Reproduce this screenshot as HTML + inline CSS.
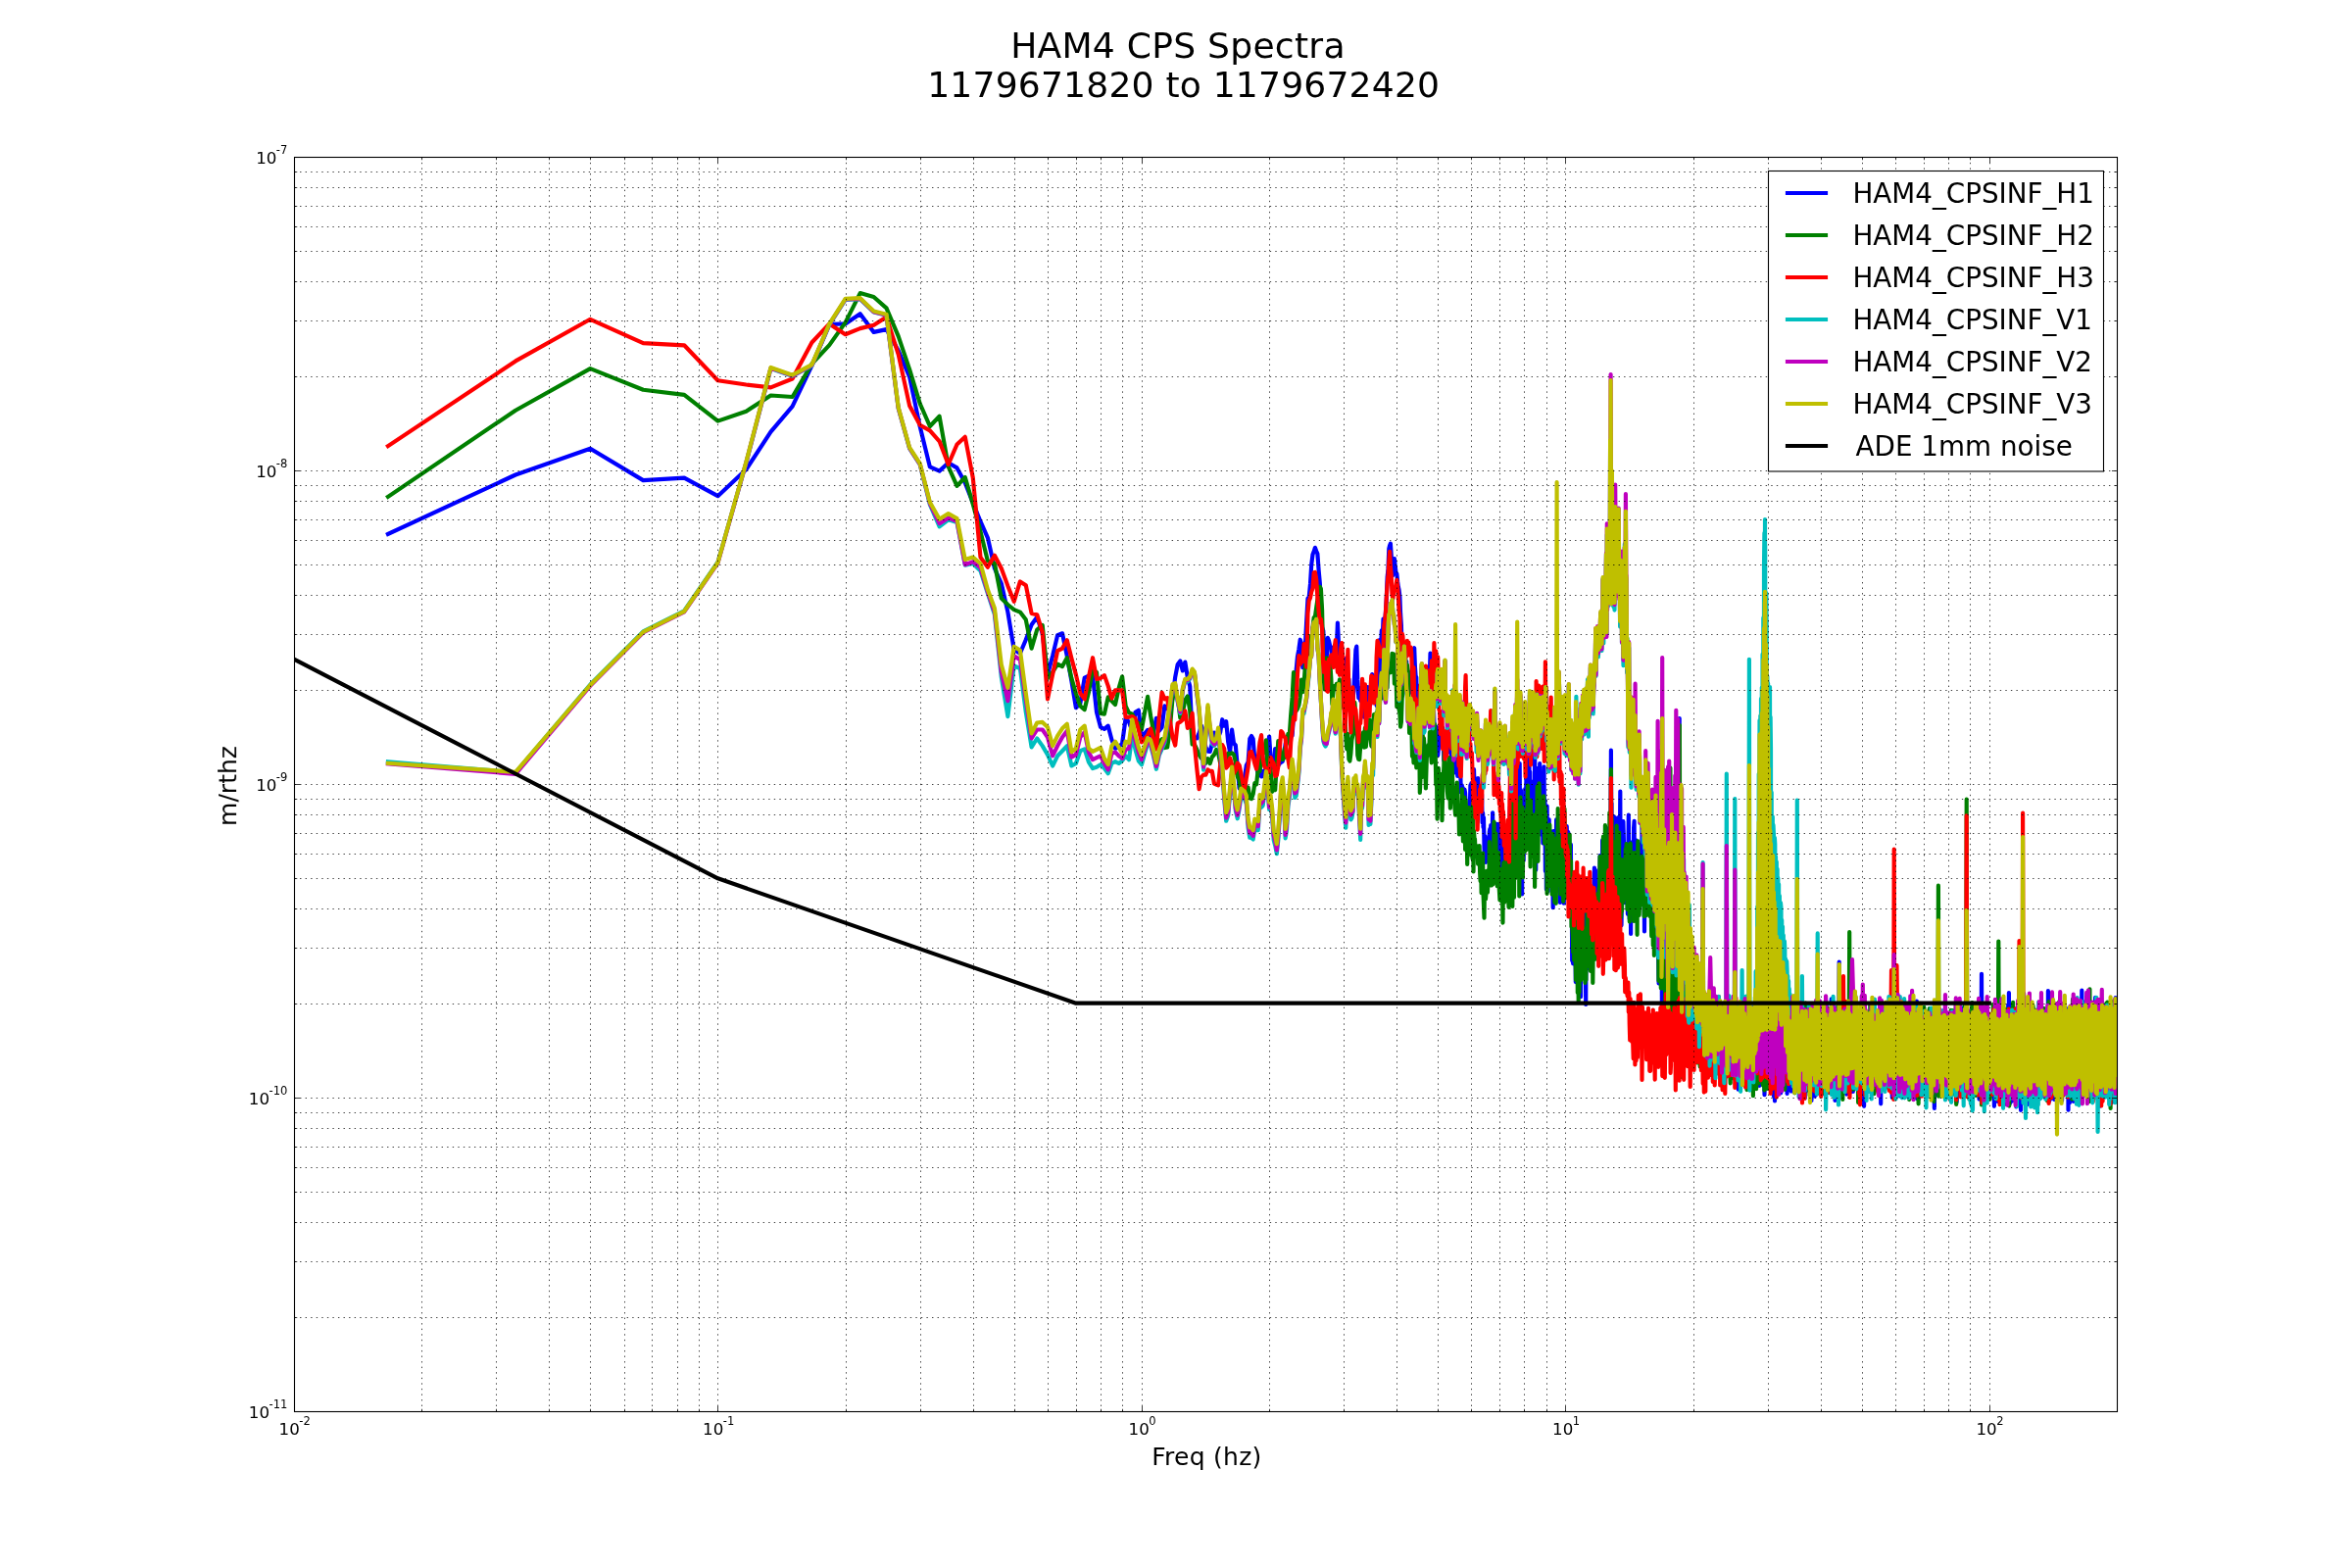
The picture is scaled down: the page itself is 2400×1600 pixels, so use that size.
<!DOCTYPE html><html><head><meta charset="utf-8"><title>HAM4 CPS Spectra</title>
<style>html,body{margin:0;padding:0;background:#fff}svg{display:block}text{font-family:"DejaVu Sans","Liberation Sans",sans-serif;fill:#000}</style></head><body>
<svg width="2400" height="1600" viewBox="0 0 2400 1600">
<rect width="2400" height="1600" fill="#fff"/>
<defs><clipPath id="ax"><rect x="300.5" y="160.5" width="1860" height="1280"/></clipPath></defs>
<g clip-path="url(#ax)" fill="none" stroke-width="4.17" stroke-linejoin="round" stroke-linecap="square">
<path stroke="#0000ff" d="M395.9,544.9 526.1,484.5 602.3,457.7 656.3,490.1 698.2,487.6 732.5,506.2 761.4,479.0 786.5,440.7 808.6,414.6 828.4,373.1 846.3,331.0 862.6,330.4 877.7,320.2 891.6,338.9 904.5,336.1 916.7,357.8 928.1,384.6 938.8,435.6 948.9,476.4 958.6,480.6 967.7,472.3 976.5,477.4 984.8,492.7 992.8,513.1 1000.5,532.2 1007.9,548.8 1014.9,580.0 1021.8,595.3 1028.4,624.6 1034.7,662.9 1040.9,666.7 1046.8,652.7 1052.6,637.4 1058.2,629.7 1063.7,646.3 1069.0,688.4 1074.1,669.3 1079.1,648.2 1084.0,646.3 1088.8,669.3 1093.4,694.8 1097.9,722.2 1102.3,717.8 1106.7,691.6 1110.9,689.7 1115.0,689.7 1119.0,726.7 1123.0,742.0 1126.9,743.9 1130.7,740.7 1134.4,754.7 1138.0,763.7 1141.6,762.4 1145.1,758.6 1148.6,733.1 1152.0,736.9 1155.3,745.8 1158.5,726.7 1161.8,724.8 1164.9,752.2 1168.0,748.5 1171.1,744.9 1174.1,750.5 1177.0,748.0 1179.9,732.8 1182.8,745.8 1185.6,742.2 1188.4,720.3 1191.2,723.3 1193.9,722.1 1196.5,713.0 1199.2,690.8 1201.7,678.0 1204.3,674.5 1206.8,684.4 1209.3,675.6 1211.8,691.1 1214.2,700.2 1216.6,751.6 1218.9,752.4 1221.3,753.4 1223.6,748.0 1225.9,740.4 1228.1,746.7 1230.3,762.2 1232.5,766.7 1234.7,766.9 1236.8,758.7 1239.0,747.5 1241.1,757.9 1243.1,752.7 1245.2,747.1 1247.2,734.2 1249.2,740.6 1251.2,736.2 1253.2,757.2 1255.1,767.7 1257.1,744.7 1259.0,758.5 1260.8,760.5 1262.7,782.4 1264.6,804.3 1266.4,804.3 1268.2,801.9 1270.0,793.5 1271.8,781.0 1273.6,777.6 1275.3,753.9 1277.0,751.0 1278.7,754.1 1280.4,776.8 1282.1,782.5 1283.8,789.4 1285.5,782.3 1287.1,792.4 1288.7,787.1 1290.3,792.9 1291.9,778.8 1293.5,765.6 1295.1,751.5 1296.6,773.1 1298.2,783.3 1299.7,783.2 1301.2,764.0 1302.8,778.1 1304.3,781.3 1305.7,779.1 1307.2,777.9 1308.7,777.0 1310.1,770.9 1311.6,759.3 1313.0,753.8 1314.4,751.2 1315.8,755.8 1317.2,751.0 1318.6,750.5 1320.0,730.3 1321.3,708.5 1322.7,683.5 1324.0,669.8 1325.4,662.3 1326.7,652.7 1328.0,656.4 1329.3,681.2 1330.6,671.1 1331.9,658.8 1333.2,633.6 1334.5,610.5 1335.7,609.8 1337.0,596.0 1338.2,576.4 1339.5,565.8 1340.7,562.8 1341.9,558.8 1343.2,562.3 1344.4,565.1 1345.6,581.7 1346.8,594.8 1347.9,613.9 1349.1,639.9 1350.3,643.6 1351.5,669.2 1352.6,683.6 1353.8,669.6 1354.9,650.9 1356.0,653.8 1357.2,659.1 1358.3,660.6 1359.4,679.1 1360.5,664.9 1361.6,679.9 1362.7,678.3 1363.8,663.4 1364.9,635.5 1366.0,657.4 1367.0,667.2 1368.1,666.4 1369.1,659.7 1370.2,672.0 1371.2,676.4 1372.3,696.1 1373.3,677.1 1374.3,671.0 1375.4,693.9 1376.4,692.9 1377.4,725.5 1378.4,711.4 1379.4,718.9 1380.4,714.3 1381.4,705.1 1382.4,682.1 1383.4,663.0 1384.3,659.6 1385.3,693.4 1386.3,712.1 1387.2,708.5 1388.2,715.0 1389.1,701.8 1390.1,718.7 1391.0,723.8 1392.0,731.7 1392.9,724.9 1393.8,714.8 1394.7,706.0 1395.7,701.0 1396.6,716.7 1397.5,707.4 1398.4,718.6 1399.3,699.5 1400.2,688.0 1401.1,691.3 1402.0,690.1 1402.9,710.2 1403.7,707.3 1404.6,719.8 1405.5,693.8 1406.4,676.7 1407.2,653.3 1408.1,685.3 1408.9,667.2 1409.8,643.4 1410.6,655.2 1411.5,631.5 1412.3,676.4 1413.2,635.9 1414.0,623.4 1414.8,610.3 1415.6,589.0 1416.5,580.4 1417.3,559.7 1418.1,556.5 1418.9,554.7 1419.7,566.9 1420.5,582.3 1421.3,587.2 1422.1,574.3 1422.9,570.1 1423.7,577.7 1424.5,584.7 1425.3,585.2 1426.1,593.3 1426.8,598.6 1427.6,602.0 1428.4,608.9 1429.1,626.5 1429.9,638.2 1430.7,670.6 1431.4,660.5 1432.2,667.6 1432.9,666.4 1433.7,682.7 1434.4,677.9 1435.2,674.9 1435.9,700.5 1436.7,708.2 1437.4,702.0 1438.1,707.1 1438.9,695.9 1439.6,685.8 1440.3,691.4 1441.0,683.2 1441.7,672.0 1442.5,662.5 1443.2,661.3 1443.9,680.0 1444.6,689.7 1445.3,691.1 1446.0,719.2 1446.7,712.7 1447.4,719.3 1448.1,728.3 1448.8,709.1 1449.5,699.2 1450.2,730.3 1450.8,717.3 1451.5,740.8 1452.2,726.5 1452.9,728.2 1453.6,720.2 1454.2,684.6 1454.9,709.0 1455.6,688.9 1456.2,682.6 1456.9,680.8 1457.5,688.3 1458.2,684.3 1458.9,688.1 1459.5,666.6 1460.2,685.3 1460.8,673.2 1461.5,704.7 1462.1,720.4 1462.7,715.6 1463.4,736.3 1464.0,745.9 1464.7,760.6 1465.3,741.3 1465.9,741.8 1466.6,743.1 1467.2,770.9 1467.8,764.3 1468.4,751.6 1469.1,756.0 1469.7,755.3 1470.3,756.8 1470.9,752.9 1471.5,752.0 1472.1,742.5 1472.7,750.1 1473.3,776.0 1473.9,764.7 1474.5,760.4 1475.1,758.1 1475.7,762.0 1476.3,766.0 1476.9,755.9 1477.5,766.0 1478.1,767.3 1478.7,757.2 1479.3,757.6 1479.9,756.1 1480.5,756.2 1481.1,778.9 1481.6,744.0 1482.2,768.4 1482.8,765.7 1483.4,766.8 1483.9,775.9 1484.5,788.5 1485.1,777.9 1485.7,776.7 1486.2,772.5 1486.8,779.0 1487.3,791.8 1487.9,778.3 1488.5,771.0 1489.0,770.8 1489.6,776.0 1490.1,776.7 1490.7,808.5 1491.2,804.0 1491.8,801.2 1492.3,824.1 1492.9,804.1 1493.4,823.8 1494.0,828.2 1494.5,805.5 1495.1,809.2 1495.6,820.0 1496.1,844.5 1496.7,852.7 1497.2,827.9 1497.7,855.7 1498.3,835.1 1498.8,830.6 1499.3,824.4 1499.9,822.5 1500.4,801.2 1500.9,806.1 1501.4,799.1 1501.9,814.4 1502.5,828.3 1503.0,833.9 1503.5,799.9 1504.0,785.1 1504.5,801.1 1505.0,796.0 1505.6,830.5 1506.1,815.4 1506.6,801.5 1507.1,821.6 1507.6,818.0 1508.1,794.2 1508.6,807.8 1509.1,812.1 1509.6,816.1 1510.1,818.4 1510.6,814.0 1511.1,821.1 1511.6,813.1 1512.1,810.5 1512.6,839.4 1513.1,829.6 1513.5,844.2 1514.0,834.3 1514.5,864.5 1515.0,879.0 1515.5,853.3 1516.0,879.9 1516.5,861.5 1516.9,869.5 1517.4,862.1 1517.9,865.1 1518.4,875.4 1518.8,855.5 1519.3,877.4 1519.8,848.8 1520.3,845.9 1520.7,864.0 1521.2,842.1 1521.7,849.1 1522.1,863.0 1522.6,865.4 1523.1,829.3 1523.5,856.3 1524.0,873.2 1524.5,865.7 1524.9,849.5 1525.4,845.9 1525.8,850.1 1526.3,840.7 1526.8,851.8 1527.2,853.3 1527.7,854.4 1528.1,870.8 1528.6,854.7 1529.0,840.8 1529.5,871.1 1529.9,846.6 1530.4,854.6 1530.8,859.0 1531.3,857.1 1531.7,849.9 1532.2,859.3 1532.6,888.6 1533.0,855.9 1533.5,862.0 1533.9,877.4 1534.4,873.3 1534.8,874.0 1535.2,875.6 1535.7,842.3 1536.1,855.9 1536.5,868.2 1537.0,872.9 1537.4,882.4 1537.8,872.5 1538.3,864.0 1538.7,867.4 1539.1,864.4 1539.5,869.9 1540.0,875.0 1540.4,840.6 1540.8,823.7 1541.2,822.1 1541.7,892.1 1542.1,899.0 1542.5,888.8 1542.9,884.2 1543.3,883.5 1543.8,852.8 1544.2,877.6 1544.6,813.5 1545.0,845.3 1545.4,824.4 1545.8,877.2 1546.2,828.1 1546.6,844.1 1547.1,860.9 1547.5,892.8 1547.9,816.9 1548.3,811.0 1548.7,869.2 1549.1,803.8 1549.5,854.0 1549.9,819.6 1550.3,833.5 1550.7,779.0 1551.1,856.7 1551.5,818.7 1551.9,806.2 1552.3,893.4 1552.7,853.1 1553.1,912.5 1553.5,843.9 1553.9,821.8 1554.3,834.9 1554.7,878.1 1555.1,830.7 1555.5,844.3 1555.8,846.1 1556.2,805.1 1556.6,834.7 1557.0,816.6 1557.4,795.4 1557.8,855.3 1558.2,849.3 1558.6,832.5 1558.9,804.8 1559.3,774.0 1559.7,843.5 1560.1,827.1 1560.5,783.0 1560.9,827.9 1561.2,787.5 1561.6,828.6 1562.0,833.2 1562.4,838.8 1562.7,834.9 1563.1,833.5 1563.5,797.8 1563.9,818.2 1564.2,814.7 1564.6,822.0 1565.0,835.5 1565.4,844.7 1565.7,871.7 1566.1,759.4 1566.5,838.4 1566.8,822.4 1567.2,887.7 1567.6,852.0 1567.9,783.8 1568.3,837.7 1568.7,813.4 1569.0,852.9 1569.4,799.4 1569.8,824.1 1570.1,823.2 1570.5,824.0 1570.8,811.3 1571.2,779.0 1571.6,837.9 1571.9,851.5 1572.3,824.1 1572.6,799.9 1573.0,830.8 1573.4,839.8 1573.7,821.0 1574.1,825.0 1574.4,860.5 1574.8,797.1 1575.1,812.3 1575.5,782.4 1575.8,815.7 1576.2,818.2 1576.5,816.3 1576.9,889.1 1577.6,844.8 1577.9,907.5 1578.6,822.6 1579.0,875.1 1579.7,909.5 1580.0,844.4 1580.7,836.3 1581.0,874.7 1581.7,849.6 1582.1,871.0 1582.7,858.7 1583.1,893.7 1583.7,873.9 1584.1,848.4 1584.7,926.2 1585.1,862.2 1585.7,856.9 1586.1,847.9 1586.7,850.7 1587.1,904.6 1587.7,872.5 1588.1,836.4 1588.7,877.3 1589.1,845.1 1589.7,848.2 1590.0,895.1 1590.7,886.5 1591.0,865.3 1591.6,872.2 1592.0,920.9 1592.6,847.3 1593.0,900.7 1593.6,866.6 1593.9,904.2 1594.5,875.7 1594.9,841.8 1595.5,850.9 1595.8,921.7 1596.4,893.7 1596.8,885.1 1597.4,895.2 1597.7,866.6 1598.3,894.3 1598.7,843.0 1599.2,860.4 1599.6,886.1 1600.2,849.0 1600.5,865.2 1601.1,906.8 1601.4,871.4 1602.0,872.7 1602.4,906.4 1602.9,861.8 1603.3,936.3 1603.8,911.1 1604.2,980.3 1604.7,927.6 1605.1,983.3 1605.6,926.8 1606.0,976.4 1606.5,956.0 1606.9,903.7 1607.4,932.4 1607.8,1002.1 1608.3,952.9 1608.7,949.3 1609.2,939.9 1609.5,960.7 1610.1,965.9 1610.4,946.3 1610.9,925.1 1611.3,970.7 1611.8,963.3 1612.2,936.4 1612.7,928.9 1613.0,1017.2 1613.5,957.0 1613.9,940.1 1614.4,996.1 1614.8,964.9 1615.3,924.7 1615.6,972.4 1616.1,945.2 1616.5,928.7 1617.0,938.7 1617.3,957.7 1617.8,957.7 1618.2,1024.9 1618.6,932.0 1619.0,965.4 1619.5,982.3 1619.8,948.9 1620.3,947.7 1620.7,954.4 1621.1,988.1 1621.5,924.0 1622.0,937.1 1622.3,976.5 1622.8,978.0 1623.1,953.9 1623.6,908.1 1624.0,964.5 1624.4,964.1 1624.8,919.6 1625.2,931.9 1625.6,955.8 1626.0,954.9 1626.4,904.3 1626.9,885.5 1627.2,968.4 1627.7,939.9 1628.0,887.8 1628.4,948.4 1628.8,976.5 1629.2,944.4 1629.6,910.0 1630.0,923.2 1630.4,910.6 1630.8,914.7 1631.2,929.4 1631.6,953.1 1632.0,924.5 1632.4,906.4 1632.7,873.2 1633.2,878.2 1633.5,931.6 1633.9,905.3 1634.3,885.6 1634.7,941.5 1635.1,857.4 1635.5,908.1 1635.8,868.1 1636.2,859.1 1636.6,903.6 1637.0,930.1 1637.4,857.6 1637.8,904.1 1638.1,862.9 1638.5,858.7 1638.9,894.9 1639.3,910.7 1639.6,847.4 1640.0,849.6 1640.4,898.3 1640.8,918.3 1641.1,863.6 1641.5,909.8 1641.9,844.9 1642.3,868.5 1642.6,915.6 1643.0,880.9 1643.3,832.4 1643.7,863.7 1644.1,886.9 1644.5,819.6 1644.8,909.9 1645.2,896.5 1645.5,912.2 1645.9,861.5 1646.3,886.1 1646.6,922.2 1647.0,833.4 1647.4,859.4 1647.7,916.8 1648.1,846.5 1648.4,880.2 1648.8,839.2 1649.1,902.1 1649.5,897.1 1649.9,846.0 1650.2,907.8 1650.6,843.2 1650.9,834.3 1651.3,915.2 1651.6,841.4 1652.0,889.2 1652.3,856.2 1652.7,887.9 1653.3,807.6 1653.6,892.2 1654.2,865.2 1654.5,944.3 1655.1,908.7 1655.5,885.2 1656.0,907.5 1656.4,838.2 1656.9,857.2 1657.3,894.5 1657.9,921.1 1658.2,870.5 1658.8,875.1 1659.1,902.9 1659.7,919.0 1660.0,874.0 1660.6,861.5 1660.9,932.8 1661.4,875.1 1661.8,831.7 1662.3,887.8 1662.7,937.7 1663.2,860.3 1663.6,882.1 1664.1,952.9 1664.5,873.6 1665.0,860.5 1665.3,915.4 1665.8,859.0 1666.2,898.3 1666.7,905.7 1667.1,844.7 1667.6,837.8 1667.9,914.6 1668.4,927.8 1668.8,889.4 1669.3,857.4 1669.6,903.6 1670.1,866.8 1670.5,916.0 1671.0,900.9 1671.3,876.7 1671.8,870.0 1672.2,898.1 1672.7,867.3 1673.0,911.7 1673.5,922.5 1673.9,884.8 1674.3,899.2 1674.7,861.2 1675.2,914.8 1675.5,843.1 1676.0,867.9 1676.4,911.1 1676.8,894.1 1677.2,873.6 1677.6,884.8 1678.0,950.5 1678.5,883.3 1678.8,877.2 1679.3,910.0 1679.6,872.7 1680.1,911.2 1680.4,892.5 1680.9,878.3 1681.2,916.6 1681.7,878.9 1682.0,901.5 1682.5,872.8 1682.8,908.4 1683.3,918.7 1683.6,880.8 1684.1,915.5 1684.4,901.2 1684.9,928.9 1685.2,881.3 1685.6,917.7 1686.0,874.6 1686.4,929.3 1686.8,890.8 1687.2,961.0 1687.5,905.9 1688.0,896.8 1688.3,945.7 1688.7,956.7 1689.1,887.1 1689.5,902.4 1689.9,957.3 1690.3,970.8 1690.6,917.8 1691.0,961.8 1691.4,971.0 1691.8,893.5 1692.1,963.4 1692.6,1003.5 1692.9,932.0 1693.3,956.4 1693.7,910.5 1694.1,1004.1 1694.4,930.6 1694.8,1004.2 1695.1,920.3 1695.5,935.6 1695.9,1030.8 1696.3,910.9 1696.6,998.2 1697.0,947.0 1697.4,1021.6 1697.8,1001.3 1698.1,949.0 1698.5,963.2 1698.8,1038.1 1699.2,963.8 1699.6,948.5 1699.9,929.4 1700.3,1000.3 1700.7,969.3 1701.0,1006.8 1701.4,999.0 1701.7,955.2 1702.1,975.5 1702.5,955.1 1702.8,967.1 1703.2,1019.3 1703.5,988.7 1703.9,952.8 1704.2,987.0 1704.6,898.4 1705.0,1015.6 1705.3,940.4 1705.7,1004.1 1706.0,933.4 1706.4,936.2 1706.7,1015.5 1707.2,935.1 1707.6,994.6 1708.1,971.8 1708.5,1017.2 1709.0,970.4 1709.3,1036.9 1709.8,990.9 1710.2,1025.2 1710.7,1059.5 1711.0,958.5 1711.5,1047.0 1711.9,955.1 1712.4,1043.4 1712.7,1009.3 1713.2,1031.0 1713.6,1006.2 1714.1,1047.4 1714.4,983.8 1714.9,1065.5 1715.3,1004.7 1715.8,1077.0 1716.1,989.4 1716.6,1070.2 1716.9,1001.0 1717.4,1077.7 1717.8,968.8 1718.2,1068.4 1718.6,1027.9 1719.1,1063.5 1719.4,999.1 1719.9,982.0 1720.2,1031.3 1720.7,1046.3 1721.0,1016.9 1721.5,1000.9 1721.9,1052.5 1722.3,1015.0 1722.7,1058.9 1723.1,1020.9 1723.5,1080.3 1723.9,1013.6 1724.3,1043.8 1724.7,1027.8 1725.1,1070.3 1725.5,1025.0 1725.8,1061.2 1726.3,1074.5 1726.6,1012.4 1727.1,1011.4 1727.4,1067.8 1727.9,1062.4 1728.2,1024.3 1728.6,1012.3 1729.0,1055.1 1729.4,1047.9 1729.8,1036.9 1730.2,1057.5 1730.5,1021.3 1731.0,1069.2 1731.3,1045.6 1731.7,1023.6 1732.1,1055.1 1732.5,1069.1 1732.8,1038.3 1733.2,1081.6 1733.6,1038.4 1734.0,1045.4 1734.4,1065.3 1734.8,1067.6 1735.1,1044.7 1735.5,1078.3 1735.9,1061.9 1736.3,1074.9 1736.6,1036.2 1737.0,1051.1 1737.4,1064.8 1737.7,1034.2 1738.1,1065.5 1738.5,1068.1 1738.8,1053.3 1739.2,1049.0 1739.6,1099.1 1740.0,1035.6 1740.3,1069.4 1740.7,1026.7 1741.0,1066.7 1741.4,1078.3 1741.8,1056.6 1742.1,1046.8 1742.5,1077.4 1742.9,1037.6 1743.2,1076.4 1743.6,1040.8 1743.9,1076.2 1744.3,1075.9 1744.7,1063.0 1745.0,1053.8 1745.4,1081.2 1745.7,1063.4 1746.1,1046.8 1746.4,1070.1 1746.8,1034.0 1747.1,1080.3 1747.5,1048.6 1747.8,1072.6 1748.2,1036.8 1748.6,1086.3 1748.9,1048.8 1749.4,1082.6 1749.7,1051.8 1750.2,1074.7 1750.6,1052.8 1751.1,1039.0 1751.4,1066.6 1751.9,1083.6 1752.2,1048.6 1752.7,1052.9 1753.1,1081.6 1753.5,1036.3 1753.9,1073.4 1754.3,1083.4 1754.7,1029.0 1755.2,1047.9 1755.5,1075.0 1756.0,1076.9 1756.3,1047.6 1756.8,1080.8 1757.1,1053.0 1757.6,1077.9 1757.9,1043.5 1758.4,1050.7 1758.7,1078.6 1759.2,1047.4 1759.5,1075.9 1760.0,1049.8 1760.3,1084.6 1760.7,1033.9 1761.1,1086.8 1761.5,1047.2 1761.9,1070.8 1762.3,1090.8 1762.7,1052.3 1763.1,1076.3 1763.4,1057.4 1763.9,1052.7 1764.2,1082.1 1764.6,1070.1 1765.0,1036.1 1765.4,1044.9 1765.8,1090.1 1766.2,1041.3 1766.5,1092.2 1766.9,1082.3 1767.3,1043.7 1767.7,1044.6 1768.0,1076.2 1768.5,1063.7 1768.8,1084.4 1769.2,1046.7 1769.6,1092.3 1770.0,1084.2 1770.3,1049.7 1770.7,1051.3 1771.1,1089.0 1771.4,1040.1 1771.8,1080.0 1772.2,1040.2 1772.5,1077.1 1772.9,1032.5 1773.3,1074.8 1773.7,1111.7 1774.0,1046.3 1774.4,1060.7 1774.7,1093.0 1775.1,1070.3 1775.5,1048.5 1775.9,1036.8 1776.2,1083.6 1776.6,1084.0 1776.9,1047.6 1777.3,1058.6 1777.7,1079.5 1778.0,1071.0 1778.4,1058.5 1778.7,1058.5 1779.1,1087.7 1779.5,1080.0 1779.8,1017.7 1780.2,1101.9 1780.5,1051.0 1780.9,1089.5 1781.2,1048.8 1781.6,1109.4 1781.9,1027.1 1782.3,1079.5 1782.6,1050.8 1783.0,1091.6 1783.3,1061.5 1783.8,1038.0 1784.1,1087.7 1784.6,1043.0 1785.0,1086.0 1785.4,1080.1 1785.8,1051.9 1786.2,1042.9 1786.6,1088.0 1787.0,1082.5 1787.4,1047.6 1787.8,1058.6 1788.2,1090.1 1788.6,1027.8 1789.0,1104.0 1789.4,1109.7 1789.7,1029.2 1790.2,1059.2 1790.5,1095.6 1791.0,1084.7 1791.3,1057.1 1791.7,1042.7 1792.1,1094.9 1792.5,1091.7 1792.9,1052.1 1793.3,1069.5 1793.6,1050.4 1794.1,1018.0 1794.4,1080.7 1794.8,1018.0 1795.2,1108.0 1795.6,1048.8 1795.9,1100.5 1796.4,1101.9 1796.7,1049.4 1797.1,1061.6 1797.5,1094.9 1797.9,1101.6 1798.2,1034.1 1798.6,1058.7 1799.0,1086.0 1799.4,1092.3 1799.7,1042.5 1800.1,1045.2 1800.5,1117.2 1800.9,1095.1 1801.2,1060.8 1801.6,1049.0 1801.9,1078.9 1802.3,1061.9 1802.7,1097.5 1803.1,1054.2 1803.4,1090.4 1803.8,1085.5 1804.2,1029.0 1804.5,1105.5 1804.9,1063.0 1805.3,1086.7 1805.6,1047.1 1806.0,1030.3 1806.3,1097.0 1806.7,1081.6 1807.0,1056.9 1807.4,1040.1 1807.8,1101.4 1808.1,1051.2 1808.5,1105.5 1808.8,1045.4 1809.2,1095.7 1809.6,1050.1 1809.9,1118.5 1810.3,1018.3 1810.6,1089.1 1811.0,1123.4 1811.3,1070.9 1811.7,1050.6 1812.0,1103.5 1812.5,1041.2 1812.8,1106.6 1813.3,1050.3 1813.6,1095.2 1814.0,1087.6 1814.4,1056.9 1814.8,1090.5 1815.2,1053.3 1815.6,1101.4 1816.0,1037.4 1816.4,1098.5 1816.8,1044.0 1817.2,1115.3 1817.5,1045.0 1818.0,1102.0 1818.3,1041.5 1818.7,1033.7 1819.1,1081.1 1819.5,1054.4 1819.8,1103.9 1820.3,1054.9 1820.6,1083.1 1821.0,1090.1 1821.4,1034.6 1821.8,1047.2 1822.1,1089.9 1822.5,1091.2 1822.9,1042.7 1823.3,1054.4 1823.6,1116.0 1824.0,1102.1 1824.4,1047.7 1824.8,1034.0 1825.1,1099.5 1825.5,1026.5 1825.9,1078.5 1826.3,1053.7 1826.6,1084.0 1827.0,1097.7 1827.4,1053.3 1827.8,1113.6 1828.1,1035.4 1828.5,1098.1 1828.8,1036.5 1829.2,1049.3 1829.6,1096.0 1829.9,1088.6 1830.3,1054.9 1830.7,1055.4 1831.0,1088.9 1831.4,1103.9 1831.7,1050.6 1832.1,1027.9 1832.5,1089.9 1832.8,1105.9 1833.2,1052.8 1833.5,1102.5 1833.9,1061.2 1834.3,1106.5 1834.6,1049.5 1835.0,1057.8 1835.3,1108.0 1835.7,1060.4 1836.0,1089.1 1836.4,1096.4 1836.7,1046.6 1837.1,1039.8 1837.4,1113.9 1837.9,1053.4 1838.2,1098.2 1838.6,1067.4 1839.0,1118.1 1839.4,1065.9 1839.8,1097.5 1840.2,1101.7 1840.5,1049.3 1841.0,1075.2 1841.3,1051.4 1841.7,1120.7 1842.1,1056.0 1842.5,1114.0 1842.8,1041.7 1843.3,1029.0 1843.6,1105.9 1844.0,1088.3 1844.4,1041.8 1844.8,1027.2 1845.1,1106.2 1845.5,1057.2 1845.9,1112.8 1846.3,1059.1 1846.6,1101.8 1847.0,1112.8 1847.4,1048.2 1847.8,1027.7 1848.1,1103.9 1848.5,1122.9 1848.9,1044.4 1849.2,1042.0 1849.6,1097.2 1850.0,1116.9 1850.3,1052.5 1850.7,1098.3 1851.1,1055.8 1851.4,1069.2 1851.8,1118.6 1852.2,1091.8 1852.5,1052.7 1852.9,1104.5 1853.2,1061.8 1853.6,1028.3 1854.0,1116.6 1854.3,1057.2 1854.7,1102.1 1855.0,1107.9 1855.4,1049.1 1855.8,1050.5 1856.1,1093.6 1856.5,1055.9 1856.8,1108.6 1857.2,1023.0 1857.5,1086.5 1857.9,1098.5 1858.2,1034.4 1858.6,1058.0 1858.9,1099.3 1859.4,1091.2 1859.7,1047.1 1860.1,1115.0 1860.5,1034.4 1860.9,1115.9 1861.3,1045.9 1861.7,1043.5 1862.0,1116.4 1862.4,1045.0 1862.8,1115.5 1863.2,1101.4 1863.6,1023.2 1864.0,1096.6 1864.3,1036.3 1864.7,1050.0 1865.1,1088.9 1865.5,1035.9 1865.8,1111.9 1866.2,1055.0 1866.6,1110.8 1867.0,1062.0 1867.3,1098.3 1867.7,1100.2 1868.1,1050.6 1868.4,1086.9 1868.8,1019.3 1869.2,1104.1 1869.5,1049.8 1869.9,1031.4 1870.3,1088.6 1870.7,1049.1 1871.0,1090.6 1871.4,1102.8 1871.7,1067.4 1872.1,1051.9 1872.5,1122.9 1872.8,1045.5 1873.2,1107.4 1873.6,1104.8 1873.9,1056.2 1874.3,1106.8 1874.6,1032.4 1875.0,1106.1 1875.3,1027.1 1875.7,1030.0 1876.0,1113.0 1876.4,1097.7 1876.8,1045.0 1877.1,1103.6 1877.5,1032.4 1877.8,1055.1 1878.2,1107.1 1878.5,1021.8 1878.9,1099.8 1879.3,1050.2 1879.6,1094.2 1880.1,1104.6 1880.4,1045.9 1880.8,1043.7 1881.2,1102.6 1881.6,1045.3 1881.9,1102.6 1882.3,1112.9 1882.7,1045.4 1883.1,1051.5 1883.4,1107.2 1883.8,1044.7 1884.2,1116.6 1884.6,1052.0 1884.9,1097.8 1885.3,1097.8 1885.7,1059.3 1886.1,1098.2 1886.4,1054.2 1886.8,1039.4 1887.2,1086.9 1887.5,1115.5 1887.9,1038.5 1888.3,1059.0 1888.6,1097.5 1889.0,1089.8 1889.4,1037.1 1889.7,1097.1 1890.1,1053.7 1890.5,1053.4 1890.8,1114.0 1891.2,1049.7 1891.5,1106.5 1891.9,1032.0 1892.3,1088.0 1892.6,1029.5 1893.0,1098.6 1893.3,1053.1 1893.7,1101.7 1894.0,1055.7 1894.4,1094.8 1894.8,1043.2 1895.1,1106.7 1895.5,1042.6 1895.8,1106.8 1896.2,1089.3 1896.5,1056.2 1896.9,1099.6 1897.2,1059.2 1897.6,1094.0 1898.0,1058.4 1898.4,1055.3 1898.7,1095.4 1899.1,1038.0 1899.5,1112.8 1899.9,1111.8 1900.2,1038.9 1900.6,1107.8 1901.0,1035.6 1901.4,1092.3 1901.7,1060.8 1902.1,1128.8 1902.5,1043.8 1902.9,1031.3 1903.2,1098.8 1903.6,1035.1 1904.0,1094.5 1904.3,1081.9 1904.7,1049.9 1905.1,1092.2 1905.4,1033.4 1905.8,1104.9 1906.1,1055.0 1906.5,1106.5 1906.9,1044.4 1907.2,1090.4 1907.6,1052.2 1908.0,1051.3 1908.3,1102.5 1908.7,1099.4 1909.0,1064.5 1909.4,1057.8 1909.7,1112.3 1910.1,1058.2 1910.5,1108.6 1910.8,1097.6 1911.2,1046.6 1911.5,1057.8 1911.9,1099.0 1912.2,1108.3 1912.6,1043.8 1912.9,1046.1 1913.3,1100.6 1913.7,1110.6 1914.0,1064.0 1914.4,1091.3 1914.8,1052.0 1915.2,1047.9 1915.5,1112.4 1915.9,1110.1 1916.3,1049.8 1916.7,1046.4 1917.0,1083.5 1917.4,1044.6 1917.8,1090.0 1918.2,1050.2 1918.5,1105.4 1918.9,1053.6 1919.2,1126.3 1919.6,1044.2 1920.0,1112.2 1920.4,1100.4 1920.7,1046.7 1921.1,1061.0 1921.4,1106.2 1921.8,1061.6 1922.2,1104.7 1922.5,1048.1 1922.9,1093.4 1923.3,1040.1 1923.6,1093.2 1924.0,1110.6 1924.3,1060.5 1924.7,1103.3 1925.0,1057.5 1925.4,1089.5 1925.7,1056.3 1926.1,1044.6 1926.5,1097.2 1926.8,1044.7 1927.2,1094.1 1927.5,1046.4 1927.9,1108.7 1928.2,1041.1 1928.6,1099.1 1929.0,1049.6 1929.3,1112.3 1929.7,1102.4 1930.1,1052.2 1930.5,1040.6 1930.8,1119.9 1931.2,1051.1 1931.5,1115.9 1931.9,1101.1 1932.3,1040.1 1932.7,1053.5 1933.0,1097.7 1933.4,1053.3 1933.8,1109.4 1934.1,1095.4 1934.5,1028.5 1934.9,1098.3 1935.2,1052.6 1935.6,1044.5 1935.9,1118.0 1936.3,1048.9 1936.7,1114.9 1937.0,1049.3 1937.4,1094.2 1937.8,1043.6 1938.1,1108.8 1938.5,1118.4 1938.8,1046.9 1939.2,1055.7 1939.5,1108.3 1939.9,1038.1 1940.2,1101.1 1940.6,1118.9 1940.9,1028.3 1941.3,1048.0 1941.6,1106.1 1942.0,1104.6 1942.3,1046.6 1942.7,1112.1 1943.1,1050.9 1943.5,1047.4 1943.8,1106.7 1944.2,1036.2 1944.6,1104.1 1945.0,1038.7 1945.3,1106.5 1945.7,1046.1 1946.1,1108.8 1946.4,1039.1 1946.8,1103.3 1947.2,1103.7 1947.5,1050.4 1947.9,1087.1 1948.2,1050.9 1948.6,1089.9 1949.0,1046.7 1949.3,1059.9 1949.7,1105.4 1950.1,1044.3 1950.4,1109.8 1950.8,1064.4 1951.1,1104.2 1951.5,1099.3 1951.8,1035.7 1952.2,1046.4 1952.6,1106.1 1952.9,1049.6 1953.3,1102.1 1953.6,1102.0 1954.0,1037.2 1954.3,1049.6 1954.7,1113.5 1955.0,1053.3 1955.4,1096.6 1955.8,1021.5 1956.1,1121.2 1956.5,1044.7 1956.9,1112.5 1957.2,1044.1 1957.6,1098.6 1958.0,1120.9 1958.3,1052.7 1958.7,1116.7 1959.1,1044.1 1959.4,1099.1 1959.8,1058.4 1960.2,1050.7 1960.5,1100.7 1960.9,1096.2 1961.2,1058.1 1961.6,1045.9 1962.0,1114.4 1962.3,1044.8 1962.7,1093.8 1963.1,1094.7 1963.4,1055.6 1963.8,1066.4 1964.1,1111.4 1964.5,1104.4 1964.8,1046.5 1965.2,1111.1 1965.5,1043.3 1965.9,1090.0 1966.2,1043.7 1966.6,1032.7 1966.9,1094.5 1967.3,1112.2 1967.7,1048.3 1968.1,1099.8 1968.4,1042.4 1968.8,1042.9 1969.2,1103.0 1969.6,1047.2 1969.9,1116.7 1970.3,1100.6 1970.6,1036.2 1971.0,1095.9 1971.4,1045.7 1971.7,1041.2 1972.1,1114.7 1972.5,1051.2 1972.8,1098.4 1973.2,1052.7 1973.5,1110.7 1973.9,1130.9 1974.3,1046.9 1974.6,1117.3 1975.0,1055.7 1975.3,1096.4 1975.7,1024.1 1976.0,1089.0 1976.4,1044.6 1976.7,1055.7 1977.1,1113.1 1977.4,1117.0 1977.8,1050.0 1978.2,1102.8 1978.5,1049.6 1978.9,1063.7 1979.2,1111.9 1979.6,1031.7 1980.0,1111.3 1980.4,1103.9 1980.7,1045.5 1981.1,1106.0 1981.4,1060.5 1981.8,1041.3 1982.2,1105.8 1982.6,1103.0 1982.9,1062.1 1983.3,1053.5 1983.6,1113.0 1984.0,1054.1 1984.3,1106.4 1984.7,1052.5 1985.1,1107.3 1985.4,1091.8 1985.8,1061.9 1986.1,1036.7 1986.5,1101.8 1986.8,1059.8 1987.2,1105.7 1987.6,1107.4 1987.9,1047.5 1988.3,1099.2 1988.6,1042.9 1989.0,1101.1 1989.3,1036.1 1989.7,1110.3 1990.1,1043.3 1990.4,1047.5 1990.8,1102.5 1991.2,1048.0 1991.5,1110.1 1991.9,1056.7 1992.2,1097.9 1992.6,1045.1 1993.0,1112.4 1993.3,1103.7 1993.7,1069.3 1994.1,1094.8 1994.4,1049.5 1994.8,1097.7 1995.1,1046.3 1995.5,1049.3 1995.9,1105.7 1996.2,1044.9 1996.6,1124.7 1996.9,1117.3 1997.3,1051.6 1997.6,1107.1 1998.0,1035.4 1998.3,1109.4 1998.7,1038.8 1999.0,1111.9 1999.4,1038.1 1999.8,1027.1 2000.1,1111.6 2000.5,1047.4 2000.9,1104.1 2001.2,1062.4 2001.6,1099.6 2002.0,1045.2 2002.3,1107.7 2002.7,1047.5 2003.0,1114.1 2003.4,1102.6 2003.8,1028.2 2004.1,1114.1 2004.5,1065.9 2004.8,1039.5 2005.2,1112.9 2005.6,1052.0 2005.9,1111.0 2006.3,1048.9 2006.6,1108.0 2007.0,1108.1 2007.3,1038.4 2007.7,1053.9 2008.0,1098.6 2008.4,1117.8 2008.7,1052.4 2009.1,1037.6 2009.4,1097.0 2009.8,1033.1 2010.2,1100.2 2010.6,1104.3 2010.9,1045.4 2011.3,1114.7 2011.6,1034.5 2012.0,1109.8 2012.4,1051.1 2012.7,1098.8 2013.1,1041.3 2013.4,1094.7 2013.8,1053.0 2014.2,1058.1 2014.5,1116.5 2014.9,1113.9 2015.2,1049.2 2015.6,1116.3 2015.9,1047.5 2016.3,1056.3 2016.6,1103.7 2017.0,1092.8 2017.3,1032.1 2017.7,1041.3 2018.0,1111.9 2018.4,1106.4 2018.8,1046.2 2019.2,1059.7 2019.5,1121.6 2019.9,1061.7 2020.2,1107.8 2020.6,1110.1 2021.0,1050.5 2021.3,1035.1 2021.7,1111.7 2022.1,1117.1 2022.4,1057.7 2022.8,1051.5 2023.1,1122.2 2023.5,1104.3 2023.8,1057.1 2024.2,1054.1 2024.5,1124.3 2024.9,1047.9 2025.3,1099.8 2025.6,1111.1 2026.0,1048.6 2026.3,1104.7 2026.7,1048.8 2027.0,1113.5 2027.4,1054.7 2027.7,1100.7 2028.1,1041.2 2028.5,1113.3 2028.8,1039.4 2029.2,1052.4 2029.5,1105.5 2029.9,1056.3 2030.3,1108.4 2030.6,1101.1 2031.0,1045.5 2031.3,1113.3 2031.7,1049.4 2032.1,1054.6 2032.4,1106.8 2032.8,1053.4 2033.1,1107.5 2033.5,1048.5 2033.8,1115.7 2034.2,1119.3 2034.5,1027.4 2034.9,1128.8 2035.2,1051.1 2035.6,1117.9 2036.0,1052.8 2036.3,1051.4 2036.7,1114.1 2037.1,1038.3 2037.4,1120.9 2037.8,1027.3 2038.1,1101.7 2038.5,1124.0 2038.9,1028.4 2039.2,1106.2 2039.6,1032.9 2039.9,1103.7 2040.3,1035.2 2040.6,1030.0 2041.0,1105.0 2041.4,1122.3 2041.7,1046.2 2042.1,1112.2 2042.4,1038.1 2042.8,1106.2 2043.1,1053.0 2043.5,1107.9 2043.8,1032.3 2044.2,1047.7 2044.6,1116.8 2044.9,1116.9 2045.3,1037.1 2045.7,1050.3 2046.0,1116.3 2046.4,1045.8 2046.7,1095.9 2047.1,1054.7 2047.4,1126.9 2047.8,1035.9 2048.2,1107.2 2048.5,1110.6 2048.9,1041.9 2049.2,1025.6 2049.6,1097.9 2049.9,1013.1 2050.3,1121.6 2050.6,1032.5 2051.0,1126.1 2051.4,1053.4 2051.7,1107.5 2052.1,1031.4 2052.4,1107.4 2052.8,1040.0 2053.1,1123.6 2053.5,1107.9 2053.9,1051.2 2054.2,1043.6 2054.6,1116.7 2054.9,1116.5 2055.3,1044.1 2055.7,1115.3 2056.0,1036.7 2056.4,1117.5 2056.7,1042.7 2057.1,1050.9 2057.4,1129.5 2057.8,1109.1 2058.1,1051.7 2058.5,1109.6 2058.9,1048.6 2059.2,1045.1 2059.6,1106.0 2059.9,1038.4 2060.3,1113.8 2060.7,1045.7 2061.0,1102.4 2061.4,1049.2 2061.7,1122.6 2062.1,1132.8 2062.4,1043.9 2062.8,1112.4 2063.2,1034.9 2063.5,1105.2 2063.9,1043.4 2064.2,1040.5 2064.6,1125.0 2064.9,1041.9 2065.3,1108.6 2065.6,1119.9 2066.0,1043.2 2066.4,1047.9 2066.7,1115.0 2067.1,1095.7 2067.4,1047.3 2067.8,1108.9 2068.2,1023.4 2068.5,1035.1 2068.9,1127.1 2069.2,1100.4 2069.6,1043.8 2069.9,1039.4 2070.3,1112.5 2070.6,1038.3 2071.0,1109.0 2071.4,1100.9 2071.7,1025.1 2072.1,1040.0 2072.4,1111.6 2072.8,1098.4 2073.1,1030.4 2073.5,1043.8 2073.8,1114.1 2074.2,1027.0 2074.6,1108.1 2074.9,1043.6 2075.3,1114.3 2075.6,1051.3 2076.0,1103.5 2076.4,1102.6 2076.7,1039.9 2077.1,1033.6 2077.4,1109.0 2077.8,1039.0 2078.1,1113.2 2078.5,1042.8 2078.8,1103.8 2079.2,1103.6 2079.5,1033.9 2079.9,1050.9 2080.3,1117.9 2080.6,1110.4 2081.0,1045.0 2081.3,1112.2 2081.7,1033.4 2082.1,1120.5 2082.4,1042.8 2082.8,1049.9 2083.1,1105.1 2083.5,1100.3 2083.8,1043.0 2084.2,1035.5 2084.5,1114.7 2084.9,1100.9 2085.2,1040.4 2085.6,1037.4 2086.0,1107.4 2086.3,1107.2 2086.7,1040.9 2087.0,1115.0 2087.4,1039.1 2087.8,1039.5 2088.1,1109.3 2088.5,1107.3 2088.8,1047.0 2089.2,1037.3 2089.5,1112.8 2089.9,1011.2 2090.2,1110.9 2090.6,1048.4 2090.9,1101.1 2091.3,1123.6 2091.6,1045.2 2092.0,1105.1 2092.4,1038.3 2092.7,1040.3 2093.1,1121.0 2093.4,1100.2 2093.8,1037.8 2094.1,1023.3 2094.5,1107.9 2094.9,1112.2 2095.2,1033.4 2095.6,1108.6 2095.9,1033.3 2096.3,1122.1 2096.6,1038.2 2097.0,1053.2 2097.3,1119.5 2097.7,1106.7 2098.0,1028.4 2098.4,1036.8 2098.8,1108.6 2099.1,1104.3 2099.5,1036.1 2099.8,1041.9 2100.2,1102.5 2100.5,1043.1 2100.9,1121.1 2101.3,1024.7 2101.6,1097.3 2102.0,1032.0 2102.3,1098.5 2102.7,1031.8 2103.0,1098.5 2103.4,1096.5 2103.7,1040.5 2104.1,1122.9 2104.5,1045.5 2104.8,1111.3 2105.2,1032.7 2105.5,1114.5 2105.9,1047.4 2106.2,1043.1 2106.6,1100.6 2106.9,1098.1 2107.3,1050.8 2107.7,1028.1 2108.0,1113.9 2108.4,1107.3 2108.7,1038.4 2109.1,1111.2 2109.4,1037.9 2109.8,1106.4 2110.1,1035.2 2110.5,1132.7 2110.9,1030.0 2111.2,1038.4 2111.6,1103.6 2111.9,1125.3 2112.3,1055.7 2112.6,1042.8 2113.0,1104.3 2113.3,1093.3 2113.7,1029.4 2114.0,1041.2 2114.4,1102.8 2114.8,1106.0 2115.1,1042.4 2115.5,1028.8 2115.8,1123.9 2116.2,1032.1 2116.5,1113.1 2116.9,1107.5 2117.2,1038.7 2117.6,1035.8 2118.0,1104.7 2118.3,1034.6 2118.7,1111.4 2119.0,1120.1 2119.4,1039.8 2119.7,1109.2 2120.1,1039.0 2120.4,1043.1 2120.8,1109.7 2121.2,1022.9 2121.5,1107.5 2121.9,1041.4 2122.2,1117.2 2122.6,1030.8 2122.9,1107.7 2123.3,1042.1 2123.6,1111.0 2124.0,1111.0 2124.3,1010.7 2124.7,1108.0 2125.0,1021.7 2125.4,1109.1 2125.8,1038.8 2126.1,1035.6 2126.5,1111.7 2126.8,1045.1 2127.2,1102.6 2127.5,1106.3 2127.9,1041.0 2128.2,1115.5 2128.6,1047.0 2128.9,1031.2 2129.3,1109.9 2129.6,1095.1 2130.0,1040.4 2130.4,1100.5 2130.7,1040.6 2131.1,1035.2 2131.4,1093.2 2131.8,1044.4 2132.1,1110.3 2132.5,1111.6 2132.8,1046.7 2133.2,1107.7 2133.5,1037.6 2133.9,1102.6 2134.2,1042.9 2134.6,1030.3 2134.9,1113.6 2135.3,1109.6 2135.7,1041.1 2136.0,1050.9 2136.4,1098.9 2136.7,1045.5 2137.1,1113.9 2137.4,1033.5 2137.8,1111.3 2138.1,1017.9 2138.5,1102.4 2138.9,1103.2 2139.2,1044.7 2139.6,1033.7 2139.9,1114.6 2140.3,1106.0 2140.6,1028.1 2141.0,1099.4 2141.3,1033.0 2141.7,1111.3 2142.1,1032.5 2142.4,1041.3 2142.8,1128.6 2143.1,1117.3 2143.5,1030.1 2143.8,1113.1 2144.2,1033.0 2144.5,1111.8 2144.9,1025.5 2145.2,1043.7 2145.6,1104.5 2145.9,1033.4 2146.3,1111.7 2146.7,1041.4 2147.0,1100.7 2147.4,1111.3 2147.7,1033.9 2148.1,1114.3 2148.4,1027.7 2148.8,1112.2 2149.1,1025.2 2149.5,1029.2 2149.8,1094.6 2150.2,1104.3 2150.6,1027.6 2150.9,1105.0 2151.3,1041.2 2151.6,1045.1 2152.0,1105.6 2152.3,1120.7 2152.7,1035.2 2153.0,1102.5 2153.4,1042.3 2153.7,1034.8 2154.1,1116.0 2154.5,1034.1 2154.8,1099.3 2155.2,1124.8 2155.5,1047.0 2155.9,1108.2 2156.2,1021.7 2156.6,1033.0 2156.9,1107.2 2157.3,1118.2 2157.6,1037.6 2158.0,1034.1 2158.3,1103.8 2158.7,1018.0 2159.0,1112.1 2159.4,1020.6 2159.8,1120.2 M1643.4,877.4 L1643.9,765.7 L1644.4,877.4 M1713.2,1010.2 L1713.7,733.0 L1714.2,1010.2 M1876.2,1075.7 L1876.7,981.5 L1877.2,1075.7 M2021.5,1078.5 L2022.0,993.8 L2022.5,1078.5"/>
<path stroke="#008000" d="M395.9,506.9 526.1,418.7 602.3,376.1 656.3,397.8 698.2,402.9 732.5,429.6 761.4,419.7 786.5,403.5 808.6,405.0 828.4,371.2 846.3,352.1 862.6,329.1 877.7,299.1 891.6,303.0 904.5,314.4 916.7,343.1 928.1,376.9 938.8,412.0 948.9,435.0 958.6,424.8 967.7,476.1 976.5,495.9 984.8,487.0 992.8,514.4 1000.5,542.4 1007.9,572.4 1014.9,575.0 1021.8,610.6 1028.4,617.0 1034.7,622.1 1040.9,624.6 1046.8,632.3 1052.6,661.6 1058.2,642.5 1063.7,638.0 1069.0,692.2 1074.1,685.9 1079.1,677.6 1084.0,680.1 1088.8,671.2 1093.4,692.2 1097.9,707.6 1102.3,720.3 1106.7,724.1 1110.9,706.3 1115.0,683.3 1119.0,685.9 1123.0,728.0 1126.9,728.6 1130.7,711.4 1134.4,715.2 1138.0,719.0 1141.6,702.4 1145.1,690.3 1148.6,720.3 1152.0,727.3 1155.3,728.6 1158.5,735.6 1161.8,738.2 1164.9,744.5 1168.0,727.1 1171.1,710.8 1174.1,730.4 1177.0,746.4 1179.9,761.0 1182.8,756.8 1185.6,754.3 1188.4,763.1 1191.2,762.4 1193.9,743.2 1196.5,712.1 1199.2,705.9 1201.7,711.6 1204.3,732.4 1206.8,727.2 1209.3,714.4 1211.8,710.4 1214.2,724.8 1216.6,759.5 1218.9,759.6 1221.3,764.7 1223.6,770.4 1225.9,773.8 1228.1,770.6 1230.3,778.9 1232.5,774.1 1234.7,779.2 1236.8,772.5 1239.0,770.0 1241.1,765.0 1243.1,768.4 1245.2,778.9 1247.2,769.4 1249.2,779.1 1251.2,779.9 1253.2,768.7 1255.1,769.4 1257.1,768.3 1259.0,770.1 1260.8,777.4 1262.7,792.4 1264.6,796.3 1266.4,811.1 1268.2,805.4 1270.0,799.7 1271.8,807.5 1273.6,803.3 1275.3,814.4 1277.0,815.2 1278.7,810.1 1280.4,799.0 1282.1,800.3 1283.8,784.5 1285.5,787.0 1287.1,769.4 1288.7,769.1 1290.3,762.9 1291.9,755.4 1293.5,784.5 1295.1,787.9 1296.6,785.0 1298.2,807.8 1299.7,804.1 1301.2,806.1 1302.8,777.1 1304.3,756.2 1305.7,760.5 1307.2,769.1 1308.7,775.1 1310.1,773.5 1311.6,762.9 1313.0,758.6 1314.4,748.9 1315.8,749.6 1317.2,729.1 1318.6,711.9 1320.0,686.2 1321.3,710.9 1322.7,725.3 1324.0,723.3 1325.4,719.6 1326.7,711.2 1328.0,693.7 1329.3,706.2 1330.6,698.3 1331.9,678.5 1333.2,680.5 1334.5,659.5 1335.7,649.0 1337.0,651.8 1338.2,661.0 1339.5,640.2 1340.7,630.1 1341.9,629.5 1343.2,620.1 1344.4,611.8 1345.6,607.4 1346.8,598.8 1347.9,601.0 1349.1,622.6 1350.3,682.3 1351.5,703.4 1352.6,684.4 1353.8,671.4 1354.9,672.0 1356.0,685.5 1357.2,674.7 1358.3,692.2 1359.4,718.6 1360.5,706.2 1361.6,700.1 1362.7,703.2 1363.8,697.8 1364.9,700.4 1366.0,699.5 1367.0,693.4 1368.1,699.2 1369.1,706.8 1370.2,705.8 1371.2,722.7 1372.3,722.4 1373.3,752.4 1374.3,764.3 1375.4,749.1 1376.4,774.7 1377.4,776.6 1378.4,768.7 1379.4,755.0 1380.4,750.0 1381.4,747.8 1382.4,716.8 1383.4,730.6 1384.3,736.2 1385.3,770.8 1386.3,774.8 1387.2,775.1 1388.2,761.3 1389.1,758.7 1390.1,749.8 1391.0,747.5 1392.0,762.7 1392.9,742.8 1393.8,762.1 1394.7,754.0 1395.7,741.1 1396.6,734.9 1397.5,734.6 1398.4,749.2 1399.3,761.1 1400.2,762.1 1401.1,737.3 1402.0,729.1 1402.9,747.9 1403.7,731.6 1404.6,727.3 1405.5,727.1 1406.4,713.1 1407.2,736.1 1408.1,715.8 1408.9,709.8 1409.8,696.4 1410.6,712.3 1411.5,706.4 1412.3,710.1 1413.2,701.8 1414.0,682.4 1414.8,676.0 1415.6,701.8 1416.5,678.8 1417.3,683.1 1418.1,681.0 1418.9,686.3 1419.7,685.2 1420.5,666.9 1421.3,672.6 1422.1,667.3 1422.9,697.7 1423.7,696.3 1424.5,686.3 1425.3,721.2 1426.1,716.4 1426.8,711.7 1427.6,724.0 1428.4,728.2 1429.1,741.6 1429.9,737.0 1430.7,712.5 1431.4,707.1 1432.2,658.9 1432.9,666.9 1433.7,661.6 1434.4,674.6 1435.2,685.6 1435.9,678.5 1436.7,684.1 1437.4,710.2 1438.1,748.0 1438.9,736.0 1439.6,734.8 1440.3,734.2 1441.0,771.8 1441.7,760.4 1442.5,778.3 1443.2,772.4 1443.9,724.3 1444.6,766.2 1445.3,783.3 1446.0,757.1 1446.7,745.7 1447.4,746.3 1448.1,743.1 1448.8,808.9 1449.5,794.1 1450.2,756.2 1450.8,793.1 1451.5,747.6 1452.2,757.2 1452.9,753.3 1453.6,763.6 1454.2,779.2 1454.9,804.5 1455.6,779.9 1456.2,763.6 1456.9,767.9 1457.5,760.1 1458.2,770.5 1458.9,747.0 1459.5,766.9 1460.2,770.0 1460.8,778.3 1461.5,745.2 1462.1,768.3 1462.7,770.6 1463.4,755.5 1464.0,739.1 1464.7,769.9 1465.3,800.7 1465.9,784.5 1466.6,835.7 1467.2,807.7 1467.8,783.8 1468.4,794.5 1469.1,804.0 1469.7,803.7 1470.3,790.1 1470.9,802.0 1471.5,837.1 1472.1,809.0 1472.7,794.9 1473.3,782.9 1473.9,758.8 1474.5,793.3 1475.1,782.7 1475.7,790.4 1476.3,782.7 1476.9,807.6 1477.5,814.3 1478.1,783.9 1478.7,773.2 1479.3,804.5 1479.9,824.7 1480.5,808.7 1481.1,811.2 1481.6,779.1 1482.2,795.7 1482.8,818.0 1483.4,816.5 1483.9,812.0 1484.5,824.5 1485.1,831.7 1485.7,820.4 1486.2,808.6 1486.8,798.5 1487.3,829.1 1487.9,824.6 1488.5,826.7 1489.0,851.4 1489.6,822.7 1490.1,831.6 1490.7,849.9 1491.2,825.2 1491.8,805.3 1492.3,834.3 1492.9,858.5 1493.4,834.4 1494.0,841.1 1494.5,813.7 1495.1,867.0 1495.6,816.6 1496.1,835.8 1496.7,844.7 1497.2,881.9 1497.7,850.7 1498.3,836.8 1498.8,824.0 1499.3,844.9 1499.9,829.5 1500.4,840.5 1500.9,852.4 1501.4,873.0 1501.9,833.6 1502.5,876.4 1503.0,820.2 1503.5,889.4 1504.0,847.8 1504.5,855.3 1505.0,856.3 1505.6,871.1 1506.1,868.9 1506.6,866.9 1507.1,863.4 1507.6,868.6 1508.1,881.6 1508.6,874.2 1509.1,874.1 1509.6,863.0 1510.1,889.6 1510.6,899.1 1511.1,875.2 1511.6,911.1 1512.1,895.2 1512.6,899.3 1513.1,870.5 1513.5,911.3 1514.0,923.7 1514.5,936.7 1515.0,895.5 1515.5,906.5 1516.0,917.3 1516.5,911.1 1516.9,888.9 1517.4,898.0 1517.9,910.7 1518.4,901.0 1518.8,888.1 1519.3,903.9 1519.8,859.1 1520.3,888.5 1520.7,867.7 1521.2,870.0 1521.7,888.0 1522.1,903.5 1522.6,882.2 1523.1,876.9 1523.5,902.1 1524.0,887.4 1524.5,838.5 1524.9,865.1 1525.4,864.2 1525.8,864.1 1526.3,850.7 1526.8,886.0 1527.2,878.3 1527.7,904.2 1528.1,871.8 1528.6,881.3 1529.0,870.0 1529.5,901.9 1529.9,908.8 1530.4,918.4 1530.8,910.5 1531.3,887.2 1531.7,919.3 1532.2,887.6 1532.6,895.2 1533.0,904.5 1533.5,941.6 1533.9,889.3 1534.4,880.3 1534.8,902.3 1535.2,920.8 1535.7,905.2 1536.1,903.0 1536.5,866.1 1537.0,874.5 1537.4,917.1 1537.8,882.7 1538.3,858.2 1538.7,864.1 1539.1,914.6 1539.5,925.8 1540.0,881.1 1540.4,839.4 1540.8,924.3 1541.2,845.2 1541.7,871.0 1542.1,882.2 1542.5,867.3 1542.9,861.4 1543.3,925.0 1543.8,879.2 1544.2,816.5 1544.6,846.7 1545.0,915.8 1545.4,860.5 1545.8,829.2 1546.2,896.1 1546.6,879.5 1547.1,863.1 1547.5,879.4 1547.9,846.6 1548.3,863.6 1548.7,875.2 1549.1,837.5 1549.5,893.0 1549.9,820.3 1550.3,914.5 1550.7,852.7 1551.1,860.4 1551.5,813.5 1551.9,869.4 1552.3,823.6 1552.7,860.6 1553.1,847.1 1553.5,824.1 1553.9,895.4 1554.3,850.9 1554.7,832.0 1555.1,836.1 1555.5,854.7 1555.8,847.2 1556.2,868.8 1556.6,830.2 1557.0,851.3 1557.4,832.2 1557.8,826.3 1558.2,866.8 1558.6,823.2 1558.9,801.5 1559.3,862.1 1559.7,831.0 1560.1,859.3 1560.5,858.1 1560.9,857.5 1561.2,846.1 1561.6,884.5 1562.0,816.6 1562.4,874.0 1562.7,839.9 1563.1,851.1 1563.5,832.5 1563.9,865.4 1564.2,855.5 1564.6,831.7 1565.0,844.3 1565.4,855.1 1565.7,839.2 1566.1,904.9 1566.5,856.8 1566.8,832.6 1567.2,867.7 1567.6,848.9 1567.9,829.3 1568.3,833.5 1568.7,802.5 1569.0,860.4 1569.4,878.8 1569.8,839.5 1570.1,821.9 1570.5,799.4 1570.8,811.6 1571.2,841.0 1571.6,825.5 1571.9,837.0 1572.3,820.5 1572.6,836.7 1573.0,835.0 1573.4,844.6 1573.7,842.3 1574.1,844.6 1574.4,820.8 1574.8,833.1 1575.1,812.4 1575.5,832.5 1575.8,846.7 1576.2,860.7 1576.5,823.6 1577.2,837.1 1577.6,860.9 1578.3,858.2 1578.6,911.9 1579.3,888.7 1579.7,849.4 1580.3,904.3 1580.7,891.0 1581.4,841.7 1581.7,885.5 1582.4,895.2 1582.7,875.6 1583.4,876.9 1583.7,912.6 1584.4,850.8 1584.8,899.8 1585.4,877.9 1585.8,893.2 1586.4,920.8 1586.8,882.8 1587.4,900.3 1587.8,921.8 1588.4,855.2 1588.7,903.2 1589.4,887.3 1589.7,825.0 1590.3,888.5 1590.7,869.8 1591.3,888.8 1591.7,857.6 1592.3,912.5 1592.6,859.4 1593.2,886.6 1593.6,870.3 1594.2,904.2 1594.6,853.1 1595.2,919.8 1595.5,854.4 1596.1,876.0 1596.5,825.4 1597.1,861.9 1597.4,869.0 1598.0,898.3 1598.3,864.9 1598.9,865.8 1599.3,916.4 1599.9,866.9 1600.2,876.5 1600.8,915.5 1601.1,885.3 1601.7,851.6 1602.0,886.0 1602.6,891.3 1603.0,878.5 1603.5,945.8 1603.9,904.4 1604.4,948.4 1604.8,954.3 1605.3,972.0 1605.7,956.6 1606.2,979.6 1606.6,965.2 1607.1,911.9 1607.5,971.3 1608.0,1000.0 1608.4,977.3 1608.9,977.6 1609.2,926.1 1609.8,1012.9 1610.1,941.7 1610.7,1022.2 1611.0,925.4 1611.5,1012.4 1611.9,966.6 1612.4,996.4 1612.7,935.5 1613.3,1000.1 1613.6,967.2 1614.1,984.5 1614.5,931.1 1615.0,950.0 1615.3,973.4 1615.8,991.4 1616.2,955.3 1616.7,985.2 1617.0,960.4 1617.5,1002.9 1617.9,946.8 1618.4,1000.0 1618.7,953.9 1619.2,986.7 1619.6,931.7 1620.0,967.5 1620.4,936.0 1620.9,974.8 1621.2,944.6 1621.7,975.1 1622.0,930.4 1622.5,968.3 1622.9,990.8 1623.3,943.5 1623.7,967.3 1624.2,983.7 1624.5,966.1 1625.0,947.3 1625.3,1003.0 1625.8,956.4 1626.1,938.0 1626.6,917.5 1626.9,948.9 1627.4,978.9 1627.7,934.2 1628.2,935.9 1628.5,973.1 1629.0,966.2 1629.3,922.7 1629.8,935.2 1630.1,912.1 1630.6,973.2 1630.9,930.2 1631.3,961.9 1631.7,905.3 1632.1,909.7 1632.5,874.0 1632.9,935.8 1633.3,908.4 1633.7,922.0 1634.0,907.6 1634.5,876.7 1634.8,918.8 1635.2,905.8 1635.6,879.8 1636.0,853.7 1636.3,894.9 1636.8,917.9 1637.1,869.6 1637.5,908.4 1637.9,842.2 1638.3,879.2 1638.6,892.9 1639.0,867.6 1639.4,908.2 1639.8,867.8 1640.1,893.0 1640.5,871.3 1640.9,896.7 1641.3,880.5 1641.6,923.4 1642.0,914.5 1642.4,829.3 1642.7,932.3 1643.1,855.8 1643.5,916.9 1643.8,847.1 1644.2,896.7 1644.6,835.4 1644.9,870.0 1645.3,926.0 1645.7,865.9 1646.0,925.0 1646.4,892.3 1646.7,864.4 1647.1,915.9 1647.5,859.9 1647.8,907.5 1648.2,901.6 1648.6,858.7 1648.9,896.0 1649.3,916.8 1649.6,842.7 1650.0,900.6 1650.3,879.7 1650.7,852.0 1651.0,916.4 1651.4,875.0 1651.7,867.8 1652.1,849.6 1652.4,964.4 1652.8,920.4 1653.1,879.5 1653.7,906.4 1654.1,935.9 1654.7,877.0 1655.0,929.8 1655.6,878.1 1655.9,921.3 1656.5,880.7 1656.8,911.2 1657.4,904.2 1657.8,884.3 1658.3,916.9 1658.7,866.3 1659.2,907.7 1659.6,861.1 1660.1,898.4 1660.5,927.9 1661.0,896.4 1661.4,926.1 1661.9,924.1 1662.2,866.8 1662.8,940.6 1663.1,887.0 1663.7,860.7 1664.0,924.5 1664.5,876.1 1664.9,930.8 1665.4,900.0 1665.8,931.8 1666.3,931.6 1666.6,890.1 1667.1,940.0 1667.5,870.0 1668.0,921.3 1668.4,883.9 1668.9,902.5 1669.2,923.1 1669.7,930.0 1670.1,881.1 1670.6,953.8 1670.9,895.7 1671.4,858.3 1671.8,910.6 1672.3,883.5 1672.6,933.9 1673.1,921.6 1673.4,906.0 1673.9,894.3 1674.3,921.3 1674.8,906.2 1675.1,915.9 1675.6,874.1 1675.9,918.9 1676.4,886.2 1676.8,924.0 1677.2,875.1 1677.6,935.1 1678.1,893.8 1678.4,928.4 1678.9,866.3 1679.2,934.5 1679.7,922.8 1680.0,894.2 1680.5,900.5 1680.8,888.2 1681.3,883.8 1681.6,926.3 1682.1,924.9 1682.4,898.9 1682.9,886.9 1683.2,934.6 1683.7,935.0 1684.0,895.1 1684.5,903.4 1684.8,931.1 1685.2,955.3 1685.6,919.0 1686.0,934.1 1686.4,921.2 1686.8,964.7 1687.2,878.7 1687.6,911.7 1687.9,974.9 1688.4,934.9 1688.7,957.5 1689.1,922.5 1689.5,943.3 1689.9,922.6 1690.2,957.4 1690.7,959.1 1691.0,930.5 1691.4,969.2 1691.8,950.3 1692.2,913.7 1692.5,1000.8 1692.9,979.1 1693.3,922.1 1693.7,934.6 1694.0,977.7 1694.4,926.1 1694.8,1008.3 1695.2,939.3 1695.5,1002.0 1695.9,965.6 1696.3,1008.3 1696.7,947.4 1697.0,1008.3 1697.4,994.8 1697.7,959.5 1698.1,945.6 1698.5,983.0 1698.9,934.0 1699.2,1025.3 1699.6,1016.1 1699.9,960.3 1700.3,942.8 1700.7,996.1 1701.0,968.0 1701.4,994.4 1701.7,985.0 1702.1,936.5 1702.5,979.6 1702.8,942.6 1703.2,949.6 1703.5,1025.2 1703.9,1025.1 1704.2,946.2 1704.6,1012.3 1705.0,1034.2 1705.3,961.2 1705.7,1012.4 1706.0,1024.1 1706.4,981.3 1706.7,958.0 1707.1,1007.2 1707.6,968.3 1707.9,1024.7 1708.5,987.4 1708.8,1018.9 1709.3,1034.4 1709.7,960.6 1710.2,977.6 1710.5,1076.8 1711.0,1005.2 1711.4,1034.2 1711.9,1034.7 1712.2,963.1 1712.7,996.2 1713.1,1034.3 1713.6,974.8 1713.9,1060.7 1714.4,991.0 1714.8,1050.0 1715.3,1004.9 1715.6,1047.4 1716.1,1005.9 1716.4,1099.2 1716.9,986.1 1717.3,1041.9 1717.7,1006.2 1718.1,1039.0 1718.6,1035.2 1718.9,1043.6 1719.4,1072.1 1719.7,1007.2 1720.2,1058.5 1720.6,1003.3 1721.0,1068.1 1721.4,1006.6 1721.8,1015.2 1722.2,1082.5 1722.6,1066.2 1723.0,1016.3 1723.4,1064.3 1723.8,1023.9 1724.2,1069.7 1724.6,1033.3 1725.0,1052.2 1725.4,1031.0 1725.8,1028.1 1726.2,1070.4 1726.6,1074.4 1727.0,1016.6 1727.4,1082.8 1727.7,1022.5 1728.2,1036.6 1728.5,1061.4 1728.9,1034.3 1729.3,1072.2 1729.7,1062.6 1730.1,1034.7 1730.5,1027.1 1730.8,1073.2 1731.3,1048.2 1731.6,1084.4 1732.0,1080.5 1732.4,1051.2 1732.8,1037.6 1733.1,1084.7 1733.6,1080.1 1733.9,1026.6 1734.3,1031.3 1734.7,1088.5 1735.1,1060.1 1735.4,1066.1 1735.8,1046.6 1736.2,1087.8 1736.6,1057.1 1736.9,1090.8 1737.3,1034.0 1737.7,1079.6 1738.0,1036.6 1738.4,1082.1 1738.8,1074.7 1739.1,1026.0 1739.5,1082.1 1739.9,1047.6 1740.3,1070.7 1740.6,1046.9 1741.0,1042.1 1741.3,1089.4 1741.7,1032.7 1742.1,1079.7 1742.4,1058.0 1742.8,1091.2 1743.2,1053.9 1743.5,1075.0 1743.9,1086.0 1744.2,1054.5 1744.6,1081.4 1744.9,1043.5 1745.3,1035.3 1745.7,1086.4 1746.0,1019.7 1746.4,1085.4 1746.7,1089.9 1747.1,1062.7 1747.4,1078.8 1747.8,1045.7 1748.1,1062.6 1748.5,1086.4 1748.8,1049.4 1749.2,1084.7 1749.7,1045.7 1750.0,1073.4 1750.5,1084.1 1750.8,1050.8 1751.3,1085.5 1751.7,1060.6 1752.2,1031.4 1752.5,1055.6 1753.0,1086.0 1753.3,1060.8 1753.8,1044.7 1754.1,1086.0 1754.6,1053.6 1755.0,1036.3 1755.4,1097.2 1755.8,1067.2 1756.2,1052.7 1756.6,1084.0 1757.0,1064.7 1757.4,1088.7 1757.8,1058.4 1758.2,1087.4 1758.6,1031.7 1759.0,1074.3 1759.4,1072.9 1759.8,1058.5 1760.2,1062.8 1760.6,1048.8 1761.0,1047.7 1761.4,1098.6 1761.8,1082.4 1762.1,1039.2 1762.6,1048.9 1762.9,1080.1 1763.3,1041.1 1763.7,1095.5 1764.1,1059.3 1764.5,1088.1 1764.9,1047.1 1765.2,1091.8 1765.7,1105.3 1766.0,1054.2 1766.4,1073.4 1766.8,1048.4 1767.2,1069.0 1767.5,1053.4 1767.9,1056.8 1768.3,1082.4 1768.7,1047.7 1769.1,1100.4 1769.5,1100.7 1769.8,1033.3 1770.2,1034.7 1770.6,1091.8 1771.0,1026.5 1771.3,1087.6 1771.7,1088.7 1772.0,1048.5 1772.4,1067.7 1772.8,1089.8 1773.2,1037.9 1773.5,1087.1 1773.9,1093.6 1774.3,1049.9 1774.6,1076.6 1775.0,1027.1 1775.4,1073.2 1775.7,1046.6 1776.1,1084.2 1776.4,1043.6 1776.8,1040.4 1777.2,1094.2 1777.5,1090.4 1777.9,1028.8 1778.3,1057.2 1778.6,1101.7 1779.0,1038.6 1779.3,1085.4 1779.7,1085.9 1780.0,1064.6 1780.4,1054.0 1780.7,1091.6 1781.1,1052.2 1781.5,1099.5 1781.8,1047.6 1782.2,1074.4 1782.5,1112.1 1782.9,1036.9 1783.3,1091.1 1783.7,1053.8 1784.1,1094.2 1784.5,1046.4 1784.9,1099.4 1785.3,1034.4 1785.8,1102.5 1786.1,1065.8 1786.6,1058.0 1786.9,1093.0 1787.4,1085.6 1787.7,1045.9 1788.2,1095.2 1788.5,1046.4 1788.9,1118.2 1789.3,1047.0 1789.7,1037.5 1790.1,1089.2 1790.5,1042.6 1790.9,1084.4 1791.3,1097.3 1791.6,1045.9 1792.1,1111.2 1792.4,1060.3 1792.9,1040.2 1793.2,1103.4 1793.6,1061.7 1794.0,1094.7 1794.4,1105.4 1794.7,1039.8 1795.2,1095.9 1795.5,1044.9 1795.9,1038.5 1796.3,1088.7 1796.7,1045.7 1797.0,1088.1 1797.4,1033.4 1797.8,1087.1 1798.2,1087.3 1798.5,1059.8 1798.9,1107.6 1799.3,1062.9 1799.7,1106.1 1800.0,1040.4 1800.4,1112.4 1800.8,1048.3 1801.2,1097.1 1801.5,1041.8 1801.9,1101.7 1802.3,1057.0 1802.7,1049.6 1803.0,1081.5 1803.4,1047.5 1803.7,1111.0 1804.1,1052.6 1804.5,1081.9 1804.8,1066.3 1805.2,1100.8 1805.6,1094.0 1805.9,1028.8 1806.3,1049.7 1806.6,1095.6 1807.0,1100.8 1807.4,1038.8 1807.7,1064.9 1808.1,1083.8 1808.4,1046.7 1808.8,1093.3 1809.1,1061.2 1809.5,1105.3 1809.9,1026.1 1810.2,1102.6 1810.6,1047.4 1810.9,1087.2 1811.3,1044.2 1811.6,1089.4 1812.0,1038.7 1812.3,1096.3 1812.8,1091.0 1813.1,1046.0 1813.6,1054.8 1813.9,1107.8 1814.3,1044.8 1814.7,1090.2 1815.1,1048.4 1815.5,1109.9 1815.9,1100.2 1816.3,1057.5 1816.7,1040.3 1817.0,1093.7 1817.5,1092.6 1817.8,1047.5 1818.2,1086.7 1818.6,1051.8 1819.0,1043.6 1819.4,1088.8 1819.8,1052.9 1820.1,1100.1 1820.6,1055.5 1820.9,1093.5 1821.3,1111.8 1821.7,1042.7 1822.1,1050.1 1822.4,1080.9 1822.8,1079.1 1823.2,1033.8 1823.6,1083.5 1823.9,1040.7 1824.3,1043.9 1824.7,1103.5 1825.1,1104.8 1825.4,1018.7 1825.8,1093.5 1826.2,1056.4 1826.6,1036.6 1826.9,1092.0 1827.3,1086.5 1827.6,1051.4 1828.0,1087.8 1828.4,1051.4 1828.8,1098.1 1829.1,1049.3 1829.5,1046.4 1829.8,1091.6 1830.2,1026.9 1830.6,1105.5 1830.9,1055.4 1831.3,1115.3 1831.7,1102.2 1832.0,1046.7 1832.4,1048.3 1832.7,1083.4 1833.1,1042.7 1833.4,1077.2 1833.8,1055.0 1834.2,1085.8 1834.5,1096.0 1834.9,1042.3 1835.2,1045.5 1835.6,1098.0 1835.9,1086.2 1836.3,1049.7 1836.6,1115.0 1837.0,1041.6 1837.4,1043.9 1837.8,1111.9 1838.2,1097.3 1838.5,1053.6 1839.0,1049.7 1839.3,1114.4 1839.8,1054.2 1840.1,1083.3 1840.5,1046.6 1840.9,1082.6 1841.3,1104.3 1841.7,1052.8 1842.1,1078.8 1842.4,1023.7 1842.8,1105.6 1843.2,1062.5 1843.6,1088.3 1843.9,1037.8 1844.3,1034.5 1844.7,1081.0 1845.1,1086.7 1845.5,1053.9 1845.9,1028.0 1846.2,1093.7 1846.6,1117.6 1847.0,1037.2 1847.4,1048.9 1847.7,1106.2 1848.1,1038.6 1848.4,1106.7 1848.8,1048.7 1849.2,1085.9 1849.6,1040.6 1849.9,1089.2 1850.3,1086.5 1850.7,1054.7 1851.0,1082.1 1851.4,1037.9 1851.8,1090.5 1852.1,1050.6 1852.5,1097.2 1852.8,1060.5 1853.2,1058.0 1853.6,1092.8 1853.9,1043.4 1854.3,1088.4 1854.7,1047.8 1855.0,1093.0 1855.4,1114.8 1855.7,1058.5 1856.1,1043.1 1856.4,1101.1 1856.8,1046.9 1857.1,1105.5 1857.5,1102.9 1857.8,1041.8 1858.2,1089.2 1858.5,1052.3 1858.9,1052.8 1859.2,1104.3 1859.7,1049.9 1860.0,1115.7 1860.4,1039.2 1860.8,1111.8 1861.2,1053.1 1861.6,1088.5 1862.0,1039.2 1862.3,1089.3 1862.7,1032.7 1863.1,1093.1 1863.5,1051.0 1863.9,1105.7 1864.3,1066.5 1864.6,1101.5 1865.0,1028.8 1865.4,1105.4 1865.8,1095.4 1866.1,1041.1 1866.5,1115.2 1866.9,1046.1 1867.3,1055.0 1867.6,1102.8 1868.0,1032.5 1868.4,1112.2 1868.7,1097.3 1869.1,1040.6 1869.5,1033.5 1869.8,1082.7 1870.2,1055.2 1870.6,1091.5 1870.9,1081.7 1871.3,1059.7 1871.7,1093.9 1872.0,1049.6 1872.4,1054.9 1872.7,1095.6 1873.1,1088.1 1873.5,1056.4 1873.8,1048.9 1874.2,1105.6 1874.6,1081.3 1874.9,1053.6 1875.3,1102.3 1875.6,1026.7 1876.0,1042.6 1876.3,1101.5 1876.7,1050.8 1877.0,1111.5 1877.4,1038.0 1877.7,1104.1 1878.1,1035.0 1878.5,1081.3 1878.8,1089.8 1879.2,1039.9 1879.6,1092.2 1879.9,1050.9 1880.3,1121.9 1880.7,1065.7 1881.1,1036.1 1881.4,1105.4 1881.9,1026.4 1882.2,1098.2 1882.6,1054.2 1883.0,1109.0 1883.4,1048.4 1883.7,1102.5 1884.1,1088.8 1884.5,1040.2 1884.9,1058.7 1885.2,1083.2 1885.6,1107.1 1886.0,1037.9 1886.3,1030.7 1886.7,1107.5 1887.1,1087.1 1887.4,1038.0 1887.8,1097.3 1888.2,1056.6 1888.5,1055.2 1888.9,1106.2 1889.3,1092.3 1889.6,1052.8 1890.0,1064.0 1890.4,1092.1 1890.7,1062.6 1891.1,1111.7 1891.4,1099.7 1891.8,1042.4 1892.2,1050.7 1892.5,1109.6 1892.9,1030.7 1893.2,1095.5 1893.6,1054.9 1893.9,1088.7 1894.3,1096.0 1894.7,1047.6 1895.0,1102.2 1895.4,1037.0 1895.7,1056.2 1896.1,1125.1 1896.4,1044.7 1896.8,1094.1 1897.2,1092.4 1897.5,1053.1 1897.9,1062.1 1898.3,1090.1 1898.7,1034.7 1899.0,1090.1 1899.4,1100.5 1899.8,1041.4 1900.2,1085.3 1900.5,1047.9 1900.9,1079.9 1901.3,1043.2 1901.7,1051.2 1902.0,1107.5 1902.4,1089.2 1902.8,1045.2 1903.2,1038.1 1903.5,1106.6 1903.9,1050.6 1904.3,1100.7 1904.6,1046.4 1905.0,1090.6 1905.4,1105.5 1905.7,1060.0 1906.1,1036.1 1906.4,1108.6 1906.8,1044.2 1907.2,1104.9 1907.5,1036.1 1907.9,1093.7 1908.3,1025.0 1908.6,1111.7 1909.0,1041.7 1909.3,1098.2 1909.7,1110.3 1910.0,1046.1 1910.4,1092.1 1910.8,1045.1 1911.1,1107.3 1911.5,1045.7 1911.8,1037.1 1912.2,1098.6 1912.5,1116.1 1912.9,1048.0 1913.2,1088.4 1913.6,1039.9 1914.0,1099.9 1914.3,1053.0 1914.7,1095.2 1915.1,1069.8 1915.5,1051.5 1915.8,1084.7 1916.2,1038.1 1916.6,1101.9 1917.0,1051.7 1917.3,1096.0 1917.7,1040.0 1918.1,1095.2 1918.4,1041.5 1918.8,1098.1 1919.2,1040.6 1919.5,1102.4 1919.9,1049.8 1920.3,1096.4 1920.6,1049.6 1921.0,1098.8 1921.4,1108.9 1921.7,1059.9 1922.1,1099.1 1922.4,1057.0 1922.8,1088.8 1923.2,1039.3 1923.5,1052.5 1923.9,1109.5 1924.2,1036.2 1924.6,1093.0 1925.0,1050.2 1925.3,1104.0 1925.7,1043.3 1926.0,1090.4 1926.4,1045.5 1926.7,1097.2 1927.1,1109.1 1927.4,1043.4 1927.8,1096.6 1928.1,1050.6 1928.5,1097.2 1928.9,1047.9 1929.3,1021.4 1929.6,1080.8 1930.0,1055.6 1930.4,1104.9 1930.8,1102.5 1931.1,1045.2 1931.5,1090.0 1931.9,1049.2 1932.3,1056.8 1932.6,1098.9 1933.0,1043.7 1933.3,1080.8 1933.7,1060.2 1934.1,1094.7 1934.5,1087.8 1934.8,1044.0 1935.2,1106.5 1935.5,1055.8 1935.9,1047.8 1936.3,1103.1 1936.6,1097.8 1937.0,1036.5 1937.3,1099.6 1937.7,1050.0 1938.1,1049.1 1938.4,1085.8 1938.8,1039.3 1939.1,1086.8 1939.5,1085.3 1939.8,1034.6 1940.2,1049.1 1940.5,1102.7 1940.9,1051.1 1941.2,1113.0 1941.6,1104.2 1941.9,1061.8 1942.3,1096.7 1942.7,1047.3 1943.1,1099.0 1943.4,1048.5 1943.8,1034.0 1944.2,1092.0 1944.6,1046.5 1944.9,1115.7 1945.3,1045.2 1945.7,1111.4 1946.0,1044.6 1946.4,1092.5 1946.8,1102.7 1947.1,1063.6 1947.5,1099.9 1947.9,1046.8 1948.2,1122.1 1948.6,1048.3 1949.0,1120.0 1949.3,1053.4 1949.7,1059.6 1950.0,1095.0 1950.4,1098.7 1950.7,1053.9 1951.1,1110.5 1951.5,1052.3 1951.8,1048.3 1952.2,1091.0 1952.5,1108.4 1952.9,1068.2 1953.2,1103.0 1953.6,1059.2 1953.9,1106.4 1954.3,1048.2 1954.7,1049.7 1955.0,1109.1 1955.4,1038.5 1955.7,1092.8 1956.1,1047.4 1956.5,1099.1 1956.9,1034.7 1957.2,1078.3 1957.6,1126.3 1958.0,1038.2 1958.4,1108.4 1958.7,1046.8 1959.1,1103.2 1959.4,1034.9 1959.8,1109.0 1960.2,1042.0 1960.5,1037.0 1960.9,1111.4 1961.3,1062.3 1961.6,1103.1 1962.0,1040.6 1962.3,1097.0 1962.7,1099.0 1963.0,1047.9 1963.4,1027.9 1963.8,1098.1 1964.1,1044.9 1964.5,1095.3 1964.8,1042.4 1965.2,1098.2 1965.5,1053.3 1965.9,1093.2 1966.2,1100.2 1966.6,1039.0 1966.9,1047.5 1967.3,1090.8 1967.7,1037.6 1968.0,1103.8 1968.4,1110.2 1968.8,1029.1 1969.2,1045.4 1969.5,1109.4 1969.9,1118.1 1970.2,1049.4 1970.6,1056.6 1971.0,1107.5 1971.4,1044.9 1971.7,1104.1 1972.1,1051.6 1972.4,1095.1 1972.8,1047.7 1973.2,1105.9 1973.5,1123.9 1973.9,1050.6 1974.2,1094.9 1974.6,1054.7 1975.0,1040.5 1975.3,1093.4 1975.7,1097.6 1976.0,1053.8 1976.4,1108.6 1976.7,1054.4 1977.1,1107.2 1977.4,1054.5 1977.8,1048.0 1978.1,1118.7 1978.5,1045.4 1978.8,1101.2 1979.2,1096.7 1979.6,1048.9 1980.0,1047.6 1980.3,1103.8 1980.7,1051.7 1981.0,1095.3 1981.4,1112.7 1981.8,1054.2 1982.1,1100.2 1982.5,1040.8 1982.9,1049.3 1983.2,1105.1 1983.6,1101.5 1983.9,1037.0 1984.3,1103.3 1984.7,1043.1 1985.0,1099.1 1985.4,1046.6 1985.7,1055.4 1986.1,1098.8 1986.5,1107.7 1986.8,1046.5 1987.2,1040.6 1987.5,1107.8 1987.9,1052.1 1988.2,1099.1 1988.6,1053.6 1988.9,1108.0 1989.3,1052.7 1989.6,1098.8 1990.0,1045.8 1990.4,1089.4 1990.7,1030.9 1991.1,1105.5 1991.5,1114.1 1991.8,1044.4 1992.2,1031.2 1992.6,1105.4 1992.9,1116.5 1993.3,1055.0 1993.7,1046.1 1994.0,1104.2 1994.4,1107.8 1994.7,1040.7 1995.1,1117.0 1995.4,1041.6 1995.8,1025.3 1996.2,1127.0 1996.5,1042.9 1996.9,1095.9 1997.2,1045.5 1997.6,1099.9 1997.9,1091.6 1998.3,1044.5 1998.6,1098.1 1999.0,1049.7 1999.3,1106.4 1999.7,1044.0 2000.1,1025.6 2000.4,1099.2 2000.8,1055.0 2001.1,1108.3 2001.5,1103.8 2001.9,1043.2 2002.3,1117.7 2002.6,1044.5 2003.0,1049.3 2003.3,1102.5 2003.7,1098.9 2004.0,1042.0 2004.4,1112.2 2004.8,1053.7 2005.1,1023.5 2005.5,1106.1 2005.8,1057.3 2006.2,1112.6 2006.6,1042.1 2006.9,1094.3 2007.3,1092.4 2007.6,1036.2 2008.0,1092.1 2008.3,1052.6 2008.7,1093.3 2009.0,1049.7 2009.4,1121.6 2009.8,1043.8 2010.1,1109.7 2010.5,1054.8 2010.9,1039.0 2011.2,1097.4 2011.6,1107.3 2011.9,1043.8 2012.3,1023.0 2012.7,1109.0 2013.0,1098.0 2013.4,1042.2 2013.7,1097.2 2014.1,1048.6 2014.5,1098.1 2014.8,1034.5 2015.2,1046.4 2015.5,1106.2 2015.9,1044.7 2016.2,1118.0 2016.6,1045.2 2016.9,1100.3 2017.3,1052.6 2017.6,1112.6 2018.0,1112.4 2018.3,1032.2 2018.7,1109.3 2019.1,1041.6 2019.5,1051.7 2019.8,1100.3 2020.2,1104.4 2020.5,1057.8 2020.9,1093.2 2021.3,1026.9 2021.6,1045.2 2022.0,1127.5 2022.3,1107.5 2022.7,1054.9 2023.1,1057.0 2023.4,1112.6 2023.8,1112.7 2024.1,1049.8 2024.5,1096.8 2024.8,1050.2 2025.2,1104.3 2025.5,1046.4 2025.9,1123.2 2026.2,1045.4 2026.6,1100.5 2026.9,1049.8 2027.3,1100.1 2027.7,1051.3 2028.1,1098.2 2028.4,1042.3 2028.8,1055.8 2029.1,1090.9 2029.5,1047.0 2029.9,1108.8 2030.2,1045.7 2030.6,1121.7 2030.9,1112.8 2031.3,1039.8 2031.7,1041.3 2032.0,1113.6 2032.4,1036.6 2032.7,1085.0 2033.1,1045.9 2033.4,1108.0 2033.8,1024.9 2034.1,1105.0 2034.5,1043.0 2034.8,1100.4 2035.2,1115.5 2035.5,1034.4 2035.9,1040.9 2036.3,1097.1 2036.6,1053.4 2037.0,1110.7 2037.4,1044.0 2037.7,1095.9 2038.1,1037.2 2038.4,1093.6 2038.8,1041.8 2039.2,1098.8 2039.5,1027.8 2039.9,1101.3 2040.2,1090.3 2040.6,1047.7 2040.9,1039.1 2041.3,1108.5 2041.6,1101.4 2042.0,1041.9 2042.3,1104.1 2042.7,1040.7 2043.1,1045.3 2043.4,1096.1 2043.8,1036.4 2044.1,1094.7 2044.5,1096.6 2044.9,1030.5 2045.2,1039.3 2045.6,1088.9 2045.9,1108.8 2046.3,1039.5 2046.7,1029.9 2047.0,1117.9 2047.4,1036.6 2047.7,1098.9 2048.1,1035.1 2048.4,1103.7 2048.8,1032.3 2049.1,1102.6 2049.5,1039.0 2049.9,1101.1 2050.2,1128.6 2050.6,1038.0 2050.9,1111.7 2051.3,1030.4 2051.6,1031.4 2052.0,1093.3 2052.4,1093.8 2052.7,1058.0 2053.1,1049.2 2053.4,1091.5 2053.8,1109.8 2054.1,1022.8 2054.5,1106.4 2054.9,1028.5 2055.2,1121.3 2055.6,1044.5 2055.9,1100.2 2056.3,1031.3 2056.6,1037.3 2057.0,1100.6 2057.3,1042.7 2057.7,1108.9 2058.0,1094.8 2058.4,1040.9 2058.8,1114.0 2059.1,1044.4 2059.5,1103.6 2059.8,1048.8 2060.2,1101.0 2060.6,1031.4 2060.9,1020.9 2061.3,1095.7 2061.6,1110.2 2062.0,1040.8 2062.4,1028.6 2062.7,1097.0 2063.1,1092.7 2063.4,1034.7 2063.8,1095.4 2064.1,1037.2 2064.5,1029.9 2064.8,1107.8 2065.2,1020.3 2065.5,1102.1 2065.9,1029.6 2066.3,1111.0 2066.6,1043.9 2067.0,1090.9 2067.3,1108.6 2067.7,1039.7 2068.1,1113.0 2068.4,1042.8 2068.8,1122.2 2069.1,1032.1 2069.5,1111.8 2069.8,1046.1 2070.2,1103.1 2070.5,1037.7 2070.9,1116.5 2071.2,1044.5 2071.6,1109.9 2072.0,1037.0 2072.3,1029.6 2072.7,1105.0 2073.0,1104.1 2073.4,1044.4 2073.7,1094.1 2074.1,1037.9 2074.5,1026.1 2074.8,1108.2 2075.2,1116.4 2075.5,1044.4 2075.9,1105.2 2076.2,1030.3 2076.6,1117.2 2076.9,1034.4 2077.3,1037.0 2077.7,1109.9 2078.0,1102.4 2078.4,1037.3 2078.7,1043.6 2079.1,1102.8 2079.4,1112.5 2079.8,1043.7 2080.2,1107.3 2080.5,1035.1 2080.9,1032.0 2081.2,1112.2 2081.6,1110.6 2081.9,1040.4 2082.3,1107.6 2082.6,1025.4 2083.0,1037.5 2083.4,1098.8 2083.7,1037.9 2084.1,1083.0 2084.4,1094.7 2084.8,1030.2 2085.1,1110.8 2085.5,1028.8 2085.8,1030.3 2086.2,1111.5 2086.6,1103.8 2086.9,1035.7 2087.3,1110.0 2087.6,1037.4 2088.0,1103.5 2088.3,1038.4 2088.7,1040.6 2089.0,1123.2 2089.4,1045.5 2089.8,1111.0 2090.1,1113.3 2090.5,1022.2 2090.8,1037.7 2091.2,1111.0 2091.5,1033.3 2091.9,1106.9 2092.3,1031.6 2092.6,1110.7 2093.0,1037.2 2093.3,1102.7 2093.7,1038.0 2094.0,1106.7 2094.4,1034.1 2094.7,1110.4 2095.1,1091.7 2095.5,1047.5 2095.8,1115.0 2096.2,1034.1 2096.5,1044.8 2096.9,1110.1 2097.2,1103.4 2097.6,1033.9 2097.9,1035.9 2098.3,1102.0 2098.7,1024.3 2099.0,1106.7 2099.4,1113.9 2099.7,1043.3 2100.1,1099.9 2100.4,1036.3 2100.8,1099.9 2101.1,1022.4 2101.5,1101.9 2101.8,1037.8 2102.2,1038.3 2102.5,1108.5 2102.9,1039.9 2103.2,1091.3 2103.6,1098.1 2104.0,1023.8 2104.3,1032.1 2104.7,1104.1 2105.0,1045.4 2105.4,1110.3 2105.8,1098.6 2106.1,1044.1 2106.5,1100.0 2106.8,1039.6 2107.2,1101.8 2107.5,1036.2 2107.9,1091.5 2108.2,1034.1 2108.6,1095.5 2108.9,1036.0 2109.3,1042.0 2109.6,1095.7 2110.0,1104.5 2110.4,1036.3 2110.7,1107.6 2111.1,1040.0 2111.4,1118.9 2111.8,1039.9 2112.1,1040.7 2112.5,1096.0 2112.9,1031.8 2113.2,1114.1 2113.6,1027.1 2113.9,1110.1 2114.3,1121.6 2114.6,1043.1 2115.0,1019.7 2115.3,1119.2 2115.7,1023.1 2116.0,1111.6 2116.4,1093.6 2116.8,1033.9 2117.1,1040.1 2117.5,1102.3 2117.8,1104.9 2118.2,1036.7 2118.5,1037.5 2118.9,1101.9 2119.2,1035.1 2119.6,1110.1 2119.9,1102.9 2120.3,1032.3 2120.7,1027.0 2121.0,1102.3 2121.4,1037.7 2121.7,1108.0 2122.1,1038.3 2122.4,1106.9 2122.8,1099.9 2123.1,1023.5 2123.5,1032.3 2123.8,1105.2 2124.2,1104.0 2124.5,1041.1 2124.9,1041.5 2125.3,1118.4 2125.6,1108.1 2126.0,1025.9 2126.3,1086.4 2126.7,1028.5 2127.0,1037.5 2127.4,1093.5 2127.8,1034.1 2128.1,1107.4 2128.5,1030.3 2128.8,1111.3 2129.2,1097.8 2129.5,1037.8 2129.9,1101.1 2130.2,1045.3 2130.6,1096.6 2130.9,1041.5 2131.3,1028.1 2131.7,1124.1 2132.0,1104.3 2132.4,1009.3 2132.7,1107.3 2133.1,1031.6 2133.4,1098.8 2133.8,1046.5 2134.1,1096.0 2134.5,1024.8 2134.8,1103.6 2135.2,1038.4 2135.6,1029.4 2135.9,1100.7 2136.3,1048.7 2136.6,1108.5 2137.0,1041.6 2137.3,1105.9 2137.7,1030.0 2138.0,1120.2 2138.4,1022.2 2138.7,1102.1 2139.1,1031.8 2139.4,1093.8 2139.8,1102.4 2140.2,1046.7 2140.5,1032.9 2140.9,1102.1 2141.2,1099.2 2141.6,1039.2 2141.9,1095.4 2142.3,1020.1 2142.6,1112.9 2143.0,1038.4 2143.4,1101.2 2143.7,1044.0 2144.1,1105.0 2144.4,1033.0 2144.8,1023.2 2145.1,1097.5 2145.5,1116.0 2145.8,1032.8 2146.2,1027.3 2146.6,1114.1 2146.9,1031.5 2147.3,1103.7 2147.6,1091.0 2148.0,1030.8 2148.3,1033.1 2148.7,1104.4 2149.0,1109.8 2149.4,1023.7 2149.7,1041.0 2150.1,1114.1 2150.4,1022.5 2150.8,1104.2 2151.2,1029.1 2151.5,1101.2 2151.9,1107.8 2152.2,1030.4 2152.6,1037.0 2152.9,1117.9 2153.3,1028.7 2153.6,1131.0 2154.0,1030.8 2154.3,1096.4 2154.7,1110.4 2155.0,1041.4 2155.4,1033.5 2155.8,1103.5 2156.1,1025.2 2156.5,1112.5 2156.8,1022.5 2157.2,1103.5 2157.5,1100.9 2157.9,1027.5 2158.2,1101.8 2158.6,1040.0 2158.9,1101.7 2159.3,1043.2 2159.7,1096.3 2160.0,1041.5 M1643.4,889.9 L1643.9,785.0 L1644.4,889.9 M1703.9,997.1 L1704.4,783.5 L1704.9,997.1 M1713.4,1023.2 L1713.9,740.0 L1714.4,1023.2 M1886.7,1072.5 L1887.2,951.0 L1887.7,1072.5 M1977.4,1074.4 L1977.9,903.7 L1978.4,1074.4 M2006.2,1075.1 L2006.7,815.7 L2007.2,1075.1 M2038.8,1071.5 L2039.3,960.6 L2039.8,1071.5"/>
<path stroke="#ff0000" d="M395.9,455.2 526.1,368.4 602.3,325.8 656.3,350.1 698.2,352.3 732.5,388.3 761.4,392.5 786.5,395.4 808.6,386.5 828.4,349.5 846.3,330.4 862.6,341.2 877.7,335.1 891.6,331.7 904.5,323.4 916.7,361.6 928.1,413.9 938.8,433.7 948.9,439.4 958.6,450.3 967.7,473.9 976.5,453.5 984.8,445.8 992.8,487.6 1000.5,568.6 1007.9,578.8 1014.9,566.7 1021.8,580.0 1028.4,597.9 1034.7,613.8 1040.9,593.4 1046.8,597.2 1052.6,625.9 1058.2,627.2 1063.7,645.1 1069.0,713.3 1074.1,688.4 1079.1,664.2 1084.0,661.6 1088.8,653.3 1093.4,671.8 1097.9,688.4 1102.3,707.6 1106.7,713.3 1110.9,691.0 1115.0,671.2 1119.0,692.9 1123.0,692.2 1126.9,689.1 1130.7,699.9 1134.4,712.7 1138.0,704.4 1141.6,704.4 1145.1,704.4 1148.6,731.8 1152.0,731.8 1155.3,731.1 1158.5,733.1 1161.8,744.5 1164.9,757.3 1168.0,754.0 1171.1,750.2 1174.1,743.6 1177.0,754.1 1179.9,764.5 1182.8,732.0 1185.6,706.6 1188.4,713.3 1191.2,712.1 1193.9,735.6 1196.5,752.2 1199.2,760.6 1201.7,738.1 1204.3,736.7 1206.8,734.4 1209.3,725.5 1211.8,743.0 1214.2,740.9 1216.6,727.8 1218.9,759.9 1221.3,784.2 1223.6,805.2 1225.9,792.9 1228.1,790.6 1230.3,790.7 1232.5,785.4 1234.7,786.9 1236.8,786.8 1239.0,799.7 1241.1,800.6 1243.1,801.3 1245.2,780.8 1247.2,760.0 1249.2,764.0 1251.2,783.6 1253.2,781.3 1255.1,773.6 1257.1,779.8 1259.0,789.2 1260.8,786.2 1262.7,778.6 1264.6,780.8 1266.4,789.3 1268.2,798.9 1270.0,805.4 1271.8,794.0 1273.6,782.8 1275.3,767.5 1277.0,767.1 1278.7,772.3 1280.4,779.3 1282.1,784.7 1283.8,773.1 1285.5,757.4 1287.1,750.1 1288.7,773.9 1290.3,782.4 1291.9,783.9 1293.5,785.7 1295.1,788.2 1296.6,772.8 1298.2,776.6 1299.7,779.0 1301.2,792.0 1302.8,791.2 1304.3,782.0 1305.7,765.8 1307.2,746.0 1308.7,747.7 1310.1,751.5 1311.6,752.8 1313.0,771.5 1314.4,774.7 1315.8,783.4 1317.2,757.4 1318.6,745.1 1320.0,731.5 1321.3,734.5 1322.7,712.1 1324.0,687.9 1325.4,669.1 1326.7,677.8 1328.0,675.0 1329.3,675.1 1330.6,657.2 1331.9,663.9 1333.2,680.7 1334.5,626.0 1335.7,613.1 1337.0,610.1 1338.2,604.1 1339.5,600.4 1340.7,584.3 1341.9,583.9 1343.2,591.1 1344.4,609.8 1345.6,623.6 1346.8,635.2 1347.9,631.7 1349.1,642.0 1350.3,685.6 1351.5,679.6 1352.6,675.9 1353.8,704.8 1354.9,705.9 1356.0,672.8 1357.2,673.1 1358.3,668.4 1359.4,670.2 1360.5,680.9 1361.6,661.4 1362.7,653.2 1363.8,673.3 1364.9,685.8 1366.0,684.0 1367.0,688.8 1368.1,662.1 1369.1,656.0 1370.2,670.1 1371.2,715.5 1372.3,746.2 1373.3,724.6 1374.3,696.4 1375.4,662.8 1376.4,713.4 1377.4,722.9 1378.4,747.3 1379.4,723.1 1380.4,701.3 1381.4,727.6 1382.4,722.3 1383.4,724.0 1384.3,739.1 1385.3,746.1 1386.3,757.2 1387.2,737.7 1388.2,738.3 1389.1,725.7 1390.1,692.9 1391.0,710.7 1392.0,706.7 1392.9,698.3 1393.8,743.5 1394.7,731.3 1395.7,727.7 1396.6,717.5 1397.5,730.7 1398.4,704.3 1399.3,689.5 1400.2,690.5 1401.1,709.9 1402.0,717.5 1402.9,712.3 1403.7,712.2 1404.6,670.7 1405.5,653.8 1406.4,656.5 1407.2,659.3 1408.1,664.5 1408.9,670.0 1409.8,667.4 1410.6,668.9 1411.5,662.2 1412.3,638.6 1413.2,632.5 1414.0,624.1 1414.8,608.6 1415.6,596.6 1416.5,586.5 1417.3,573.2 1418.1,562.9 1418.9,578.8 1419.7,586.6 1420.5,607.3 1421.3,610.9 1422.1,604.7 1422.9,599.8 1423.7,601.4 1424.5,596.5 1425.3,591.9 1426.1,599.1 1426.8,609.1 1427.6,623.2 1428.4,630.8 1429.1,662.1 1429.9,670.4 1430.7,646.5 1431.4,648.9 1432.2,659.5 1432.9,684.4 1433.7,674.8 1434.4,668.8 1435.2,669.7 1435.9,653.9 1436.7,668.3 1437.4,655.7 1438.1,668.5 1438.9,662.4 1439.6,660.4 1440.3,667.5 1441.0,687.7 1441.7,710.3 1442.5,681.1 1443.2,715.2 1443.9,712.1 1444.6,740.9 1445.3,737.8 1446.0,714.6 1446.7,721.4 1447.4,732.7 1448.1,732.4 1448.8,705.8 1449.5,698.8 1450.2,709.7 1450.8,718.1 1451.5,711.4 1452.2,702.5 1452.9,702.3 1453.6,699.8 1454.2,692.5 1454.9,679.7 1455.6,696.4 1456.2,693.6 1456.9,698.8 1457.5,689.2 1458.2,684.4 1458.9,698.0 1459.5,699.5 1460.2,709.6 1460.8,674.3 1461.5,681.7 1462.1,682.1 1462.7,705.8 1463.4,656.1 1464.0,689.0 1464.7,668.5 1465.3,664.2 1465.9,694.3 1466.6,703.2 1467.2,670.4 1467.8,700.9 1468.4,724.0 1469.1,725.6 1469.7,748.8 1470.3,733.2 1470.9,744.9 1471.5,729.3 1472.1,764.1 1472.7,757.6 1473.3,764.2 1473.9,747.6 1474.5,774.4 1475.1,746.2 1475.7,771.5 1476.3,771.3 1476.9,740.7 1477.5,752.2 1478.1,742.3 1478.7,728.9 1479.3,754.1 1479.9,747.5 1480.5,761.5 1481.1,763.6 1481.6,726.5 1482.2,741.3 1482.8,748.4 1483.4,752.8 1483.9,744.5 1484.5,736.7 1485.1,745.9 1485.7,758.8 1486.2,740.3 1486.8,742.7 1487.3,746.5 1487.9,756.4 1488.5,781.4 1489.0,764.7 1489.6,780.7 1490.1,791.1 1490.7,792.4 1491.2,775.2 1491.8,761.9 1492.3,753.4 1492.9,741.0 1493.4,727.2 1494.0,731.4 1494.5,727.2 1495.1,701.3 1495.6,689.0 1496.1,714.7 1496.7,731.0 1497.2,755.5 1497.7,761.7 1498.3,761.9 1498.8,744.9 1499.3,758.1 1499.9,760.9 1500.4,758.7 1500.9,772.4 1501.4,771.9 1501.9,768.3 1502.5,787.4 1503.0,801.1 1503.5,820.3 1504.0,798.1 1504.5,798.9 1505.0,819.4 1505.6,834.3 1506.1,814.1 1506.6,833.2 1507.1,828.6 1507.6,846.6 1508.1,829.1 1508.6,827.9 1509.1,825.4 1509.6,822.3 1510.1,805.3 1510.6,812.5 1511.1,801.7 1511.6,828.3 1512.1,818.3 1512.6,791.4 1513.1,788.7 1513.5,794.8 1514.0,780.9 1514.5,777.3 1515.0,787.9 1515.5,789.4 1516.0,778.7 1516.5,786.0 1516.9,766.8 1517.4,761.5 1517.9,754.7 1518.4,750.7 1518.8,743.2 1519.3,765.5 1519.8,756.0 1520.3,740.5 1520.7,739.6 1521.2,725.1 1521.7,745.0 1522.1,745.0 1522.6,754.5 1523.1,762.1 1523.5,757.5 1524.0,777.7 1524.5,811.2 1524.9,792.0 1525.4,792.8 1525.8,802.2 1526.3,795.9 1526.8,796.8 1527.2,796.7 1527.7,800.6 1528.1,813.5 1528.6,788.3 1529.0,800.2 1529.5,802.8 1529.9,820.4 1530.4,811.2 1530.8,828.1 1531.3,815.4 1531.7,839.4 1532.2,809.0 1532.6,854.0 1533.0,820.1 1533.5,833.5 1533.9,828.0 1534.4,839.7 1534.8,862.9 1535.2,857.7 1535.7,844.6 1536.1,859.1 1536.5,876.3 1537.0,865.2 1537.4,854.0 1537.8,862.1 1538.3,862.9 1538.7,836.9 1539.1,851.1 1539.5,858.7 1540.0,879.6 1540.4,817.2 1540.8,802.9 1541.2,748.7 1541.7,781.7 1542.1,750.9 1542.5,796.8 1542.9,776.6 1543.3,815.8 1543.8,791.8 1544.2,792.9 1544.6,800.7 1545.0,817.2 1545.4,781.4 1545.8,775.8 1546.2,792.5 1546.6,855.5 1547.1,768.5 1547.5,761.0 1547.9,783.3 1548.3,743.5 1548.7,779.5 1549.1,748.1 1549.5,758.9 1549.9,756.9 1550.3,748.3 1550.7,765.4 1551.1,759.2 1551.5,771.8 1551.9,766.3 1552.3,753.2 1552.7,768.0 1553.1,766.7 1553.5,760.3 1553.9,761.3 1554.3,772.8 1554.7,749.9 1555.1,774.4 1555.5,761.0 1555.8,765.1 1556.2,771.6 1556.6,792.6 1557.0,745.2 1557.4,738.9 1557.8,771.6 1558.2,751.9 1558.6,757.5 1558.9,737.2 1559.3,771.5 1559.7,760.7 1560.1,735.0 1560.5,769.5 1560.9,754.0 1561.2,746.4 1561.6,727.1 1562.0,780.6 1562.4,737.6 1562.7,761.7 1563.1,740.0 1563.5,733.3 1563.9,765.7 1564.2,759.4 1564.6,758.2 1565.0,738.6 1565.4,755.4 1565.7,756.4 1566.1,770.3 1566.5,741.8 1566.8,749.8 1567.2,757.1 1567.6,695.1 1567.9,746.5 1568.3,772.1 1568.7,753.1 1569.0,747.2 1569.4,755.0 1569.8,765.5 1570.1,699.5 1570.5,722.3 1570.8,716.9 1571.2,706.1 1571.6,758.6 1571.9,718.0 1572.3,740.8 1572.6,751.8 1573.0,763.9 1573.4,709.8 1573.7,709.6 1574.1,700.5 1574.4,747.0 1574.8,717.4 1575.1,745.9 1575.5,757.7 1575.8,777.0 1576.2,707.7 1576.5,734.5 1576.9,675.3 1577.6,765.2 1577.9,701.5 1578.6,749.2 1579.0,742.8 1579.7,721.0 1580.0,785.7 1580.7,752.2 1581.0,767.5 1581.7,734.6 1582.1,759.3 1582.7,711.7 1583.1,760.7 1583.7,761.8 1584.1,749.6 1584.7,753.7 1585.1,725.7 1585.7,795.4 1586.1,744.4 1586.7,787.6 1587.1,750.7 1587.7,761.2 1588.1,733.3 1588.7,757.2 1589.1,724.4 1589.7,763.9 1590.0,752.7 1590.7,792.8 1591.0,721.6 1591.6,797.9 1592.0,788.0 1592.6,787.8 1593.0,821.0 1593.6,790.4 1593.9,849.1 1594.5,821.6 1594.9,863.6 1595.5,804.6 1595.8,851.8 1596.4,829.1 1596.8,860.5 1597.4,844.1 1597.7,871.8 1598.3,874.4 1598.7,862.9 1599.2,894.5 1599.6,866.7 1600.2,875.3 1600.5,935.4 1601.1,901.3 1601.4,909.9 1602.0,912.5 1602.4,926.1 1602.9,907.0 1603.3,921.4 1603.8,909.4 1604.2,924.9 1604.7,903.6 1605.1,925.4 1605.6,895.9 1606.0,944.5 1606.5,889.9 1606.9,919.7 1607.4,903.8 1607.8,920.7 1608.3,910.6 1608.7,926.8 1609.2,880.0 1609.5,928.1 1610.1,937.7 1610.4,893.0 1610.9,947.0 1611.3,914.7 1611.8,932.9 1612.2,903.1 1612.7,939.1 1613.0,900.4 1613.5,917.4 1613.9,894.4 1614.4,947.8 1614.8,925.3 1615.3,923.8 1615.6,885.7 1616.1,921.9 1616.5,898.1 1617.0,899.2 1617.3,927.8 1617.8,929.4 1618.2,913.4 1618.6,913.2 1619.0,896.2 1619.5,908.3 1619.8,923.3 1620.3,929.7 1620.7,906.8 1621.1,918.1 1621.5,935.0 1622.0,927.5 1622.3,889.8 1622.8,918.8 1623.1,930.0 1623.6,903.8 1624.0,953.3 1624.4,948.1 1624.8,929.9 1625.2,959.3 1625.6,913.5 1626.0,939.0 1626.4,906.2 1626.9,948.3 1627.2,915.7 1627.7,930.8 1628.0,940.1 1628.4,944.8 1628.8,929.7 1629.2,920.4 1629.6,972.9 1630.0,936.5 1630.4,950.6 1630.8,932.2 1631.2,985.8 1631.6,948.4 1632.0,976.2 1632.4,968.2 1632.7,922.6 1633.2,953.7 1633.5,929.9 1633.9,938.9 1634.3,962.9 1634.7,942.2 1635.1,901.1 1635.5,907.7 1635.8,993.8 1636.2,977.3 1636.6,954.2 1637.0,962.6 1637.4,913.2 1637.8,917.0 1638.1,961.6 1638.5,979.4 1638.9,925.3 1639.3,969.0 1639.6,935.1 1640.0,972.1 1640.4,911.2 1640.8,938.6 1641.1,890.5 1641.5,888.0 1641.9,978.2 1642.3,939.4 1642.6,918.6 1643.0,942.3 1643.3,916.6 1643.7,960.9 1644.1,934.6 1644.5,955.7 1644.8,940.5 1645.2,944.9 1645.5,894.6 1645.9,922.2 1646.3,975.7 1646.6,938.8 1647.0,915.1 1647.4,989.3 1647.7,955.4 1648.1,905.3 1648.4,937.7 1648.8,990.2 1649.1,930.6 1649.5,946.6 1649.9,976.7 1650.2,982.5 1650.6,915.4 1650.9,987.6 1651.3,943.5 1651.6,965.9 1652.0,923.8 1652.3,922.6 1652.7,965.3 1653.3,939.0 1653.6,983.7 1654.2,953.1 1654.5,980.9 1655.1,953.1 1655.5,980.3 1656.0,969.4 1656.4,976.6 1656.9,997.4 1657.3,967.5 1657.9,984.8 1658.2,1012.3 1658.8,997.9 1659.1,1003.1 1659.7,1011.7 1660.0,1010.4 1660.6,1016.2 1660.9,1010.3 1661.4,1002.7 1661.8,1032.6 1662.3,1012.7 1662.7,1044.0 1663.2,1061.5 1663.6,1019.1 1664.1,1034.3 1664.5,1047.7 1665.0,1062.8 1665.3,1031.9 1665.8,1026.1 1666.2,1064.1 1666.7,1080.1 1667.1,1022.8 1667.6,1064.7 1667.9,1029.1 1668.4,1086.4 1668.8,1056.3 1669.3,1034.2 1669.6,1082.1 1670.1,1042.4 1670.5,1064.7 1671.0,1079.0 1671.3,1052.5 1671.8,1015.8 1672.2,1056.9 1672.7,1020.8 1673.0,1064.4 1673.5,1068.7 1673.9,1014.4 1674.3,1051.8 1674.7,1027.8 1675.2,1055.5 1675.5,1101.9 1676.0,1027.7 1676.4,1049.3 1676.8,1065.7 1677.2,1036.2 1677.6,1053.2 1678.0,1042.5 1678.5,1061.9 1678.8,1033.4 1679.3,1038.5 1679.6,1050.5 1680.1,1081.2 1680.4,1042.8 1680.9,1064.9 1681.2,1038.6 1681.7,1070.8 1682.0,1028.9 1682.5,1081.9 1682.8,1050.4 1683.3,1092.8 1683.6,1051.1 1684.1,1092.8 1684.4,1045.4 1684.9,1044.4 1685.2,1068.4 1685.6,1058.7 1686.0,1035.2 1686.4,1065.3 1686.8,1030.5 1687.2,1084.7 1687.5,1042.7 1688.0,1057.2 1688.3,1076.6 1688.7,1101.6 1689.1,1041.9 1689.5,1034.8 1689.9,1083.5 1690.3,1077.3 1690.6,1034.0 1691.0,1075.3 1691.4,1047.9 1691.8,1036.0 1692.1,1088.8 1692.6,1078.6 1692.9,1049.0 1693.3,1033.9 1693.7,1060.9 1694.1,1049.4 1694.4,1028.3 1694.8,1063.4 1695.1,1054.6 1695.5,1069.4 1695.9,1026.2 1696.3,1098.1 1696.6,1064.1 1697.0,1046.1 1697.4,1061.5 1697.8,1091.6 1698.1,1036.4 1698.5,1059.9 1698.8,1099.8 1699.2,1065.3 1699.6,1033.9 1699.9,1014.3 1700.3,1076.1 1700.7,1070.8 1701.0,1020.9 1701.4,1016.8 1701.7,1064.1 1702.1,1056.3 1702.5,1064.4 1702.8,1028.6 1703.2,1069.6 1703.5,1035.2 1703.9,1070.7 1704.2,1033.6 1704.6,1094.9 1705.0,1087.0 1705.3,1061.5 1705.7,1075.8 1706.0,1035.7 1706.4,1081.9 1706.7,1044.6 1707.2,1070.6 1707.6,1051.8 1708.1,1064.4 1708.5,1028.3 1709.0,1082.4 1709.3,1036.4 1709.8,1112.5 1710.2,1045.0 1710.7,1088.5 1711.0,1032.2 1711.5,1046.2 1711.9,1093.0 1712.4,1065.7 1712.7,1021.0 1713.2,1037.4 1713.6,1102.7 1714.1,1018.1 1714.4,1072.7 1714.9,1045.1 1715.3,1074.9 1715.8,1030.9 1716.1,1087.4 1716.6,1035.8 1716.9,1078.1 1717.4,1097.9 1717.8,1036.3 1718.2,1101.8 1718.6,1020.4 1719.1,1019.6 1719.4,1060.7 1719.9,1028.9 1720.2,1074.6 1720.7,1045.3 1721.0,1087.2 1721.5,1039.1 1721.9,1071.7 1722.3,1088.1 1722.7,1051.0 1723.1,1087.0 1723.5,1052.4 1723.9,1036.4 1724.3,1074.8 1724.7,1108.9 1725.1,1063.1 1725.5,1069.8 1725.8,1029.0 1726.3,1088.5 1726.6,1054.2 1727.1,1036.7 1727.4,1080.0 1727.9,1065.7 1728.2,1043.6 1728.6,1091.9 1729.0,1053.5 1729.4,1076.7 1729.8,1060.1 1730.2,1045.3 1730.5,1076.4 1731.0,1083.6 1731.3,1050.9 1731.7,1078.1 1732.1,1028.2 1732.5,1083.9 1732.8,1047.6 1733.2,1047.4 1733.6,1080.2 1734.0,1057.3 1734.4,1033.8 1734.8,1083.2 1735.1,1044.4 1735.5,1055.2 1735.9,1092.2 1736.3,1034.9 1736.6,1084.9 1737.0,1056.5 1737.4,1085.7 1737.7,1105.7 1738.1,1082.6 1738.5,1026.6 1738.8,1114.6 1739.2,1071.4 1739.6,1055.2 1740.0,1041.5 1740.3,1113.7 1740.7,1041.8 1741.0,1074.3 1741.4,1033.5 1741.8,1072.5 1742.1,1092.0 1742.5,1050.8 1742.9,1099.7 1743.2,1036.9 1743.6,1025.8 1743.9,1059.7 1744.3,1050.3 1744.7,1097.1 1745.0,1022.2 1745.4,1081.0 1745.7,1071.4 1746.1,1053.3 1746.4,1075.1 1746.8,1061.6 1747.1,1031.9 1747.5,1080.6 1747.8,1104.0 1748.2,1053.0 1748.6,1074.7 1748.9,1035.9 1749.4,1043.9 1749.7,1107.5 1750.2,1082.4 1750.6,1059.0 1751.1,1090.5 1751.4,1049.9 1751.9,1025.8 1752.2,1083.0 1752.7,1095.3 1753.1,1028.5 1753.5,1088.8 1753.9,1017.1 1754.3,1090.7 1754.7,1051.9 1755.2,1107.4 1755.5,1057.3 1756.0,1056.7 1756.3,1092.6 1756.8,1040.9 1757.1,1088.7 1757.6,1112.2 1757.9,1038.8 1758.4,1043.2 1758.7,1063.2 1759.2,1048.4 1759.5,1089.2 1760.0,1061.0 1760.3,1116.0 1760.7,1079.1 1761.1,1045.9 1761.5,1087.3 1761.9,1056.9 1762.3,1085.3 1762.7,1048.2 1763.1,1051.5 1763.4,1084.6 1763.9,1097.8 1764.2,1069.2 1764.6,1088.1 1765.0,1044.2 1765.4,1036.5 1765.8,1097.2 1766.2,1062.8 1766.5,1080.9 1766.9,1036.6 1767.3,1084.9 1767.7,1076.6 1768.0,1032.8 1768.5,1050.3 1768.8,1079.8 1769.2,1053.1 1769.6,1090.9 1770.0,1043.8 1770.3,1110.0 1770.7,1083.7 1771.1,1045.7 1771.4,1018.2 1771.8,1091.3 1772.2,1034.9 1772.5,1075.8 1772.9,1082.8 1773.3,1039.5 1773.7,1054.5 1774.0,1082.1 1774.4,1052.5 1774.7,1083.5 1775.1,1050.4 1775.5,1073.2 1775.9,1100.2 1776.2,1045.8 1776.6,1054.0 1776.9,1093.7 1777.3,1043.1 1777.7,1106.1 1778.0,1034.1 1778.4,1069.8 1778.7,1082.5 1779.1,1031.6 1779.5,1085.2 1779.8,1039.8 1780.2,1042.0 1780.5,1093.0 1780.9,1051.4 1781.2,1109.5 1781.6,1088.0 1781.9,1057.3 1782.3,1095.1 1782.6,1055.7 1783.0,1090.7 1783.3,1033.9 1783.8,1077.5 1784.1,1056.9 1784.6,1037.7 1785.0,1096.1 1785.4,1087.5 1785.8,1038.0 1786.2,1035.7 1786.6,1071.3 1787.0,1032.5 1787.4,1081.3 1787.8,1041.9 1788.2,1093.2 1788.6,1050.5 1789.0,1097.8 1789.4,1054.6 1789.7,1088.2 1790.2,1091.4 1790.5,1051.8 1791.0,1045.5 1791.3,1085.9 1791.7,1051.8 1792.1,1093.9 1792.5,1048.7 1792.9,1095.3 1793.3,1044.9 1793.6,1090.0 1794.1,1078.2 1794.4,1047.2 1794.8,1055.3 1795.2,1093.0 1795.6,1086.2 1795.9,1021.8 1796.4,1047.9 1796.7,1102.3 1797.1,1040.3 1797.5,1100.0 1797.9,1043.5 1798.2,1094.1 1798.6,1099.8 1799.0,1040.2 1799.4,1087.2 1799.7,1042.0 1800.1,1063.2 1800.5,1095.0 1800.9,1030.2 1801.2,1074.4 1801.6,1085.0 1801.9,1033.9 1802.3,1036.5 1802.7,1099.3 1803.1,1059.6 1803.4,1099.3 1803.8,1052.6 1804.2,1100.2 1804.5,1100.5 1804.9,1057.6 1805.3,1046.9 1805.6,1077.1 1806.0,1089.5 1806.3,1047.6 1806.7,1115.9 1807.0,1056.3 1807.4,1049.6 1807.8,1084.5 1808.1,1041.2 1808.5,1091.7 1808.8,1110.9 1809.2,1047.1 1809.6,1105.0 1809.9,1044.7 1810.3,1038.7 1810.6,1089.4 1811.0,1085.7 1811.3,1031.6 1811.7,1058.0 1812.0,1085.5 1812.5,1040.2 1812.8,1119.6 1813.3,1039.9 1813.6,1090.5 1814.0,1084.6 1814.4,1055.5 1814.8,1080.2 1815.2,1056.0 1815.6,1053.5 1816.0,1088.8 1816.4,1096.2 1816.8,1033.3 1817.2,1054.5 1817.5,1093.3 1818.0,1047.5 1818.3,1087.6 1818.7,1092.0 1819.1,1050.6 1819.5,1096.8 1819.8,1020.4 1820.3,1036.4 1820.6,1095.4 1821.0,1094.2 1821.4,1052.6 1821.8,1051.2 1822.1,1092.5 1822.5,1093.6 1822.9,1049.3 1823.3,1095.5 1823.6,1044.5 1824.0,1103.8 1824.4,1053.7 1824.8,1039.6 1825.1,1106.2 1825.5,1086.6 1825.9,1046.6 1826.3,1103.0 1826.6,1044.2 1827.0,1041.6 1827.4,1098.2 1827.8,1096.4 1828.1,1061.6 1828.5,1090.2 1828.8,1051.6 1829.2,1103.5 1829.6,1041.3 1829.9,1029.2 1830.3,1094.1 1830.7,1107.0 1831.0,1051.6 1831.4,1108.3 1831.7,1054.6 1832.1,1056.4 1832.5,1113.0 1832.8,1072.4 1833.2,1102.6 1833.5,1090.0 1833.9,1038.1 1834.3,1104.3 1834.6,1059.1 1835.0,1046.6 1835.3,1092.0 1835.7,1093.9 1836.0,1051.6 1836.4,1049.6 1836.7,1098.8 1837.1,1074.7 1837.4,1114.8 1837.9,1052.8 1838.2,1090.6 1838.6,1049.6 1839.0,1125.5 1839.4,1049.0 1839.8,1097.8 1840.2,1085.0 1840.5,1050.5 1841.0,1048.8 1841.3,1121.0 1841.7,1048.5 1842.1,1111.4 1842.5,1100.8 1842.8,1056.0 1843.3,1101.4 1843.6,1043.5 1844.0,1090.9 1844.4,1055.6 1844.8,1050.3 1845.1,1110.3 1845.5,1092.2 1845.9,1037.2 1846.3,1105.1 1846.6,1060.7 1847.0,1094.6 1847.4,1062.4 1847.8,1050.5 1848.1,1094.2 1848.5,1052.2 1848.9,1098.4 1849.2,1058.8 1849.6,1106.1 1850.0,1112.3 1850.3,1058.4 1850.7,1046.7 1851.1,1087.7 1851.4,1067.2 1851.8,1113.6 1852.2,1094.2 1852.5,1050.0 1852.9,1036.4 1853.2,1112.9 1853.6,1106.9 1854.0,1046.2 1854.3,1050.9 1854.7,1099.7 1855.0,1110.3 1855.4,1057.7 1855.8,1084.9 1856.1,1029.7 1856.5,1100.9 1856.8,1044.4 1857.2,1079.7 1857.5,1042.3 1857.9,1051.4 1858.2,1118.9 1858.6,1048.6 1858.9,1108.1 1859.4,1100.8 1859.7,1043.4 1860.1,1090.2 1860.5,1053.2 1860.9,1097.9 1861.3,1053.8 1861.7,1106.9 1862.0,1043.9 1862.4,1046.1 1862.8,1108.6 1863.2,1053.0 1863.6,1113.8 1864.0,1029.6 1864.3,1099.8 1864.7,1110.5 1865.1,1046.6 1865.5,1044.7 1865.8,1114.7 1866.2,1044.5 1866.6,1104.8 1867.0,1056.4 1867.3,1109.7 1867.7,1062.2 1868.1,1111.5 1868.4,1034.2 1868.8,1106.8 1869.2,1090.4 1869.5,1050.9 1869.9,1090.4 1870.3,1047.7 1870.7,1104.7 1871.0,1044.2 1871.4,1059.5 1871.7,1108.4 1872.1,1106.8 1872.5,1063.3 1872.8,1109.8 1873.2,1050.8 1873.6,1043.4 1873.9,1092.5 1874.3,1091.4 1874.6,1055.2 1875.0,1059.4 1875.3,1103.1 1875.7,1098.3 1876.0,1054.7 1876.4,1063.3 1876.8,1096.0 1877.1,1055.2 1877.5,1088.0 1877.8,1063.1 1878.2,1097.1 1878.5,1088.5 1878.9,1045.6 1879.3,1030.8 1879.6,1089.9 1880.1,1101.2 1880.4,1044.8 1880.8,1099.7 1881.2,1039.7 1881.6,1104.7 1881.9,1056.7 1882.3,1037.4 1882.7,1098.4 1883.1,1053.8 1883.4,1100.0 1883.8,1021.8 1884.2,1113.6 1884.6,1109.4 1884.9,1064.3 1885.3,1097.2 1885.7,1034.2 1886.1,1105.6 1886.4,1044.7 1886.8,1105.0 1887.2,1053.1 1887.5,1119.9 1887.9,1063.8 1888.3,1048.6 1888.6,1089.1 1889.0,1087.6 1889.4,1038.0 1889.7,1100.6 1890.1,1043.1 1890.5,1062.8 1890.8,1101.9 1891.2,1101.2 1891.5,1049.5 1891.9,1091.6 1892.3,1047.3 1892.6,1046.1 1893.0,1091.0 1893.3,1101.7 1893.7,1051.8 1894.0,1034.4 1894.4,1099.3 1894.8,1099.4 1895.1,1048.2 1895.5,1031.1 1895.8,1111.5 1896.2,1089.7 1896.5,1044.4 1896.9,1053.2 1897.2,1116.2 1897.6,1042.5 1898.0,1127.3 1898.4,1093.0 1898.7,1059.6 1899.1,1101.3 1899.5,1035.9 1899.9,1036.8 1900.2,1103.2 1900.6,1052.6 1901.0,1104.4 1901.4,1088.5 1901.7,1063.7 1902.1,1022.3 1902.5,1082.5 1902.9,1059.8 1903.2,1117.7 1903.6,1052.8 1904.0,1091.8 1904.3,1106.4 1904.7,1068.0 1905.1,1044.8 1905.4,1104.5 1905.8,1101.6 1906.1,1057.4 1906.5,1109.6 1906.9,1048.4 1907.2,1113.8 1907.6,1035.6 1908.0,1060.6 1908.3,1100.0 1908.7,1036.6 1909.0,1098.9 1909.4,1105.3 1909.7,1042.2 1910.1,1048.5 1910.5,1095.4 1910.8,1090.7 1911.2,1043.2 1911.5,1050.9 1911.9,1092.2 1912.2,1095.1 1912.6,1042.1 1912.9,1090.8 1913.3,1047.9 1913.7,1099.9 1914.0,1047.7 1914.4,1106.1 1914.8,1047.7 1915.2,1066.0 1915.5,1109.7 1915.9,1051.9 1916.3,1113.7 1916.7,1047.7 1917.0,1086.9 1917.4,1035.2 1917.8,1105.5 1918.2,1093.0 1918.5,1049.8 1918.9,1051.8 1919.2,1103.8 1919.6,1107.8 1920.0,1046.6 1920.4,1046.2 1920.7,1100.2 1921.1,1091.3 1921.4,1033.4 1921.8,1041.5 1922.2,1099.9 1922.5,1023.9 1922.9,1091.0 1923.3,1053.6 1923.6,1096.3 1924.0,1104.7 1924.3,1054.4 1924.7,1095.6 1925.0,1037.2 1925.4,1056.6 1925.7,1097.4 1926.1,1049.0 1926.5,1106.1 1926.8,1041.1 1927.2,1102.2 1927.5,1056.6 1927.9,1113.0 1928.2,1100.0 1928.6,1038.0 1929.0,1050.9 1929.3,1092.4 1929.7,1114.7 1930.1,1043.5 1930.5,1030.4 1930.8,1096.4 1931.2,1044.9 1931.5,1094.8 1931.9,1057.4 1932.3,1122.0 1932.7,1107.8 1933.0,1046.1 1933.4,1097.7 1933.8,1023.1 1934.1,1055.3 1934.5,1104.9 1934.9,1040.3 1935.2,1106.0 1935.6,1037.4 1935.9,1102.8 1936.3,1084.6 1936.7,1049.6 1937.0,1052.6 1937.4,1095.8 1937.8,1109.7 1938.1,1053.5 1938.5,1107.5 1938.8,1051.6 1939.2,1054.5 1939.5,1098.8 1939.9,1108.2 1940.2,1047.5 1940.6,1056.0 1940.9,1105.7 1941.3,1047.6 1941.6,1104.9 1942.0,1046.0 1942.3,1112.3 1942.7,1045.1 1943.1,1109.4 1943.5,1105.1 1943.8,1066.6 1944.2,1049.1 1944.6,1101.3 1945.0,1106.1 1945.3,1038.6 1945.7,1061.2 1946.1,1104.2 1946.4,1048.8 1946.8,1092.4 1947.2,1037.9 1947.5,1101.3 1947.9,1058.0 1948.2,1105.1 1948.6,1095.6 1949.0,1046.4 1949.3,1083.6 1949.7,1056.2 1950.1,1120.2 1950.4,1052.0 1950.8,1107.0 1951.1,1050.3 1951.5,1047.2 1951.8,1087.6 1952.2,1053.5 1952.6,1098.2 1952.9,1041.8 1953.3,1087.5 1953.6,1053.6 1954.0,1099.4 1954.3,1104.3 1954.7,1052.8 1955.0,1117.8 1955.4,1053.1 1955.8,1050.7 1956.1,1103.0 1956.5,1117.6 1956.9,1040.8 1957.2,1110.2 1957.6,1041.3 1958.0,1101.2 1958.3,1038.9 1958.7,1039.4 1959.1,1107.5 1959.4,1041.4 1959.8,1094.9 1960.2,1113.1 1960.5,1043.7 1960.9,1118.7 1961.2,1050.7 1961.6,1051.6 1962.0,1113.0 1962.3,1048.1 1962.7,1115.3 1963.1,1058.5 1963.4,1108.3 1963.8,1100.5 1964.1,1035.5 1964.5,1047.2 1964.8,1098.4 1965.2,1065.2 1965.5,1095.8 1965.9,1095.9 1966.2,1040.7 1966.6,1101.0 1966.9,1051.1 1967.3,1104.3 1967.7,1034.5 1968.1,1098.8 1968.4,1052.7 1968.8,1105.7 1969.2,1042.6 1969.6,1035.5 1969.9,1094.3 1970.3,1057.0 1970.6,1107.2 1971.0,1095.0 1971.4,1043.7 1971.7,1095.8 1972.1,1053.4 1972.5,1054.6 1972.8,1089.0 1973.2,1107.5 1973.5,1058.4 1973.9,1095.4 1974.3,1052.1 1974.6,1048.9 1975.0,1104.1 1975.3,1058.0 1975.7,1095.2 1976.0,1039.2 1976.4,1099.7 1976.7,1047.6 1977.1,1107.3 1977.4,1101.8 1977.8,1048.3 1978.2,1098.3 1978.5,1046.2 1978.9,1040.9 1979.2,1107.6 1979.6,1108.7 1980.0,1055.8 1980.4,1052.0 1980.7,1102.7 1981.1,1045.0 1981.4,1107.0 1981.8,1103.5 1982.2,1055.6 1982.6,1038.0 1982.9,1107.9 1983.3,1046.0 1983.6,1097.6 1984.0,1107.1 1984.3,1056.8 1984.7,1033.7 1985.1,1096.8 1985.4,1033.2 1985.8,1095.3 1986.1,1051.3 1986.5,1120.5 1986.8,1038.1 1987.2,1103.0 1987.6,1105.7 1987.9,1055.0 1988.3,1043.8 1988.6,1102.6 1989.0,1119.0 1989.3,1042.2 1989.7,1101.0 1990.1,1054.6 1990.4,1100.5 1990.8,1052.4 1991.2,1052.6 1991.5,1099.2 1991.9,1057.0 1992.2,1100.2 1992.6,1104.6 1993.0,1058.5 1993.3,1046.5 1993.7,1111.0 1994.1,1103.3 1994.4,1047.5 1994.8,1105.8 1995.1,1046.9 1995.5,1038.8 1995.9,1093.5 1996.2,1122.3 1996.6,1047.2 1996.9,1058.1 1997.3,1098.2 1997.6,1052.6 1998.0,1091.0 1998.3,1107.8 1998.7,1048.4 1999.0,1111.5 1999.4,1041.6 1999.8,1044.6 2000.1,1103.7 2000.5,1050.1 2000.9,1119.4 2001.2,1052.5 2001.6,1100.2 2002.0,1103.9 2002.3,1052.1 2002.7,1041.2 2003.0,1101.4 2003.4,1048.6 2003.8,1111.5 2004.1,1038.1 2004.5,1106.6 2004.8,1110.9 2005.2,1045.5 2005.6,1118.4 2005.9,1043.2 2006.3,1114.5 2006.6,1043.2 2007.0,1119.1 2007.3,1043.9 2007.7,1053.5 2008.0,1096.2 2008.4,1034.9 2008.7,1104.5 2009.1,1104.9 2009.4,1044.7 2009.8,1101.0 2010.2,1049.8 2010.6,1096.9 2010.9,1048.6 2011.3,1116.1 2011.6,1049.9 2012.0,1101.0 2012.4,1043.2 2012.7,1102.8 2013.1,1046.1 2013.4,1044.6 2013.8,1098.5 2014.2,1108.3 2014.5,1055.7 2014.9,1102.0 2015.2,1056.6 2015.6,1032.4 2015.9,1100.2 2016.3,1036.2 2016.6,1099.4 2017.0,1099.0 2017.3,1047.3 2017.7,1106.5 2018.0,1047.5 2018.4,1062.0 2018.8,1117.4 2019.2,1106.2 2019.5,1040.6 2019.9,1061.2 2020.2,1108.1 2020.6,1061.1 2021.0,1109.6 2021.3,1115.3 2021.7,1054.5 2022.1,1037.3 2022.4,1125.6 2022.8,1099.4 2023.1,1055.0 2023.5,1054.7 2023.8,1098.2 2024.2,1114.6 2024.5,1056.0 2024.9,1046.2 2025.3,1103.3 2025.6,1112.5 2026.0,1045.6 2026.3,1108.8 2026.7,1058.7 2027.0,1097.5 2027.4,1051.5 2027.7,1051.0 2028.1,1116.6 2028.5,1035.2 2028.8,1106.1 2029.2,1095.9 2029.5,1043.0 2029.9,1104.3 2030.3,1034.6 2030.6,1058.9 2031.0,1100.2 2031.3,1102.6 2031.7,1058.4 2032.1,1105.4 2032.4,1046.6 2032.8,1050.8 2033.1,1117.0 2033.5,1099.1 2033.8,1049.4 2034.2,1107.0 2034.5,1029.6 2034.9,1112.0 2035.2,1038.9 2035.6,1092.2 2036.0,1051.9 2036.3,1046.0 2036.7,1109.4 2037.1,1100.4 2037.4,1052.2 2037.8,1121.6 2038.1,1041.8 2038.5,1052.5 2038.9,1108.4 2039.2,1115.3 2039.6,1045.8 2039.9,1103.0 2040.3,1048.7 2040.6,1127.2 2041.0,1032.5 2041.4,1106.3 2041.7,1045.5 2042.1,1044.2 2042.4,1104.5 2042.8,1060.5 2043.1,1100.0 2043.5,1033.4 2043.8,1106.4 2044.2,1116.4 2044.6,1045.9 2044.9,1106.8 2045.3,1037.3 2045.7,1109.2 2046.0,1040.6 2046.4,1097.6 2046.7,1046.9 2047.1,1043.3 2047.4,1111.3 2047.8,1054.7 2048.2,1106.6 2048.5,1049.3 2048.9,1106.0 2049.2,1098.1 2049.6,1048.7 2049.9,1029.7 2050.3,1112.9 2050.6,1042.2 2051.0,1109.5 2051.4,1048.1 2051.7,1100.9 2052.1,1113.6 2052.4,1036.5 2052.8,1096.2 2053.1,1047.9 2053.5,1111.5 2053.9,1046.0 2054.2,1046.4 2054.6,1117.7 2054.9,1043.6 2055.3,1101.9 2055.7,1091.1 2056.0,1050.4 2056.4,1029.6 2056.7,1122.7 2057.1,1048.1 2057.4,1104.9 2057.8,1050.2 2058.1,1109.7 2058.5,1043.7 2058.9,1095.0 2059.2,1047.9 2059.6,1092.7 2059.9,1107.9 2060.3,1039.7 2060.7,1049.8 2061.0,1101.1 2061.4,1051.6 2061.7,1089.1 2062.1,1052.6 2062.4,1120.5 2062.8,1040.3 2063.2,1099.0 2063.5,1048.7 2063.9,1099.5 2064.2,1105.0 2064.6,1051.0 2064.9,1036.7 2065.3,1111.7 2065.6,1049.3 2066.0,1102.0 2066.4,1109.2 2066.7,1051.4 2067.1,1115.2 2067.4,1043.7 2067.8,1100.3 2068.2,1050.5 2068.5,1057.4 2068.9,1108.4 2069.2,1061.5 2069.6,1097.0 2069.9,1096.4 2070.3,1039.6 2070.6,1106.2 2071.0,1045.5 2071.4,1041.8 2071.7,1101.0 2072.1,1112.3 2072.4,1037.9 2072.8,1047.7 2073.1,1096.3 2073.5,1046.7 2073.8,1109.5 2074.2,1110.4 2074.6,1039.5 2074.9,1052.7 2075.3,1106.7 2075.6,1056.6 2076.0,1112.4 2076.4,1098.4 2076.7,1045.2 2077.1,1055.4 2077.4,1102.9 2077.8,1110.1 2078.1,1045.3 2078.5,1100.4 2078.8,1037.5 2079.2,1047.2 2079.5,1107.2 2079.9,1050.8 2080.3,1097.2 2080.6,1101.0 2081.0,1050.4 2081.3,1028.0 2081.7,1106.3 2082.1,1044.3 2082.4,1094.1 2082.8,1042.6 2083.1,1101.9 2083.5,1110.2 2083.8,1052.1 2084.2,1105.4 2084.5,1051.3 2084.9,1105.2 2085.2,1050.0 2085.6,1113.1 2086.0,1052.0 2086.3,1039.3 2086.7,1114.5 2087.0,1114.2 2087.4,1051.9 2087.8,1102.6 2088.1,1041.3 2088.5,1039.4 2088.8,1103.6 2089.2,1097.6 2089.5,1046.1 2089.9,1105.3 2090.2,1040.4 2090.6,1126.0 2090.9,1039.9 2091.3,1046.4 2091.6,1104.6 2092.0,1054.4 2092.4,1100.9 2092.7,1047.2 2093.1,1098.3 2093.4,1119.9 2093.8,1053.4 2094.1,1048.1 2094.5,1100.7 2094.9,1103.1 2095.2,1046.5 2095.6,1052.3 2095.9,1099.9 2096.3,1050.6 2096.6,1117.1 2097.0,1042.7 2097.3,1095.8 2097.7,1052.3 2098.0,1101.3 2098.4,1037.6 2098.8,1113.8 2099.1,1042.4 2099.5,1104.5 2099.8,1024.4 2100.2,1099.1 2100.5,1102.9 2100.9,1048.1 2101.3,1056.3 2101.6,1105.6 2102.0,1038.6 2102.3,1098.3 2102.7,1099.6 2103.0,1049.6 2103.4,1028.1 2103.7,1110.5 2104.1,1048.5 2104.5,1101.4 2104.8,1099.9 2105.2,1062.8 2105.5,1050.2 2105.9,1117.5 2106.2,1108.3 2106.6,1046.9 2106.9,1031.3 2107.3,1103.2 2107.7,1105.1 2108.0,1033.6 2108.4,1041.6 2108.7,1110.1 2109.1,1041.4 2109.4,1104.2 2109.8,1044.9 2110.1,1119.6 2110.5,1092.6 2110.9,1040.9 2111.2,1041.3 2111.6,1094.6 2111.9,1043.8 2112.3,1101.1 2112.6,1046.2 2113.0,1111.9 2113.3,1048.9 2113.7,1098.3 2114.0,1039.2 2114.4,1114.2 2114.8,1099.9 2115.1,1042.8 2115.5,1098.8 2115.8,1037.3 2116.2,1056.6 2116.5,1100.0 2116.9,1110.6 2117.2,1050.7 2117.6,1121.8 2118.0,1035.7 2118.3,1029.8 2118.7,1095.4 2119.0,1045.0 2119.4,1115.3 2119.7,1112.9 2120.1,1043.4 2120.4,1046.2 2120.8,1099.7 2121.2,1048.3 2121.5,1109.3 2121.9,1103.2 2122.2,1048.9 2122.6,1033.2 2122.9,1100.3 2123.3,1101.5 2123.6,1043.0 2124.0,1103.2 2124.3,1053.4 2124.7,1047.4 2125.0,1106.6 2125.4,1096.8 2125.8,1046.4 2126.1,1039.0 2126.5,1097.8 2126.8,1097.3 2127.2,1045.6 2127.5,1114.4 2127.9,1042.5 2128.2,1105.5 2128.6,1038.7 2128.9,1110.8 2129.3,1047.5 2129.6,1029.0 2130.0,1096.3 2130.4,1105.8 2130.7,1051.2 2131.1,1116.7 2131.4,1041.9 2131.8,1046.6 2132.1,1103.3 2132.5,1116.9 2132.8,1037.9 2133.2,1050.2 2133.5,1102.9 2133.9,1104.7 2134.2,1044.9 2134.6,1105.0 2134.9,1043.4 2135.3,1043.5 2135.7,1124.1 2136.0,1106.6 2136.4,1041.8 2136.7,1094.6 2137.1,1030.0 2137.4,1030.3 2137.8,1111.2 2138.1,1049.0 2138.5,1099.7 2138.9,1118.3 2139.2,1030.1 2139.6,1046.3 2139.9,1092.9 2140.3,1102.6 2140.6,1043.0 2141.0,1029.3 2141.3,1107.5 2141.7,1030.5 2142.1,1109.7 2142.4,1040.6 2142.8,1106.8 2143.1,1104.6 2143.5,1047.5 2143.8,1047.5 2144.2,1128.4 2144.5,1049.6 2144.9,1119.3 2145.2,1037.9 2145.6,1123.8 2145.9,1102.0 2146.3,1042.7 2146.7,1037.4 2147.0,1104.5 2147.4,1037.4 2147.7,1101.0 2148.1,1035.8 2148.4,1103.4 2148.8,1041.9 2149.1,1102.5 2149.5,1116.3 2149.8,1033.5 2150.2,1032.2 2150.6,1098.0 2150.9,1041.3 2151.3,1109.4 2151.6,1100.1 2152.0,1038.8 2152.3,1046.3 2152.7,1109.6 2153.0,1050.0 2153.4,1126.5 2153.7,1049.8 2154.1,1104.5 2154.5,1043.3 2154.8,1101.1 2155.2,1046.7 2155.5,1112.4 2155.9,1043.4 2156.2,1099.3 2156.6,1105.3 2156.9,1026.1 2157.3,1054.4 2157.6,1107.0 2158.0,1113.5 2158.3,1029.5 2158.7,1114.7 2159.0,1034.0 2159.4,1049.4 2159.8,1109.4 M1643.4,937.1 L1643.9,794.0 L1644.4,937.1 M1880.5,1074.5 L1881.0,996.0 L1881.5,1074.5 M1932.2,1075.2 L1932.7,866.7 L1933.2,1075.2 M1929.0,1075.2 L1930.0,990.0 L1931.0,1075.2 M1934.5,1075.2 L1935.5,985.0 L1936.5,1075.2 M2006.2,1076.3 L2006.7,832.3 L2007.2,1076.3 M2063.6,1075.8 L2064.1,829.7 L2064.6,1075.8 M2060.0,1075.9 L2060.5,960.0 L2061.0,1075.9"/>
<path stroke="#00bfbf" d="M395.9,777.3 526.1,788.3 602.3,698.5 656.3,644.4 698.2,623.3 732.5,573.5 761.4,472.3 786.5,376.0 808.6,383.7 828.4,373.1 846.3,331.4 862.6,305.9 877.7,305.2 891.6,318.6 904.5,321.8 916.7,416.8 928.1,457.7 938.8,474.2 948.9,515.0 958.6,537.3 967.7,530.3 976.5,532.9 984.8,576.6 992.8,575.0 1000.5,582.6 1007.9,605.5 1014.9,627.2 1021.8,691.0 1028.4,731.1 1034.7,679.5 1040.9,682.0 1046.8,726.7 1052.6,762.4 1058.2,753.5 1063.7,761.1 1069.0,770.1 1074.1,781.5 1079.1,771.3 1084.0,766.2 1088.8,761.1 1093.4,781.5 1097.9,779.0 1102.3,766.2 1106.7,764.3 1110.9,777.7 1115.0,784.1 1119.0,782.8 1123.0,780.3 1126.9,784.1 1130.7,789.2 1134.4,779.0 1138.0,777.1 1141.6,779.0 1145.1,776.4 1148.6,771.3 1152.0,775.2 1155.3,749.6 1158.5,764.9 1161.8,776.4 1164.9,780.3 1168.0,769.5 1171.1,758.9 1174.1,760.7 1177.0,771.5 1179.9,784.8 1182.8,770.7 1185.6,764.4 1188.4,757.7 1191.2,740.8 1193.9,721.2 1196.5,701.0 1199.2,699.6 1201.7,716.1 1204.3,727.9 1206.8,704.9 1209.3,694.8 1211.8,695.6 1214.2,692.6 1216.6,684.3 1218.9,687.2 1221.3,707.8 1223.6,726.0 1225.9,758.7 1228.1,785.7 1230.3,752.3 1232.5,722.5 1234.7,745.6 1236.8,759.0 1239.0,760.9 1241.1,758.6 1243.1,747.6 1245.2,769.5 1247.2,787.0 1249.2,815.5 1251.2,837.7 1253.2,832.1 1255.1,810.7 1257.1,789.7 1259.0,807.1 1260.8,827.1 1262.7,835.3 1264.6,825.3 1266.4,813.3 1268.2,813.7 1270.0,815.6 1271.8,820.2 1273.6,844.6 1275.3,854.8 1277.0,855.0 1278.7,856.5 1280.4,844.9 1282.1,847.1 1283.8,847.2 1285.5,819.8 1287.1,823.8 1288.7,822.0 1290.3,809.3 1291.9,795.1 1293.5,803.0 1295.1,826.0 1296.6,820.9 1298.2,834.6 1299.7,857.2 1301.2,862.9 1302.8,871.2 1304.3,857.0 1305.7,836.2 1307.2,809.2 1308.7,800.4 1310.1,818.5 1311.6,855.5 1313.0,847.0 1314.4,822.3 1315.8,814.0 1317.2,796.0 1318.6,780.8 1320.0,792.7 1321.3,814.0 1322.7,812.0 1324.0,801.7 1325.4,788.8 1326.7,764.8 1328.0,754.2 1329.3,727.7 1330.6,728.0 1331.9,719.9 1333.2,712.4 1334.5,700.0 1335.7,688.7 1337.0,672.6 1338.2,668.3 1339.5,642.4 1340.7,635.2 1341.9,635.1 1343.2,632.1 1344.4,661.8 1345.6,669.8 1346.8,697.1 1347.9,715.5 1349.1,737.4 1350.3,756.1 1351.5,759.9 1352.6,761.6 1353.8,758.4 1354.9,752.4 1356.0,747.6 1357.2,741.6 1358.3,728.9 1359.4,730.1 1360.5,718.4 1361.6,741.2 1362.7,748.6 1363.8,739.1 1364.9,714.5 1366.0,701.5 1367.0,737.2 1368.1,754.9 1369.1,784.6 1370.2,804.8 1371.2,819.7 1372.3,834.9 1373.3,844.7 1374.3,814.0 1375.4,800.9 1376.4,813.8 1377.4,830.5 1378.4,836.5 1379.4,834.9 1380.4,829.4 1381.4,802.3 1382.4,807.1 1383.4,799.5 1384.3,810.4 1385.3,807.7 1386.3,819.3 1387.2,836.4 1388.2,857.0 1389.1,826.4 1390.1,824.3 1391.0,799.2 1392.0,796.7 1392.9,785.1 1393.8,798.5 1394.7,804.1 1395.7,799.3 1396.6,841.9 1397.5,830.8 1398.4,840.8 1399.3,819.7 1400.2,786.2 1401.1,791.3 1402.0,753.4 1402.9,750.4 1403.7,740.1 1404.6,732.3 1405.5,751.9 1406.4,719.1 1407.2,738.5 1408.1,706.8 1408.9,701.6 1409.8,689.2 1410.6,696.4 1411.5,696.6 1412.3,666.0 1413.2,710.4 1414.0,716.8 1414.8,687.1 1415.6,680.2 1416.5,642.8 1417.3,627.7 1418.1,625.4 1418.9,616.0 1419.7,618.7 1420.5,612.6 1421.3,624.8 1422.1,627.9 1422.9,637.9 1423.7,640.0 1424.5,655.4 1425.3,655.7 1426.1,656.8 1426.8,691.6 1427.6,714.8 1428.4,698.5 1429.1,699.7 1429.9,697.5 1430.7,669.0 1431.4,685.5 1432.2,680.9 1432.9,659.5 1433.7,687.4 1434.4,687.2 1435.2,706.8 1435.9,709.7 1436.7,736.3 1437.4,735.0 1438.1,722.9 1438.9,737.8 1439.6,717.1 1440.3,723.2 1441.0,718.3 1441.7,721.2 1442.5,729.9 1443.2,758.6 1443.9,750.5 1444.6,763.6 1445.3,767.9 1446.0,767.9 1446.7,760.2 1447.4,725.0 1448.1,754.0 1448.8,776.0 1449.5,742.7 1450.2,692.7 1450.8,677.9 1451.5,702.0 1452.2,683.5 1452.9,747.8 1453.6,746.3 1454.2,706.6 1454.9,687.4 1455.6,712.9 1456.2,708.1 1456.9,702.8 1457.5,738.7 1458.2,714.2 1458.9,742.6 1459.5,710.7 1460.2,722.7 1460.8,724.3 1461.5,720.4 1462.1,743.3 1462.7,728.8 1463.4,711.0 1464.0,710.8 1464.7,713.4 1465.3,702.6 1465.9,720.9 1466.6,688.0 1467.2,685.6 1467.8,713.8 1468.4,699.1 1469.1,704.8 1469.7,717.8 1470.3,685.6 1470.9,684.6 1471.5,695.3 1472.1,702.4 1472.7,709.7 1473.3,730.3 1473.9,696.7 1474.5,674.1 1475.1,722.8 1475.7,730.3 1476.3,717.5 1476.9,743.0 1477.5,726.1 1478.1,713.8 1478.7,739.7 1479.3,729.1 1479.9,731.9 1480.5,729.5 1481.1,745.1 1481.6,745.8 1482.2,704.3 1482.8,759.2 1483.4,775.1 1483.9,729.3 1484.5,708.3 1485.1,771.2 1485.7,707.5 1486.2,710.7 1486.8,735.2 1487.3,756.2 1487.9,723.8 1488.5,738.5 1489.0,724.3 1489.6,714.0 1490.1,739.4 1490.7,729.3 1491.2,770.0 1491.8,761.3 1492.3,719.8 1492.9,754.9 1493.4,736.9 1494.0,769.4 1494.5,737.6 1495.1,743.8 1495.6,727.0 1496.1,746.1 1496.7,774.0 1497.2,734.0 1497.7,761.3 1498.3,731.3 1498.8,744.9 1499.3,722.6 1499.9,720.6 1500.4,728.8 1500.9,723.1 1501.4,740.3 1501.9,729.3 1502.5,735.5 1503.0,728.9 1503.5,752.3 1504.0,741.7 1504.5,750.2 1505.0,739.7 1505.6,739.1 1506.1,746.3 1506.6,767.4 1507.1,735.0 1507.6,743.6 1508.1,766.8 1508.6,773.0 1509.1,755.8 1509.6,757.8 1510.1,752.5 1510.6,772.5 1511.1,748.4 1511.6,751.3 1512.1,757.6 1512.6,750.6 1513.1,774.5 1513.5,785.4 1514.0,803.6 1514.5,786.1 1515.0,758.7 1515.5,759.2 1516.0,738.2 1516.5,746.1 1516.9,761.9 1517.4,757.7 1517.9,779.9 1518.4,774.5 1518.8,769.9 1519.3,745.9 1519.8,755.5 1520.3,757.2 1520.7,748.7 1521.2,744.8 1521.7,768.5 1522.1,768.3 1522.6,756.6 1523.1,761.2 1523.5,766.8 1524.0,780.1 1524.5,724.9 1524.9,761.6 1525.4,703.4 1525.8,773.7 1526.3,749.4 1526.8,764.9 1527.2,755.9 1527.7,768.9 1528.1,756.4 1528.6,752.7 1529.0,795.5 1529.5,750.1 1529.9,752.3 1530.4,740.6 1530.8,778.8 1531.3,747.7 1531.7,744.3 1532.2,769.5 1532.6,751.5 1533.0,757.4 1533.5,766.8 1533.9,757.0 1534.4,780.0 1534.8,772.9 1535.2,754.7 1535.7,744.9 1536.1,775.5 1536.5,769.3 1537.0,775.8 1537.4,759.7 1537.8,767.6 1538.3,779.6 1538.7,776.5 1539.1,761.4 1539.5,767.1 1540.0,790.3 1540.4,750.8 1540.8,763.3 1541.2,786.0 1541.7,771.4 1542.1,807.4 1542.5,770.7 1542.9,749.5 1543.3,737.1 1543.8,742.7 1544.2,736.7 1544.6,776.2 1545.0,736.6 1545.4,754.4 1545.8,733.8 1546.2,721.2 1546.6,757.4 1547.1,750.6 1547.5,738.5 1547.9,716.9 1548.3,703.5 1548.7,738.8 1549.1,764.5 1549.5,709.8 1549.9,717.4 1550.3,728.2 1550.7,757.5 1551.1,746.9 1551.5,710.5 1551.9,760.4 1552.3,763.4 1552.7,741.1 1553.1,743.5 1553.5,739.6 1553.9,768.8 1554.3,741.3 1554.7,746.1 1555.1,744.0 1555.5,740.1 1555.8,758.7 1556.2,722.7 1556.6,754.8 1557.0,748.5 1557.4,745.3 1557.8,764.7 1558.2,754.2 1558.6,739.9 1558.9,757.7 1559.3,743.5 1559.7,767.3 1560.1,769.2 1560.5,768.0 1560.9,706.8 1561.2,759.1 1561.6,751.2 1562.0,727.6 1562.4,738.4 1562.7,737.9 1563.1,720.3 1563.5,725.0 1563.9,758.8 1564.2,722.5 1564.6,713.1 1565.0,739.8 1565.4,758.0 1565.7,763.2 1566.1,720.9 1566.5,725.5 1566.8,772.9 1567.2,771.1 1567.6,748.3 1567.9,767.2 1568.3,708.7 1568.7,743.7 1569.0,732.2 1569.4,768.3 1569.8,728.6 1570.1,731.9 1570.5,726.3 1570.8,750.8 1571.2,711.1 1571.6,751.4 1571.9,724.9 1572.3,733.1 1572.6,748.0 1573.0,734.0 1573.4,738.2 1573.7,745.2 1574.1,743.4 1574.4,714.4 1574.8,739.6 1575.1,730.7 1575.5,742.8 1575.8,733.1 1576.2,741.3 1576.5,729.6 1577.2,701.5 1577.6,742.8 1578.3,756.2 1578.6,731.8 1579.3,745.5 1579.7,764.0 1580.3,787.5 1580.7,756.1 1581.4,784.0 1581.7,768.5 1582.4,737.2 1582.7,757.5 1583.4,784.5 1583.7,745.0 1584.4,751.7 1584.8,783.7 1585.4,753.6 1585.8,764.5 1586.4,724.0 1586.8,786.6 1587.4,745.4 1587.8,761.2 1588.4,722.5 1588.7,755.0 1589.4,734.1 1589.7,774.2 1590.3,741.7 1590.7,686.4 1591.3,714.4 1591.7,751.2 1592.3,727.4 1592.6,758.7 1593.2,720.7 1593.6,731.3 1594.2,711.2 1594.6,746.3 1595.2,731.3 1595.5,740.8 1596.1,731.2 1596.5,769.0 1597.1,712.5 1597.4,761.8 1598.0,720.0 1598.3,770.9 1598.9,769.0 1599.3,720.2 1599.9,745.4 1600.2,771.5 1600.8,699.1 1601.1,746.5 1601.7,748.3 1602.0,775.1 1602.6,768.7 1603.0,735.3 1603.5,785.9 1603.9,739.8 1604.4,753.9 1604.8,743.7 1605.3,787.5 1605.7,774.6 1606.2,749.8 1606.6,760.3 1607.1,794.4 1607.5,773.1 1608.0,760.7 1608.4,710.8 1608.9,758.7 1609.2,742.8 1609.8,777.6 1610.1,732.6 1610.7,800.7 1611.0,734.2 1611.5,765.8 1611.9,744.3 1612.4,789.5 1612.7,737.9 1613.3,723.3 1613.6,754.1 1614.1,754.4 1614.5,742.2 1615.0,715.8 1615.3,747.3 1615.8,724.8 1616.2,707.6 1616.7,749.4 1617.0,725.7 1617.5,731.4 1617.9,746.4 1618.4,703.0 1618.7,746.3 1619.2,725.1 1619.6,712.7 1620.0,693.3 1620.4,716.0 1620.9,751.7 1621.2,698.6 1621.7,732.5 1622.0,707.9 1622.5,712.7 1622.9,681.3 1623.3,692.0 1623.7,686.4 1624.2,694.1 1624.5,725.1 1625.0,693.7 1625.3,707.4 1625.8,728.4 1626.1,705.3 1626.6,699.1 1626.9,680.3 1627.4,688.9 1627.7,679.1 1628.2,645.7 1628.5,690.0 1629.0,672.6 1629.3,644.0 1629.8,665.1 1630.1,643.8 1630.6,660.7 1630.9,670.4 1631.3,661.2 1631.7,645.2 1632.1,645.8 1632.5,664.5 1632.9,639.6 1633.3,626.0 1633.7,630.5 1634.0,650.7 1634.5,663.9 1634.8,627.5 1635.2,647.7 1635.6,591.0 1636.0,595.0 1636.3,656.5 1636.8,631.2 1637.1,603.1 1637.5,590.5 1637.9,639.6 1638.3,639.9 1638.6,596.8 1639.0,565.1 1639.4,646.9 1639.8,545.6 1640.1,618.3 1640.5,604.3 1640.9,618.6 1641.3,608.0 1641.6,545.4 1642.0,583.8 1642.4,571.0 1642.7,585.3 1643.1,453.3 1643.5,532.9 1643.8,612.2 1644.2,616.6 1644.6,560.2 1644.9,487.8 1645.3,567.1 1645.7,534.7 1646.0,597.4 1646.4,619.1 1646.7,569.4 1647.1,559.0 1647.5,622.6 1647.8,595.1 1648.2,519.2 1648.6,608.4 1648.9,545.4 1649.3,569.2 1649.6,540.2 1650.0,559.0 1650.3,565.0 1650.7,570.9 1651.0,607.8 1651.4,580.3 1651.7,520.6 1652.1,582.6 1652.4,607.7 1652.8,607.0 1653.1,639.6 1653.7,572.8 1654.1,633.8 1654.7,613.5 1655.0,655.9 1655.6,615.5 1655.9,644.0 1656.5,679.2 1656.8,599.8 1657.4,657.8 1657.8,555.0 1658.3,641.5 1658.7,554.9 1659.2,669.4 1659.6,590.0 1660.1,686.6 1660.5,651.3 1661.0,694.7 1661.4,762.6 1661.9,748.9 1662.2,660.7 1662.8,767.8 1663.1,755.9 1663.7,718.0 1664.0,749.7 1664.5,803.7 1664.9,733.6 1665.4,769.8 1665.8,756.0 1666.3,786.0 1666.6,720.1 1667.1,772.0 1667.5,756.9 1668.0,735.0 1668.4,763.7 1668.9,774.1 1669.2,799.1 1669.7,805.7 1670.1,770.1 1670.6,760.6 1670.9,805.5 1671.4,792.9 1671.8,771.0 1672.3,812.9 1672.6,750.5 1673.1,778.4 1673.4,840.1 1673.9,838.5 1674.3,803.3 1674.8,796.5 1675.1,843.8 1675.6,796.7 1675.9,847.8 1676.4,813.2 1676.8,859.9 1677.2,825.7 1677.6,852.7 1678.1,866.0 1678.4,817.7 1678.9,872.1 1679.2,776.5 1679.7,874.6 1680.0,804.9 1680.5,844.2 1680.8,912.9 1681.3,873.9 1681.6,794.6 1682.1,839.4 1682.4,874.2 1682.9,875.5 1683.2,920.9 1683.7,896.1 1684.0,822.7 1684.5,847.6 1684.8,917.3 1685.2,918.1 1685.6,826.4 1686.0,819.7 1686.4,923.6 1686.8,838.4 1687.2,905.7 1687.6,844.8 1687.9,887.8 1688.4,929.3 1688.7,870.7 1689.1,871.7 1689.5,814.8 1689.9,902.3 1690.2,832.2 1690.7,946.1 1691.0,897.4 1691.4,856.2 1691.8,975.6 1692.2,843.3 1692.5,977.2 1692.9,906.1 1693.3,866.7 1693.7,866.3 1694.0,945.2 1694.4,915.7 1694.8,872.8 1695.2,786.2 1695.5,931.8 1695.9,860.0 1696.3,946.8 1696.7,962.9 1697.0,884.5 1697.4,851.2 1697.7,920.7 1698.1,854.5 1698.5,904.5 1698.9,888.4 1699.2,976.8 1699.6,946.2 1699.9,853.6 1700.3,942.6 1700.7,896.6 1701.0,889.4 1701.4,945.1 1701.7,843.0 1702.1,997.7 1702.5,949.0 1702.8,958.5 1703.2,886.8 1703.5,923.3 1703.9,858.9 1704.2,978.7 1704.6,964.0 1705.0,913.6 1705.3,834.6 1705.7,942.9 1706.0,845.5 1706.4,953.9 1706.7,992.2 1707.1,868.2 1707.6,914.4 1707.9,860.0 1708.5,987.7 1708.8,880.2 1709.3,915.1 1709.7,983.3 1710.2,879.9 1710.5,995.5 1711.0,881.5 1711.4,994.4 1711.9,883.1 1712.2,989.8 1712.7,964.8 1713.1,894.1 1713.6,896.4 1713.9,975.1 1714.4,944.0 1714.8,906.7 1715.3,844.9 1715.6,942.0 1716.1,901.2 1716.4,1023.1 1716.9,892.6 1717.3,978.7 1717.7,954.7 1718.1,876.5 1718.6,993.3 1718.9,892.5 1719.4,992.2 1719.7,920.7 1720.2,906.3 1720.6,997.5 1721.0,1003.6 1721.4,947.2 1721.8,1037.1 1722.2,936.6 1722.6,930.0 1723.0,1040.8 1723.4,1043.7 1723.8,923.3 1724.2,976.2 1724.6,1023.9 1725.0,975.3 1725.4,1014.3 1725.8,983.7 1726.2,1040.7 1726.6,987.7 1727.0,1009.9 1727.4,975.9 1727.7,1039.0 1728.2,971.4 1728.5,1013.2 1728.9,981.9 1729.3,1030.1 1729.7,988.2 1730.1,1033.2 1730.5,976.0 1730.8,1013.1 1731.3,1049.1 1731.6,1017.9 1732.0,997.5 1732.4,1050.0 1732.8,1012.2 1733.1,1048.4 1733.6,1029.1 1733.9,1068.2 1734.3,1031.3 1734.7,1011.5 1735.1,1005.5 1735.4,1043.6 1735.8,1049.5 1736.2,1031.2 1736.6,1011.7 1736.9,1035.9 1737.3,1033.6 1737.7,1052.7 1738.0,1024.5 1738.4,1045.8 1738.8,1028.7 1739.1,1055.6 1739.5,1016.8 1739.9,1056.5 1740.3,1077.4 1740.6,1020.7 1741.0,1058.2 1741.3,1019.7 1741.7,1063.0 1742.1,1029.3 1742.4,1069.8 1742.8,1016.1 1743.2,1048.0 1743.5,1071.1 1743.9,1026.0 1744.2,1066.8 1744.6,1087.6 1744.9,1044.6 1745.3,1030.0 1745.7,1081.7 1746.0,1062.4 1746.4,1028.7 1746.7,1078.9 1747.1,1048.0 1747.4,1065.3 1747.8,1044.0 1748.1,1020.6 1748.5,1077.2 1748.8,1042.7 1749.2,1070.4 1749.7,1040.7 1750.0,1064.0 1750.5,1100.2 1750.8,1034.0 1751.3,1040.7 1751.7,1083.9 1752.2,1077.2 1752.5,1037.8 1753.0,1027.7 1753.3,1082.5 1753.8,1016.9 1754.1,1077.2 1754.6,1035.6 1755.0,1085.2 1755.4,1083.9 1755.8,1025.0 1756.2,1071.7 1756.6,1043.1 1757.0,1023.9 1757.4,1082.5 1757.8,1085.2 1758.2,1044.6 1758.6,1034.1 1759.0,1088.7 1759.4,1105.2 1759.8,1048.1 1760.2,1081.3 1760.6,1040.5 1761.0,1061.9 1761.4,1032.9 1761.8,1034.0 1762.1,1091.7 1762.6,1080.8 1762.9,1043.8 1763.3,1024.1 1763.7,1091.7 1764.1,1074.5 1764.5,1016.3 1764.9,1091.7 1765.2,1044.2 1765.7,1078.6 1766.0,1028.2 1766.4,1042.4 1766.8,1073.9 1767.2,1080.8 1767.5,1034.4 1767.9,1071.4 1768.3,1041.4 1768.7,1090.9 1769.1,1045.4 1769.5,1087.1 1769.8,1048.0 1770.2,1047.5 1770.6,1097.3 1771.0,1044.0 1771.3,1078.2 1771.7,1072.2 1772.0,1048.2 1772.4,1049.4 1772.8,1081.3 1773.2,1026.1 1773.5,1102.5 1773.9,1076.8 1774.3,1045.0 1774.6,1090.3 1775.0,1055.0 1775.4,1097.3 1775.7,1043.1 1776.1,1113.8 1776.4,1022.8 1776.8,1047.3 1777.2,1089.5 1777.5,1032.3 1777.9,1082.2 1778.3,1089.4 1778.6,1026.1 1779.0,1071.6 1779.3,1026.7 1779.7,1071.3 1780.0,1030.3 1780.4,1045.0 1780.7,1082.4 1781.1,1093.2 1781.5,1051.6 1781.8,1016.6 1782.2,1070.5 1782.5,1080.0 1782.9,1045.9 1783.3,1095.1 1783.7,1055.0 1784.1,1059.8 1784.5,1101.1 1784.9,1046.6 1785.3,1112.6 1785.8,1080.5 1786.1,1034.7 1786.6,1039.8 1786.9,1087.1 1787.4,1080.9 1787.7,1043.2 1788.2,1063.0 1788.5,1100.4 1788.9,1058.8 1789.3,1104.5 1789.7,1081.8 1790.1,1044.2 1790.5,1063.8 1790.9,1017.5 1791.3,1081.5 1791.6,991.2 1792.1,1066.7 1792.4,1018.4 1792.9,1069.1 1793.2,925.3 1793.6,1066.6 1794.0,849.7 1794.4,1066.8 1794.7,789.7 1795.2,1068.3 1795.5,742.6 1795.9,1069.3 1796.3,730.3 1796.7,1067.3 1797.0,712.9 1797.4,1069.5 1797.8,701.5 1798.2,1068.1 1798.5,667.7 1798.9,1066.9 1799.3,630.4 1799.7,1068.9 1800.0,577.9 1800.4,543.8 1800.8,1068.2 1801.2,556.0 1801.5,1068.8 1801.9,1064.7 1802.3,605.0 1802.7,641.9 1803.0,1069.1 1803.4,690.2 1803.7,1069.3 1804.1,697.2 1804.5,1068.6 1804.8,1069.0 1805.2,701.0 1805.6,1068.1 1805.9,705.6 1806.3,1069.9 1806.6,731.6 1807.0,763.1 1807.4,1068.7 1807.7,808.6 1808.1,1068.6 1808.4,1069.7 1808.8,833.4 1809.1,1066.2 1809.5,841.8 1809.9,850.9 1810.2,1068.7 1810.6,1069.0 1810.9,854.9 1811.3,861.4 1811.6,1069.5 1812.0,873.9 1812.3,1069.7 1812.8,879.4 1813.1,1068.8 1813.6,886.8 1813.9,1068.3 1814.3,895.9 1814.7,1066.3 1815.1,902.3 1815.5,1068.3 1815.9,914.1 1816.3,1065.9 1816.7,1068.2 1817.0,921.2 1817.5,926.6 1817.8,1069.4 1818.2,938.8 1818.6,1069.6 1819.0,945.6 1819.4,1069.8 1819.8,954.3 1820.1,1064.1 1820.6,1068.2 1820.9,960.4 1821.3,968.1 1821.7,1069.5 1822.1,978.7 1822.4,1069.3 1822.8,1068.5 1823.2,980.8 1823.6,990.7 1823.9,1069.2 1824.3,995.8 1824.7,1069.4 1825.1,1000.9 1825.4,1069.8 1825.8,1008.9 1826.2,1067.5 1826.6,1014.6 1826.9,1067.9 1827.3,1020.1 1827.6,1094.0 1828.0,1105.2 1828.4,1038.2 1828.8,1045.0 1829.1,1090.9 1829.5,1060.2 1829.8,1108.6 1830.2,1059.1 1830.6,1084.3 1830.9,1072.0 1831.3,1035.7 1831.7,1045.9 1832.0,1097.2 1832.4,1038.7 1832.7,1094.0 1833.1,1033.9 1833.4,1106.8 1833.8,1055.6 1834.2,1094.5 1834.5,1106.2 1834.9,1067.7 1835.2,1043.3 1835.6,1119.5 1835.9,1082.8 1836.3,1039.3 1836.6,1098.5 1837.0,1049.5 1837.4,1100.1 1837.8,1049.8 1838.2,1052.7 1838.5,1080.3 1839.0,1046.2 1839.3,1103.2 1839.8,1057.3 1840.1,1096.9 1840.5,1064.8 1840.9,1104.6 1841.3,1105.1 1841.7,1033.1 1842.1,1112.6 1842.4,1049.1 1842.8,1081.9 1843.2,1048.8 1843.6,1086.0 1843.9,1042.0 1844.3,1049.2 1844.7,1106.0 1845.1,1097.1 1845.5,1043.8 1845.9,1024.3 1846.2,1089.4 1846.6,1059.5 1847.0,1093.1 1847.4,1035.8 1847.7,1105.8 1848.1,1040.2 1848.4,1095.9 1848.8,1055.6 1849.2,1095.9 1849.6,1042.4 1849.9,1093.9 1850.3,1041.1 1850.7,1107.4 1851.0,1100.5 1851.4,1044.2 1851.8,1102.4 1852.1,1045.9 1852.5,1098.2 1852.8,1073.1 1853.2,1056.7 1853.6,1095.9 1853.9,1116.4 1854.3,1038.2 1854.7,1094.5 1855.0,1060.0 1855.4,1044.4 1855.7,1098.2 1856.1,1090.8 1856.4,1049.8 1856.8,1104.6 1857.1,1068.0 1857.5,1093.4 1857.8,1041.1 1858.2,1108.0 1858.5,1047.3 1858.9,1108.2 1859.2,1054.3 1859.7,1038.9 1860.0,1096.1 1860.4,1042.8 1860.8,1094.8 1861.2,1095.8 1861.6,1052.1 1862.0,1043.8 1862.3,1097.4 1862.7,1047.1 1863.1,1132.3 1863.5,1109.0 1863.9,1054.0 1864.3,1101.4 1864.6,1046.8 1865.0,1040.7 1865.4,1100.2 1865.8,1059.4 1866.1,1089.3 1866.5,1032.8 1866.9,1102.4 1867.3,1096.8 1867.6,1065.5 1868.0,1056.7 1868.4,1101.1 1868.7,1057.0 1869.1,1117.3 1869.5,1101.3 1869.8,1046.7 1870.2,1104.4 1870.6,1016.9 1870.9,1054.8 1871.3,1111.7 1871.7,1119.8 1872.0,1053.7 1872.4,1110.1 1872.7,1040.6 1873.1,1040.9 1873.5,1116.5 1873.8,1053.3 1874.2,1093.1 1874.6,1090.7 1874.9,1054.4 1875.3,1100.0 1875.6,1062.8 1876.0,1127.4 1876.3,1061.0 1876.7,1064.1 1877.0,1100.8 1877.4,1055.4 1877.7,1108.4 1878.1,1047.8 1878.5,1101.7 1878.8,1053.4 1879.2,1096.4 1879.6,1046.2 1879.9,1110.6 1880.3,1038.2 1880.7,1105.5 1881.1,1057.5 1881.4,1092.2 1881.9,1031.0 1882.2,1099.0 1882.6,1114.3 1883.0,1052.7 1883.4,1030.2 1883.7,1103.1 1884.1,1094.2 1884.5,1052.8 1884.9,1088.7 1885.2,1042.6 1885.6,1105.5 1886.0,1045.6 1886.3,1089.2 1886.7,1034.3 1887.1,1093.1 1887.4,1049.4 1887.8,1100.9 1888.2,1044.0 1888.5,1043.9 1888.9,1086.2 1889.3,1036.2 1889.6,1091.9 1890.0,1034.0 1890.4,1095.6 1890.7,1050.2 1891.1,1110.2 1891.4,1034.2 1891.8,1100.7 1892.2,1098.4 1892.5,1048.6 1892.9,1100.4 1893.2,1015.5 1893.6,1037.7 1893.9,1096.2 1894.3,1111.3 1894.7,1042.6 1895.0,1037.0 1895.4,1096.4 1895.7,1049.3 1896.1,1104.1 1896.4,1101.9 1896.8,1056.8 1897.2,1097.8 1897.5,1046.2 1897.9,1046.1 1898.3,1097.7 1898.7,1037.3 1899.0,1094.4 1899.4,1104.2 1899.8,1016.7 1900.2,1105.7 1900.5,1036.9 1900.9,1043.2 1901.3,1097.7 1901.7,1090.5 1902.0,1049.6 1902.4,1103.2 1902.8,1047.3 1903.2,1105.6 1903.5,1043.7 1903.9,1055.6 1904.3,1102.3 1904.6,1122.9 1905.0,1069.2 1905.4,1054.5 1905.7,1108.9 1906.1,1112.7 1906.4,1049.2 1906.8,1087.4 1907.2,1035.2 1907.5,1099.6 1907.9,1046.6 1908.3,1114.3 1908.6,1054.2 1909.0,1054.9 1909.3,1109.8 1909.7,1121.5 1910.0,1034.0 1910.4,1110.8 1910.8,1052.7 1911.1,1094.3 1911.5,1044.3 1911.8,1101.5 1912.2,1046.9 1912.5,1104.1 1912.9,1019.5 1913.2,1100.0 1913.6,1051.7 1914.0,1089.0 1914.3,1044.1 1914.7,1097.2 1915.1,1050.8 1915.5,1035.8 1915.8,1106.2 1916.2,1097.5 1916.6,1048.0 1917.0,1094.2 1917.3,1050.4 1917.7,1109.7 1918.1,1036.4 1918.4,1038.3 1918.8,1105.2 1919.2,1114.0 1919.5,1043.6 1919.9,1102.7 1920.3,1055.0 1920.6,1060.5 1921.0,1106.5 1921.4,1095.7 1921.7,1043.5 1922.1,1104.7 1922.4,1049.5 1922.8,1030.7 1923.2,1100.8 1923.5,1113.9 1923.9,1035.5 1924.2,1098.5 1924.6,1024.9 1925.0,1095.4 1925.3,1044.8 1925.7,1039.1 1926.0,1098.6 1926.4,1025.1 1926.7,1103.2 1927.1,1101.8 1927.4,1017.1 1927.8,1108.6 1928.1,1017.3 1928.5,1063.7 1928.9,1097.1 1929.3,1056.1 1929.6,1095.8 1930.0,1100.9 1930.4,1048.6 1930.8,1110.7 1931.1,1047.2 1931.5,1047.2 1931.9,1110.7 1932.3,1099.4 1932.6,1035.0 1933.0,1038.2 1933.3,1099.4 1933.7,1104.4 1934.1,1026.7 1934.5,1121.5 1934.8,1049.8 1935.2,1113.0 1935.5,1028.1 1935.9,1031.1 1936.3,1094.5 1936.6,1043.1 1937.0,1095.5 1937.3,1117.7 1937.7,1037.9 1938.1,1108.2 1938.4,1059.6 1938.8,1017.1 1939.1,1101.0 1939.5,1101.9 1939.8,1056.1 1940.2,1096.0 1940.5,1036.8 1940.9,1120.3 1941.2,1045.2 1941.6,1052.8 1941.9,1117.8 1942.3,1036.7 1942.7,1114.1 1943.1,1019.2 1943.4,1120.3 1943.8,1035.4 1944.2,1106.6 1944.6,1111.8 1944.9,1050.1 1945.3,1037.8 1945.7,1088.7 1946.0,1096.6 1946.4,1032.7 1946.8,1117.1 1947.1,1047.9 1947.5,1120.4 1947.9,1045.2 1948.2,1055.7 1948.6,1114.7 1949.0,1048.1 1949.3,1107.1 1949.7,1113.3 1950.0,1046.9 1950.4,1109.0 1950.7,1047.7 1951.1,1043.1 1951.5,1120.3 1951.8,1052.5 1952.2,1098.6 1952.5,1047.1 1952.9,1115.4 1953.2,1025.1 1953.6,1095.3 1953.9,1085.0 1954.3,1038.3 1954.7,1051.6 1955.0,1089.8 1955.4,1101.8 1955.7,1046.8 1956.1,1098.1 1956.5,1049.8 1956.9,1027.9 1957.2,1095.2 1957.6,1102.1 1958.0,1041.3 1958.4,1097.7 1958.7,1055.0 1959.1,1053.6 1959.4,1105.6 1959.8,1053.1 1960.2,1102.1 1960.5,1117.2 1960.9,1052.1 1961.3,1093.3 1961.6,1047.4 1962.0,1049.8 1962.3,1104.3 1962.7,1058.7 1963.0,1093.3 1963.4,1031.8 1963.8,1117.2 1964.1,1044.7 1964.5,1103.0 1964.8,1048.7 1965.2,1103.9 1965.5,1130.3 1965.9,1035.7 1966.2,1110.5 1966.6,1050.1 1966.9,1034.5 1967.3,1119.0 1967.7,1050.3 1968.0,1105.6 1968.4,1110.6 1968.8,1059.6 1969.2,1039.1 1969.5,1119.0 1969.9,1112.7 1970.2,1057.6 1970.6,1028.5 1971.0,1112.6 1971.4,1052.4 1971.7,1103.8 1972.1,1046.9 1972.4,1103.0 1972.8,1106.2 1973.2,1049.5 1973.5,1108.1 1973.9,1039.7 1974.2,1103.8 1974.6,1055.4 1975.0,1100.9 1975.3,1030.6 1975.7,1100.1 1976.0,1041.0 1976.4,1042.9 1976.7,1110.2 1977.1,1056.6 1977.4,1103.0 1977.8,1050.8 1978.1,1101.1 1978.5,1053.9 1978.8,1099.5 1979.2,1098.9 1979.6,1043.2 1980.0,1046.6 1980.3,1097.4 1980.7,1104.1 1981.0,1033.6 1981.4,1053.4 1981.8,1102.6 1982.1,1106.1 1982.5,1031.2 1982.9,1102.0 1983.2,1049.3 1983.6,1097.5 1983.9,1057.7 1984.3,1107.8 1984.7,1057.1 1985.0,1122.5 1985.4,1055.8 1985.7,1095.9 1986.1,1052.5 1986.5,1106.4 1986.8,1042.9 1987.2,1055.4 1987.5,1104.3 1987.9,1054.5 1988.2,1120.1 1988.6,1038.7 1988.9,1109.2 1989.3,1040.0 1989.6,1112.1 1990.0,1093.2 1990.4,1055.3 1990.7,1049.4 1991.1,1124.8 1991.5,1109.8 1991.8,1032.0 1992.2,1107.3 1992.6,1039.4 1992.9,1108.2 1993.3,1046.5 1993.7,1113.1 1994.0,1044.9 1994.4,1108.6 1994.7,1053.9 1995.1,1051.2 1995.4,1104.7 1995.8,1118.0 1996.2,1052.6 1996.5,1027.3 1996.9,1098.9 1997.2,1104.5 1997.6,1042.7 1997.9,1048.4 1998.3,1104.0 1998.6,1098.0 1999.0,1059.4 1999.3,1106.6 1999.7,1025.8 2000.1,1057.6 2000.4,1106.6 2000.8,1047.4 2001.1,1106.7 2001.5,1042.5 2001.9,1112.7 2002.3,1106.2 2002.6,1055.0 2003.0,1049.5 2003.3,1097.6 2003.7,1128.3 2004.0,1053.0 2004.4,1116.7 2004.8,1044.1 2005.1,1039.0 2005.5,1102.4 2005.8,1111.9 2006.2,1025.6 2006.6,1110.1 2006.9,1028.5 2007.3,1037.5 2007.6,1109.5 2008.0,1063.3 2008.3,1113.8 2008.7,1107.7 2009.0,1051.3 2009.4,1040.8 2009.8,1121.9 2010.1,1042.2 2010.5,1117.0 2010.9,1126.2 2011.2,1046.6 2011.6,1047.7 2011.9,1129.7 2012.3,1042.5 2012.7,1133.4 2013.0,1131.9 2013.4,1043.7 2013.7,1050.4 2014.1,1114.1 2014.5,1053.7 2014.8,1103.5 2015.2,1103.9 2015.5,1032.4 2015.9,1115.8 2016.2,1052.2 2016.6,1055.5 2016.9,1101.6 2017.3,1045.1 2017.6,1098.8 2018.0,1111.8 2018.3,1035.1 2018.7,1100.7 2019.1,1048.9 2019.5,1093.8 2019.8,1054.3 2020.2,1113.3 2020.5,1045.9 2020.9,1041.8 2021.3,1111.2 2021.6,1053.3 2022.0,1117.4 2022.3,1110.7 2022.7,1047.7 2023.1,1049.2 2023.4,1111.6 2023.8,1052.3 2024.1,1115.0 2024.5,1061.7 2024.8,1134.2 2025.2,1053.6 2025.5,1116.9 2025.9,1049.7 2026.2,1097.5 2026.6,1047.4 2026.9,1101.1 2027.3,1055.1 2027.7,1125.4 2028.1,1099.4 2028.4,1054.4 2028.8,1114.7 2029.1,1049.7 2029.5,1050.5 2029.9,1114.7 2030.2,1104.5 2030.6,1062.7 2030.9,1112.4 2031.3,1046.7 2031.7,1037.7 2032.0,1112.9 2032.4,1105.5 2032.7,1052.8 2033.1,1041.7 2033.4,1092.1 2033.8,1108.7 2034.1,1051.0 2034.5,1050.1 2034.8,1115.4 2035.2,1054.4 2035.5,1107.4 2035.9,1107.5 2036.3,1061.3 2036.6,1121.2 2037.0,1052.2 2037.4,1108.7 2037.7,1046.5 2038.1,1056.5 2038.4,1110.3 2038.8,1113.4 2039.2,1050.2 2039.5,1111.5 2039.9,1056.6 2040.2,1054.1 2040.6,1106.4 2040.9,1047.2 2041.3,1100.4 2041.6,1101.6 2042.0,1042.5 2042.3,1104.4 2042.7,1053.9 2043.1,1037.0 2043.4,1107.1 2043.8,1053.2 2044.1,1130.8 2044.5,1045.2 2044.9,1104.9 2045.2,1039.0 2045.6,1101.4 2045.9,1099.3 2046.3,1052.1 2046.7,1058.7 2047.0,1104.2 2047.4,1123.4 2047.7,1041.3 2048.1,1046.4 2048.4,1106.8 2048.8,1040.1 2049.1,1108.4 2049.5,1042.2 2049.9,1122.1 2050.2,1040.6 2050.6,1113.1 2050.9,1045.4 2051.3,1117.0 2051.6,1036.9 2052.0,1112.0 2052.4,1043.6 2052.7,1111.1 2053.1,1030.5 2053.4,1100.7 2053.8,1103.1 2054.1,1048.4 2054.5,1102.2 2054.9,1050.4 2055.2,1113.4 2055.6,1045.8 2055.9,1032.9 2056.3,1099.8 2056.6,1046.5 2057.0,1125.3 2057.3,1064.4 2057.7,1118.5 2058.0,1129.0 2058.4,1052.6 2058.8,1109.2 2059.1,1043.4 2059.5,1047.7 2059.8,1118.2 2060.2,1115.7 2060.6,1042.3 2060.9,1108.4 2061.3,1045.9 2061.6,1119.3 2062.0,1024.5 2062.4,1110.7 2062.7,1048.3 2063.1,1108.5 2063.4,1029.1 2063.8,1110.2 2064.1,1055.7 2064.5,1125.6 2064.8,1048.0 2065.2,1037.7 2065.5,1118.3 2065.9,1049.8 2066.3,1109.9 2066.6,1045.9 2067.0,1109.4 2067.3,1117.2 2067.7,1032.0 2068.1,1023.8 2068.4,1105.2 2068.8,1095.4 2069.1,1050.4 2069.5,1053.6 2069.8,1121.7 2070.2,1114.8 2070.5,1043.8 2070.9,1107.7 2071.2,1033.8 2071.6,1053.7 2072.0,1108.9 2072.3,1129.4 2072.7,1059.2 2073.0,1127.5 2073.4,1051.4 2073.7,1051.2 2074.1,1110.3 2074.5,1040.8 2074.8,1110.4 2075.2,1044.7 2075.5,1109.6 2075.9,1040.8 2076.2,1130.4 2076.6,1107.9 2076.9,1048.8 2077.3,1038.8 2077.7,1100.2 2078.0,1113.5 2078.4,1050.7 2078.7,1048.5 2079.1,1135.2 2079.4,1048.3 2079.8,1127.4 2080.2,1022.5 2080.5,1111.1 2080.9,1110.6 2081.2,1036.3 2081.6,1121.4 2081.9,1039.8 2082.3,1031.2 2082.6,1119.9 2083.0,1105.6 2083.4,1048.9 2083.7,1106.6 2084.1,1046.0 2084.4,1032.5 2084.8,1119.2 2085.1,1116.6 2085.5,1050.1 2085.8,1113.3 2086.2,1044.8 2086.6,1045.7 2086.9,1109.6 2087.3,1121.7 2087.6,1038.2 2088.0,1104.5 2088.3,1052.7 2088.7,1119.3 2089.0,1040.4 2089.4,1040.3 2089.8,1111.6 2090.1,1040.4 2090.5,1112.6 2090.8,1110.4 2091.2,1047.8 2091.5,1048.7 2091.9,1116.5 2092.3,1111.9 2092.6,1045.7 2093.0,1101.3 2093.3,1041.4 2093.7,1109.7 2094.0,1048.1 2094.4,1043.5 2094.7,1107.5 2095.1,1102.8 2095.5,1036.2 2095.8,1029.2 2096.2,1108.7 2096.5,1114.8 2096.9,1044.0 2097.2,1043.8 2097.6,1112.9 2097.9,1118.1 2098.3,1057.3 2098.7,1112.1 2099.0,1049.0 2099.4,1117.9 2099.7,1041.0 2100.1,1031.8 2100.4,1104.0 2100.8,1117.8 2101.1,1046.5 2101.5,1122.7 2101.8,1027.4 2102.2,1052.0 2102.5,1115.0 2102.9,1119.8 2103.2,1039.6 2103.6,1039.7 2104.0,1114.8 2104.3,1056.2 2104.7,1113.1 2105.0,1039.0 2105.4,1108.4 2105.8,1034.2 2106.1,1096.8 2106.5,1030.3 2106.8,1098.4 2107.2,1107.1 2107.5,1043.0 2107.9,1045.2 2108.2,1116.5 2108.6,1035.5 2108.9,1101.7 2109.3,1117.9 2109.6,1040.9 2110.0,1105.1 2110.4,1039.4 2110.7,1107.5 2111.1,1043.1 2111.4,1051.6 2111.8,1110.2 2112.1,1043.8 2112.5,1109.9 2112.9,1118.7 2113.2,1043.2 2113.6,1046.7 2113.9,1098.4 2114.3,1118.5 2114.6,1028.0 2115.0,1037.7 2115.3,1119.8 2115.7,1111.8 2116.0,1044.4 2116.4,1046.0 2116.8,1107.4 2117.1,1121.4 2117.5,1033.5 2117.8,1109.3 2118.2,1038.4 2118.5,1043.5 2118.9,1126.7 2119.2,1117.0 2119.6,1018.1 2119.9,1118.7 2120.3,1048.8 2120.7,1117.9 2121.0,1052.0 2121.4,1127.8 2121.7,1047.8 2122.1,1036.6 2122.4,1113.1 2122.8,1044.5 2123.1,1112.9 2123.5,1033.1 2123.8,1114.7 2124.2,1116.5 2124.5,1022.1 2124.9,1046.5 2125.3,1118.9 2125.6,1097.4 2126.0,1033.1 2126.3,1040.4 2126.7,1117.8 2127.0,1041.7 2127.4,1104.0 2127.8,1108.4 2128.1,1042.1 2128.5,1043.9 2128.8,1109.0 2129.2,1049.7 2129.5,1109.9 2129.9,1039.6 2130.2,1108.4 2130.6,1119.4 2130.9,1037.2 2131.3,1114.2 2131.7,1043.4 2132.0,1110.1 2132.4,1037.2 2132.7,1040.7 2133.1,1110.0 2133.4,1102.3 2133.8,1040.1 2134.1,1042.2 2134.5,1102.5 2134.8,1048.4 2135.2,1125.3 2135.6,1109.6 2135.9,1045.2 2136.3,1033.6 2136.6,1108.7 2137.0,1042.9 2137.3,1104.0 2137.7,1030.1 2138.0,1106.4 2138.4,1048.8 2138.7,1104.8 2139.1,1017.8 2139.4,1110.1 2139.8,1121.3 2140.2,1044.2 2140.5,1034.2 2140.9,1105.7 2141.2,1103.7 2141.6,1042.8 2141.9,1021.4 2142.3,1109.9 2142.6,1035.5 2143.0,1116.0 2143.4,1033.6 2143.7,1096.7 2144.1,1039.2 2144.4,1117.8 2144.8,1110.3 2145.1,1023.9 2145.5,1046.4 2145.8,1107.1 2146.2,1118.6 2146.6,1043.1 2146.9,1046.4 2147.3,1108.0 2147.6,1110.6 2148.0,1045.9 2148.3,1119.7 2148.7,1043.7 2149.0,1108.2 2149.4,1036.8 2149.7,1109.6 2150.1,1025.7 2150.4,1051.0 2150.8,1095.4 2151.2,1028.9 2151.5,1115.0 2151.9,1042.2 2152.2,1127.1 2152.6,1108.8 2152.9,1036.0 2153.3,1039.4 2153.6,1120.9 2154.0,1030.9 2154.3,1109.8 2154.7,1040.2 2155.0,1113.6 2155.4,1106.8 2155.8,1025.0 2156.1,1029.9 2156.5,1099.0 2156.8,1041.5 2157.2,1113.1 2157.5,1114.6 2157.9,1055.8 2158.2,1125.2 2158.6,1039.6 2158.9,1124.2 2159.3,1035.0 2159.7,1025.9 2160.0,1100.1 M1737.1,1036.4 L1737.6,880.0 L1738.1,1036.4 M1761.3,1059.0 L1761.8,789.5 L1762.3,1059.0 M1769.8,1063.4 L1770.3,815.0 L1770.8,1063.4 M1777.1,1066.5 L1777.6,990.0 L1778.1,1066.5 M1784.4,1066.4 L1784.9,672.8 L1785.4,1066.4 M1795.0,905.0 L1795.5,735.0 L1796.0,905.0 M1800.5,805.0 L1801.0,530.0 L1801.5,805.0 M1805.5,887.5 L1806.0,701.0 L1806.5,887.5 M1833.3,1071.6 L1833.8,816.5 L1834.3,1071.6 M1838.4,1072.8 L1838.9,996.0 L1839.4,1072.8 M1854.2,1075.4 L1854.7,952.4 L1855.2,1075.4 M2140.1,1075.4 L2140.6,1155.0 L2141.1,1075.4 M2066.5,1078.8 L2067.0,1141.0 L2067.5,1078.8"/>
<path stroke="#bf00bf" d="M395.9,779.4 526.1,789.8 602.3,699.8 656.3,645.5 698.2,624.3 732.5,574.5 761.4,471.9 786.5,375.6 808.6,383.3 828.4,372.7 846.3,331.0 862.6,305.5 877.7,304.8 891.6,318.2 904.5,321.4 916.7,416.4 928.1,457.3 938.8,473.8 948.9,513.8 958.6,534.2 967.7,528.4 976.5,532.2 984.8,576.2 992.8,573.1 1000.5,579.4 1007.9,604.2 1014.9,624.6 1021.8,685.9 1028.4,715.2 1034.7,669.3 1040.9,673.1 1046.8,713.9 1052.6,753.5 1058.2,744.5 1063.7,744.5 1069.0,752.2 1074.1,771.3 1079.1,761.1 1084.0,752.2 1088.8,745.8 1093.4,772.6 1097.9,770.1 1102.3,752.2 1106.7,747.1 1110.9,767.5 1115.0,775.2 1119.0,773.2 1123.0,771.3 1126.9,779.0 1130.7,785.4 1134.4,768.8 1138.0,767.5 1141.6,771.3 1145.1,773.9 1148.6,764.9 1152.0,763.7 1155.3,740.7 1158.5,756.0 1161.8,767.5 1164.9,775.2 1168.0,765.7 1171.1,756.5 1174.1,758.4 1177.0,769.0 1179.9,782.0 1182.8,768.2 1185.6,762.0 1188.4,755.5 1191.2,738.9 1193.9,719.5 1196.5,699.8 1199.2,698.6 1201.7,714.9 1204.3,726.4 1206.8,703.8 1209.3,694.0 1211.8,694.1 1214.2,691.6 1216.6,683.7 1218.9,686.6 1221.3,706.7 1223.6,724.8 1225.9,755.8 1228.1,782.7 1230.3,751.0 1232.5,721.6 1234.7,742.8 1236.8,756.7 1239.0,759.6 1241.1,756.9 1243.1,745.2 1245.2,767.0 1247.2,784.3 1249.2,811.8 1251.2,834.6 1253.2,828.8 1255.1,807.2 1257.1,786.9 1259.0,803.0 1260.8,824.4 1262.7,831.8 1264.6,822.6 1266.4,809.0 1268.2,811.1 1270.0,813.2 1271.8,817.5 1273.6,840.0 1275.3,850.2 1277.0,850.1 1278.7,852.9 1280.4,841.9 1282.1,840.8 1283.8,843.1 1285.5,817.5 1287.1,819.8 1288.7,817.7 1290.3,804.9 1291.9,792.0 1293.5,799.6 1295.1,823.6 1296.6,815.6 1298.2,830.7 1299.7,852.5 1301.2,857.9 1302.8,867.5 1304.3,852.4 1305.7,832.1 1307.2,806.0 1308.7,797.2 1310.1,817.0 1311.6,851.9 1313.0,841.9 1314.4,817.6 1315.8,810.3 1317.2,792.0 1318.6,777.8 1320.0,790.0 1321.3,809.4 1322.7,808.4 1324.0,797.8 1325.4,785.8 1326.7,762.3 1328.0,753.7 1329.3,726.1 1330.6,725.1 1331.9,719.4 1333.2,712.3 1334.5,696.4 1335.7,686.7 1337.0,671.5 1338.2,669.8 1339.5,641.4 1340.7,635.5 1341.9,635.3 1343.2,632.9 1344.4,661.4 1345.6,669.0 1346.8,694.9 1347.9,715.1 1349.1,736.4 1350.3,752.8 1351.5,757.7 1352.6,758.7 1353.8,758.9 1354.9,749.7 1356.0,746.4 1357.2,741.0 1358.3,728.6 1359.4,727.3 1360.5,714.6 1361.6,739.8 1362.7,747.2 1363.8,738.5 1364.9,714.1 1366.0,700.0 1367.0,734.9 1368.1,752.0 1369.1,782.5 1370.2,802.4 1371.2,814.2 1372.3,830.9 1373.3,839.5 1374.3,810.3 1375.4,797.1 1376.4,811.8 1377.4,825.8 1378.4,831.6 1379.4,828.3 1380.4,827.9 1381.4,800.9 1382.4,800.3 1383.4,797.0 1384.3,807.1 1385.3,804.8 1386.3,813.5 1387.2,834.3 1388.2,850.8 1389.1,821.7 1390.1,822.1 1391.0,797.6 1392.0,793.2 1392.9,780.4 1393.8,793.4 1394.7,802.5 1395.7,796.4 1396.6,836.2 1397.5,827.9 1398.4,837.6 1399.3,815.6 1400.2,782.4 1401.1,784.2 1402.0,749.9 1402.9,749.1 1403.7,737.0 1404.6,731.9 1405.5,750.2 1406.4,719.0 1407.2,738.2 1408.1,704.5 1408.9,701.6 1409.8,688.5 1410.6,693.8 1411.5,697.4 1412.3,662.4 1413.2,711.8 1414.0,716.8 1414.8,688.2 1415.6,677.4 1416.5,644.4 1417.3,628.2 1418.1,626.2 1418.9,616.0 1419.7,619.0 1420.5,613.0 1421.3,626.2 1422.1,627.7 1422.9,637.4 1423.7,640.3 1424.5,654.7 1425.3,655.8 1426.1,656.5 1426.8,690.5 1427.6,713.4 1428.4,695.3 1429.1,699.7 1429.9,697.3 1430.7,667.0 1431.4,685.9 1432.2,679.0 1432.9,662.2 1433.7,688.8 1434.4,687.4 1435.2,703.4 1435.9,708.1 1436.7,736.3 1437.4,731.9 1438.1,720.0 1438.9,739.0 1439.6,712.8 1440.3,719.9 1441.0,720.7 1441.7,719.2 1442.5,726.4 1443.2,755.3 1443.9,748.6 1444.6,759.6 1445.3,766.6 1446.0,766.0 1446.7,757.9 1447.4,721.8 1448.1,746.0 1448.8,773.2 1449.5,744.5 1450.2,690.1 1450.8,677.4 1451.5,703.1 1452.2,685.4 1452.9,740.2 1453.6,741.7 1454.2,705.3 1454.9,685.3 1455.6,712.9 1456.2,701.8 1456.9,701.3 1457.5,737.0 1458.2,714.0 1458.9,741.7 1459.5,704.6 1460.2,721.4 1460.8,719.6 1461.5,718.2 1462.1,740.2 1462.7,725.4 1463.4,708.8 1464.0,708.3 1464.7,712.0 1465.3,700.9 1465.9,713.2 1466.6,689.0 1467.2,686.2 1467.8,711.6 1468.4,699.7 1469.1,701.0 1469.7,714.8 1470.3,688.5 1470.9,684.9 1471.5,699.1 1472.1,697.9 1472.7,710.1 1473.3,726.0 1473.9,694.8 1474.5,674.6 1475.1,725.1 1475.7,726.9 1476.3,711.0 1476.9,740.4 1477.5,722.5 1478.1,711.0 1478.7,735.5 1479.3,729.3 1479.9,732.4 1480.5,727.9 1481.1,744.9 1481.6,742.9 1482.2,708.9 1482.8,753.8 1483.4,775.7 1483.9,730.6 1484.5,699.3 1485.1,766.8 1485.7,705.2 1486.2,709.6 1486.8,734.8 1487.3,752.3 1487.9,724.2 1488.5,734.4 1489.0,723.4 1489.6,709.8 1490.1,736.4 1490.7,727.7 1491.2,765.0 1491.8,758.3 1492.3,716.5 1492.9,752.7 1493.4,735.2 1494.0,766.9 1494.5,734.8 1495.1,742.4 1495.6,723.9 1496.1,740.7 1496.7,772.4 1497.2,734.2 1497.7,759.6 1498.3,731.6 1498.8,743.3 1499.3,723.8 1499.9,719.2 1500.4,726.8 1500.9,726.2 1501.4,736.8 1501.9,727.7 1502.5,729.1 1503.0,725.9 1503.5,754.0 1504.0,743.8 1504.5,750.1 1505.0,738.2 1505.6,740.0 1506.1,748.0 1506.6,759.8 1507.1,727.8 1507.6,744.1 1508.1,767.8 1508.6,775.9 1509.1,756.7 1509.6,752.9 1510.1,747.4 1510.6,770.3 1511.1,745.3 1511.6,747.7 1512.1,759.4 1512.6,750.1 1513.1,766.6 1513.5,784.2 1514.0,797.7 1514.5,783.8 1515.0,756.3 1515.5,761.1 1516.0,737.9 1516.5,747.9 1516.9,759.4 1517.4,759.7 1517.9,775.7 1518.4,766.0 1518.8,771.1 1519.3,740.1 1519.8,753.1 1520.3,755.2 1520.7,747.0 1521.2,741.9 1521.7,765.4 1522.1,769.0 1522.6,750.6 1523.1,754.5 1523.5,767.2 1524.0,778.8 1524.5,726.3 1524.9,759.6 1525.4,706.1 1525.8,772.1 1526.3,753.6 1526.8,757.4 1527.2,752.3 1527.7,764.8 1528.1,755.5 1528.6,748.7 1529.0,796.3 1529.5,749.2 1529.9,749.6 1530.4,738.3 1530.8,778.3 1531.3,743.1 1531.7,743.8 1532.2,765.3 1532.6,752.6 1533.0,755.1 1533.5,760.6 1533.9,756.3 1534.4,775.9 1534.8,770.1 1535.2,750.8 1535.7,740.8 1536.1,775.9 1536.5,766.6 1537.0,769.6 1537.4,756.5 1537.8,768.1 1538.3,777.8 1538.7,773.2 1539.1,760.7 1539.5,766.4 1540.0,784.2 1540.4,753.7 1540.8,767.2 1541.2,785.3 1541.7,773.8 1542.1,805.0 1542.5,770.4 1542.9,750.8 1543.3,737.5 1543.8,740.5 1544.2,732.5 1544.6,778.9 1545.0,736.7 1545.4,751.2 1545.8,738.5 1546.2,719.2 1546.6,758.9 1547.1,745.0 1547.5,735.1 1547.9,716.1 1548.3,693.2 1548.7,730.3 1549.1,758.7 1549.5,708.4 1549.9,713.6 1550.3,725.7 1550.7,756.2 1551.1,743.4 1551.5,708.9 1551.9,759.7 1552.3,765.5 1552.7,740.5 1553.1,735.7 1553.5,742.3 1553.9,766.3 1554.3,737.5 1554.7,741.9 1555.1,744.0 1555.5,739.6 1555.8,759.3 1556.2,717.1 1556.6,751.5 1557.0,745.3 1557.4,746.4 1557.8,759.4 1558.2,745.2 1558.6,737.8 1558.9,754.3 1559.3,741.9 1559.7,762.4 1560.1,769.1 1560.5,765.8 1560.9,709.6 1561.2,755.7 1561.6,748.1 1562.0,724.4 1562.4,739.7 1562.7,738.8 1563.1,710.7 1563.5,731.3 1563.9,755.5 1564.2,720.1 1564.6,707.3 1565.0,735.0 1565.4,750.8 1565.7,761.7 1566.1,719.2 1566.5,724.0 1566.8,770.5 1567.2,763.8 1567.6,746.6 1567.9,767.9 1568.3,711.4 1568.7,746.0 1569.0,728.5 1569.4,766.8 1569.8,734.8 1570.1,733.3 1570.5,722.0 1570.8,748.7 1571.2,709.8 1571.6,748.8 1571.9,720.3 1572.3,730.4 1572.6,745.0 1573.0,734.5 1573.4,741.5 1573.7,743.5 1574.1,739.3 1574.4,710.4 1574.8,738.9 1575.1,728.8 1575.5,741.7 1575.8,734.0 1576.2,737.0 1576.5,726.7 1577.2,704.4 1577.6,741.0 1578.3,750.4 1578.6,729.7 1579.3,745.2 1579.7,764.1 1580.3,781.8 1580.7,748.8 1581.4,764.3 1581.7,783.5 1582.4,755.0 1582.7,735.3 1583.4,782.4 1583.7,746.3 1584.4,746.1 1584.8,777.6 1585.4,750.6 1585.8,764.3 1586.4,724.3 1586.8,781.2 1587.4,758.5 1587.8,746.7 1588.4,724.6 1588.7,754.2 1589.4,736.8 1589.7,771.7 1590.3,739.2 1590.7,685.8 1591.3,713.9 1591.7,753.1 1592.3,725.5 1592.6,756.6 1593.2,721.9 1593.6,729.4 1594.2,742.6 1594.6,717.2 1595.2,726.6 1595.5,738.5 1596.1,732.0 1596.5,765.5 1597.1,713.8 1597.4,759.8 1598.0,717.2 1598.3,766.6 1598.9,768.5 1599.3,721.7 1599.9,743.5 1600.2,769.7 1600.8,698.4 1601.1,743.4 1601.7,745.8 1602.0,776.0 1602.6,767.0 1603.0,735.5 1603.5,785.2 1603.9,740.2 1604.4,752.1 1604.8,743.8 1605.3,789.4 1605.7,773.3 1606.2,750.0 1606.6,758.7 1607.1,794.7 1607.5,773.9 1608.0,757.4 1608.4,722.6 1608.9,751.9 1609.2,742.1 1609.8,769.4 1610.1,734.6 1610.7,799.8 1611.0,736.0 1611.5,759.1 1611.9,738.9 1612.4,787.0 1612.7,742.6 1613.3,717.9 1613.6,751.1 1614.1,751.5 1614.5,736.8 1615.0,709.5 1615.3,744.5 1615.8,719.8 1616.2,708.7 1616.7,746.2 1617.0,721.8 1617.5,728.4 1617.9,742.6 1618.4,705.0 1618.7,745.3 1619.2,723.2 1619.6,711.9 1620.0,698.2 1620.4,716.0 1620.9,743.3 1621.2,693.0 1621.7,730.3 1622.0,710.4 1622.5,709.5 1622.9,678.5 1623.3,688.9 1623.7,687.4 1624.2,690.2 1624.5,724.4 1625.0,692.9 1625.3,704.7 1625.8,722.0 1626.1,707.6 1626.6,699.7 1626.9,680.1 1627.4,685.8 1627.7,677.2 1628.2,641.3 1628.5,689.0 1629.0,665.1 1629.3,643.9 1629.8,666.1 1630.1,639.2 1630.6,658.9 1630.9,666.7 1631.3,660.6 1631.7,643.0 1632.1,639.9 1632.5,663.0 1632.9,633.8 1633.3,625.4 1633.7,627.6 1634.0,651.0 1634.5,662.3 1634.8,622.0 1635.2,647.1 1635.6,591.7 1636.0,589.8 1636.3,651.3 1636.8,632.3 1637.1,601.8 1637.5,590.8 1637.9,637.2 1638.3,640.3 1638.6,591.1 1639.0,564.4 1639.4,649.9 1639.8,534.3 1640.1,622.6 1640.5,603.0 1640.9,614.4 1641.3,607.0 1641.6,543.7 1642.0,566.3 1642.4,581.6 1642.7,585.0 1643.1,450.9 1643.5,529.0 1643.8,608.9 1644.2,616.2 1644.6,558.4 1644.9,484.3 1645.3,576.8 1645.7,529.2 1646.0,591.6 1646.4,612.2 1646.7,572.0 1647.1,550.6 1647.5,617.1 1647.8,585.8 1648.2,514.2 1648.6,608.7 1648.9,541.4 1649.3,569.6 1649.6,539.6 1650.0,555.5 1650.3,565.1 1650.7,568.6 1651.0,606.1 1651.4,568.7 1651.7,518.5 1652.1,577.0 1652.4,611.8 1652.8,593.2 1653.1,633.1 1653.7,571.1 1654.1,628.4 1654.7,610.0 1655.0,655.4 1655.6,641.3 1655.9,617.1 1656.5,673.7 1656.8,598.4 1657.4,658.7 1657.8,558.6 1658.3,639.7 1658.7,553.6 1659.2,665.1 1659.6,586.8 1660.1,680.7 1660.5,662.1 1661.0,699.1 1661.4,753.5 1661.9,761.2 1662.2,655.2 1662.8,764.7 1663.1,753.0 1663.7,710.5 1664.0,750.9 1664.5,732.6 1664.9,791.3 1665.4,750.9 1665.8,769.2 1666.3,786.8 1666.6,711.8 1667.1,770.1 1667.5,758.1 1668.0,727.8 1668.4,766.6 1668.9,770.9 1669.2,794.7 1669.7,802.4 1670.1,763.7 1670.6,759.7 1670.9,797.0 1671.4,795.1 1671.8,762.5 1672.3,810.2 1672.6,746.4 1673.1,775.6 1673.4,839.6 1673.9,836.1 1674.3,796.5 1674.8,800.3 1675.1,841.1 1675.6,795.5 1675.9,845.4 1676.4,807.2 1676.8,852.2 1677.2,825.6 1677.6,848.0 1678.1,859.0 1678.4,808.5 1678.9,863.6 1679.2,766.2 1679.7,867.7 1680.0,790.8 1680.5,837.5 1680.8,909.6 1681.3,865.3 1681.6,778.8 1682.1,829.3 1682.4,860.6 1682.9,866.4 1683.2,907.0 1683.7,814.7 1684.0,897.1 1684.5,832.0 1684.8,917.3 1685.2,914.3 1685.6,811.3 1686.0,805.5 1686.4,915.3 1686.8,824.4 1687.2,890.4 1687.6,829.6 1687.9,874.6 1688.4,930.1 1688.7,859.7 1689.1,861.8 1689.5,792.9 1689.9,894.5 1690.2,804.5 1690.7,927.4 1691.0,864.2 1691.4,836.8 1691.8,951.9 1692.2,836.0 1692.5,967.6 1692.9,887.4 1693.3,858.6 1693.7,879.6 1694.0,926.0 1694.4,917.2 1694.8,862.0 1695.2,766.2 1695.5,970.0 1695.9,878.2 1696.3,966.7 1696.7,942.4 1697.0,906.5 1697.4,804.1 1697.7,863.3 1698.1,785.7 1698.5,879.2 1698.9,925.9 1699.2,877.2 1699.6,789.4 1699.9,911.1 1700.3,925.9 1700.7,875.6 1701.0,845.8 1701.4,972.0 1701.7,997.7 1702.1,782.4 1702.5,933.4 1702.8,864.0 1703.2,776.6 1703.5,877.9 1703.9,874.6 1704.2,940.9 1704.6,972.1 1705.0,865.3 1705.3,826.0 1705.7,933.9 1706.0,804.1 1706.4,938.8 1706.7,987.9 1707.1,808.4 1707.6,838.5 1707.9,887.2 1708.5,846.7 1708.8,919.5 1709.3,791.5 1709.7,909.6 1710.2,817.3 1710.5,911.1 1711.0,775.9 1711.4,956.1 1711.9,980.9 1712.2,733.7 1712.7,967.1 1713.1,838.1 1713.6,799.8 1713.9,977.3 1714.4,950.1 1714.8,836.8 1715.3,801.7 1715.6,920.0 1716.1,804.7 1716.4,1010.4 1716.9,909.6 1717.3,886.6 1717.7,843.9 1718.1,933.2 1718.6,890.0 1718.9,996.8 1719.4,981.2 1719.7,901.8 1720.2,950.4 1720.6,894.6 1721.0,992.9 1721.4,922.9 1721.8,946.0 1722.2,1020.9 1722.6,932.2 1723.0,994.5 1723.4,1002.5 1723.8,969.7 1724.2,951.0 1724.6,1005.7 1725.0,1005.6 1725.4,960.0 1725.8,990.9 1726.2,970.8 1726.6,1010.7 1727.0,970.6 1727.4,1003.0 1727.7,967.3 1728.2,1021.0 1728.5,966.7 1728.9,982.1 1729.3,1028.9 1729.7,980.0 1730.1,1014.7 1730.5,981.1 1730.8,1009.3 1731.3,974.5 1731.6,1027.3 1732.0,1005.6 1732.4,1042.4 1732.8,1026.6 1733.1,1007.2 1733.6,1028.0 1733.9,1002.3 1734.3,1034.9 1734.7,999.2 1735.1,1007.0 1735.4,1038.1 1735.8,987.8 1736.2,1042.8 1736.6,983.1 1736.9,1044.9 1737.3,1039.2 1737.7,1006.9 1738.0,1020.6 1738.4,1047.1 1738.8,1052.6 1739.1,1027.8 1739.5,1013.9 1739.9,1046.3 1740.3,1044.8 1740.6,1023.1 1741.0,1023.0 1741.3,1063.8 1741.7,1036.1 1742.1,1079.7 1742.4,1031.5 1742.8,1045.4 1743.2,1014.3 1743.5,1058.7 1743.9,1037.6 1744.2,1062.4 1744.6,1077.8 1744.9,1031.9 1745.3,1065.2 1745.7,1041.4 1746.0,1037.4 1746.4,1078.4 1746.7,1064.0 1747.1,1021.6 1747.4,1027.8 1747.8,1074.1 1748.1,1036.0 1748.5,1069.8 1748.8,1008.4 1749.2,1048.9 1749.7,1070.5 1750.0,1024.1 1750.5,1068.4 1750.8,1016.5 1751.3,1067.3 1751.7,1029.7 1752.2,1076.0 1752.5,1043.6 1753.0,1068.4 1753.3,1024.6 1753.8,1027.3 1754.1,1061.1 1754.6,1047.4 1755.0,1030.1 1755.4,1068.8 1755.8,1034.5 1756.2,1040.3 1756.6,1071.1 1757.0,1094.7 1757.4,1046.4 1757.8,1055.7 1758.2,1026.1 1758.6,1051.2 1759.0,1035.1 1759.4,1074.1 1759.8,1050.3 1760.2,1039.6 1760.6,1084.5 1761.0,1021.7 1761.4,1088.0 1761.8,1022.7 1762.1,1070.7 1762.6,1089.4 1762.9,1055.5 1763.3,1073.8 1763.7,1022.3 1764.1,1056.6 1764.5,1021.4 1764.9,1028.9 1765.2,1058.5 1765.7,1053.9 1766.0,1037.4 1766.4,1054.2 1766.8,1078.1 1767.2,1073.6 1767.5,1032.9 1767.9,1097.1 1768.3,1034.9 1768.7,1016.5 1769.1,1075.9 1769.5,1029.8 1769.8,1091.9 1770.2,1082.2 1770.6,1024.0 1771.0,1037.6 1771.3,1097.1 1771.7,1065.5 1772.0,1040.0 1772.4,1084.3 1772.8,1034.5 1773.2,1035.5 1773.5,1072.5 1773.9,1054.5 1774.3,1037.4 1774.6,1067.1 1775.0,1030.4 1775.4,1035.8 1775.7,1097.9 1776.1,1041.2 1776.4,1088.7 1776.8,1085.3 1777.2,1027.2 1777.5,1043.1 1777.9,1077.9 1778.3,1103.3 1778.6,1023.2 1779.0,1035.1 1779.3,1084.9 1779.7,1031.3 1780.0,1083.7 1780.4,1096.4 1780.7,1019.0 1781.1,1085.8 1781.5,1033.2 1781.8,1055.3 1782.2,1072.6 1782.5,1100.1 1782.9,1052.2 1783.3,1100.1 1783.7,1033.5 1784.1,1052.2 1784.5,1082.4 1784.9,1094.0 1785.3,1039.9 1785.8,1087.6 1786.1,1035.8 1786.6,1080.9 1786.9,1052.5 1787.4,1101.0 1787.7,1057.1 1788.2,1100.5 1788.5,1039.3 1788.9,1036.0 1789.3,1083.0 1789.7,1055.0 1790.1,1077.6 1790.5,1092.9 1790.9,1040.8 1791.3,1025.0 1791.6,1081.6 1792.1,1093.6 1792.4,1024.5 1792.9,1091.8 1793.2,1040.4 1793.6,1035.6 1794.0,1085.1 1794.4,1029.8 1794.7,1076.6 1795.2,1033.0 1795.5,1088.6 1795.9,1035.6 1796.3,1080.9 1796.7,1079.2 1797.0,1010.8 1797.4,1096.0 1797.8,1062.6 1798.2,1048.6 1798.5,1087.1 1798.9,1089.6 1799.3,1055.9 1799.7,1047.6 1800.0,1088.7 1800.4,1072.8 1800.8,1026.8 1801.2,1087.3 1801.5,1037.3 1801.9,1082.3 1802.3,1045.2 1802.7,1075.9 1803.0,1055.3 1803.4,1032.7 1803.7,1094.8 1804.1,1073.4 1804.5,1028.2 1804.8,1085.2 1805.2,1038.9 1805.6,1086.2 1805.9,1027.8 1806.3,1085.8 1806.6,1050.5 1807.0,1099.5 1807.4,1026.8 1807.7,1035.5 1808.1,1099.6 1808.4,1042.3 1808.8,1105.2 1809.1,1083.3 1809.5,1025.2 1809.9,1026.3 1810.2,1067.0 1810.6,1070.1 1810.9,1017.6 1811.3,1048.6 1811.6,1072.3 1812.0,1031.9 1812.3,1067.1 1812.8,1088.8 1813.1,1026.7 1813.6,1096.5 1813.9,1041.8 1814.3,1043.6 1814.7,1083.4 1815.1,1116.9 1815.5,1043.5 1815.9,1032.8 1816.3,1094.3 1816.7,1029.6 1817.0,1084.0 1817.5,1046.2 1817.8,1086.7 1818.2,1113.2 1818.6,1038.5 1819.0,1060.0 1819.4,1107.2 1819.8,1041.3 1820.1,1090.9 1820.6,1035.8 1820.9,1086.6 1821.3,1030.2 1821.7,1076.0 1822.1,1025.8 1822.4,1094.2 1822.8,1042.0 1823.2,1094.4 1823.6,1089.8 1823.9,1059.3 1824.3,1084.0 1824.7,1042.9 1825.1,1039.9 1825.4,1098.9 1825.8,1099.8 1826.2,1038.3 1826.6,1090.3 1826.9,1041.4 1827.3,1097.6 1827.6,1043.6 1828.0,1087.8 1828.4,1039.1 1828.8,1083.6 1829.1,1017.1 1829.5,1044.3 1829.8,1101.2 1830.2,1039.8 1830.6,1094.0 1830.9,1052.7 1831.3,1082.9 1831.7,1043.6 1832.0,1084.6 1832.4,1071.7 1832.7,1037.0 1833.1,1042.3 1833.4,1090.3 1833.8,1023.6 1834.2,1084.1 1834.5,1053.1 1834.9,1092.4 1835.2,1077.2 1835.6,1043.1 1835.9,1091.9 1836.3,1056.0 1836.6,1121.2 1837.0,1023.2 1837.4,1099.1 1837.8,1027.2 1838.2,1105.1 1838.5,1031.7 1839.0,1047.1 1839.3,1091.1 1839.8,1035.8 1840.1,1112.2 1840.5,1041.9 1840.9,1112.7 1841.3,1030.2 1841.7,1091.4 1842.1,1039.1 1842.4,1076.2 1842.8,1053.7 1843.2,1090.7 1843.6,1106.2 1843.9,1035.4 1844.3,1080.9 1844.7,1031.3 1845.1,1095.8 1845.5,1030.2 1845.9,1098.3 1846.2,1037.1 1846.6,1031.0 1847.0,1083.4 1847.4,1101.5 1847.7,1043.3 1848.1,1042.4 1848.4,1103.3 1848.8,1088.4 1849.2,1040.3 1849.6,1024.5 1849.9,1092.0 1850.3,1085.7 1850.7,1052.0 1851.0,1038.5 1851.4,1087.4 1851.8,1080.2 1852.1,1034.8 1852.5,1046.9 1852.8,1092.8 1853.2,1020.6 1853.6,1090.5 1853.9,1036.6 1854.3,1079.7 1854.7,1097.3 1855.0,1023.4 1855.4,1044.0 1855.7,1106.9 1856.1,1097.8 1856.4,1027.3 1856.8,1021.3 1857.1,1094.3 1857.5,1097.3 1857.8,1024.9 1858.2,1044.5 1858.5,1105.9 1858.9,1041.0 1859.2,1095.0 1859.7,1046.9 1860.0,1083.6 1860.4,1085.2 1860.8,1049.1 1861.2,1031.8 1861.6,1077.5 1862.0,1027.7 1862.3,1091.7 1862.7,1082.1 1863.1,1016.3 1863.5,1047.2 1863.9,1092.2 1864.3,1031.2 1864.6,1079.0 1865.0,1102.4 1865.4,1042.6 1865.8,1060.9 1866.1,1095.4 1866.5,1032.2 1866.9,1082.7 1867.3,1042.3 1867.6,1109.2 1868.0,1029.6 1868.4,1109.2 1868.7,1044.4 1869.1,1101.6 1869.5,1085.9 1869.8,1043.8 1870.2,1087.4 1870.6,1025.6 1870.9,1087.2 1871.3,1057.1 1871.7,1101.5 1872.0,1029.1 1872.4,1045.3 1872.7,1083.5 1873.1,1053.9 1873.5,1089.3 1873.8,1045.0 1874.2,1097.0 1874.6,1046.6 1874.9,1092.4 1875.3,1110.6 1875.6,1041.9 1876.0,1109.4 1876.3,1056.1 1876.7,1105.6 1877.0,1048.6 1877.4,1032.6 1877.7,1085.5 1878.1,1049.6 1878.5,1082.6 1878.8,1108.1 1879.2,1047.1 1879.6,1111.6 1879.9,1037.7 1880.3,1085.8 1880.7,1039.6 1881.1,1048.0 1881.4,1084.0 1881.9,1033.5 1882.2,1087.5 1882.6,1029.3 1883.0,1097.9 1883.4,1080.9 1883.7,1050.2 1884.1,1082.9 1884.5,1033.0 1884.9,1097.6 1885.2,1035.3 1885.6,1082.7 1886.0,1029.1 1886.3,1059.3 1886.7,1090.2 1887.1,1102.5 1887.4,1043.2 1887.8,1029.5 1888.2,1103.6 1888.5,1030.8 1888.9,1092.1 1889.3,1101.0 1889.6,1011.3 1890.0,1100.0 1890.4,1053.5 1890.7,1037.1 1891.1,1105.5 1891.4,1046.5 1891.8,1092.9 1892.2,1103.8 1892.5,1040.9 1892.9,1028.2 1893.2,1086.0 1893.6,1045.0 1893.9,1099.7 1894.3,1084.5 1894.7,1048.0 1895.0,1042.0 1895.4,1090.8 1895.7,1094.3 1896.1,1045.4 1896.4,1039.8 1896.8,1094.3 1897.2,1044.1 1897.5,1100.8 1897.9,1089.0 1898.3,1034.8 1898.7,1033.1 1899.0,1095.4 1899.4,1084.2 1899.8,1016.1 1900.2,1089.0 1900.5,1042.8 1900.9,1093.0 1901.3,1035.3 1901.7,1044.8 1902.0,1082.4 1902.4,1107.3 1902.8,1015.8 1903.2,1049.7 1903.5,1092.8 1903.9,1031.1 1904.3,1105.7 1904.6,1045.0 1905.0,1099.0 1905.4,1036.4 1905.7,1099.1 1906.1,1040.5 1906.4,1105.0 1906.8,1040.2 1907.2,1103.4 1907.5,1040.9 1907.9,1081.7 1908.3,1057.2 1908.6,1097.6 1909.0,1086.0 1909.3,1030.3 1909.7,1024.9 1910.0,1096.0 1910.4,1041.7 1910.8,1079.2 1911.1,1051.2 1911.5,1095.1 1911.8,1035.6 1912.2,1097.6 1912.5,1090.3 1912.9,1038.4 1913.2,1106.9 1913.6,1057.0 1914.0,1095.2 1914.3,1042.9 1914.7,1096.6 1915.1,1042.7 1915.5,1101.8 1915.8,1060.0 1916.2,1094.8 1916.6,1032.0 1917.0,1118.1 1917.3,1047.1 1917.7,1101.1 1918.1,1018.4 1918.4,1040.0 1918.8,1085.8 1919.2,1043.7 1919.5,1101.9 1919.9,1020.8 1920.3,1101.6 1920.6,1091.9 1921.0,1034.5 1921.4,1035.2 1921.7,1091.5 1922.1,1094.9 1922.4,1045.2 1922.8,1106.9 1923.2,1035.5 1923.5,1039.7 1923.9,1094.4 1924.2,1083.5 1924.6,1046.7 1925.0,1094.7 1925.3,1033.3 1925.7,1052.4 1926.0,1093.0 1926.4,1093.7 1926.7,1045.6 1927.1,1041.2 1927.4,1086.5 1927.8,1107.1 1928.1,1022.4 1928.5,1051.2 1928.9,1095.1 1929.3,1106.2 1929.6,1039.0 1930.0,1040.1 1930.4,1088.7 1930.8,1079.0 1931.1,1037.3 1931.5,1100.5 1931.9,1036.7 1932.3,1050.4 1932.6,1117.5 1933.0,1100.4 1933.3,1020.6 1933.7,1038.9 1934.1,1081.2 1934.5,1038.0 1934.8,1095.5 1935.2,1046.0 1935.5,1096.9 1935.9,1018.7 1936.3,1097.9 1936.6,1014.8 1937.0,1070.8 1937.3,1033.8 1937.7,1100.1 1938.1,1114.2 1938.4,1038.0 1938.8,1046.5 1939.1,1098.3 1939.5,1021.7 1939.8,1088.1 1940.2,1028.1 1940.5,1080.6 1940.9,1108.1 1941.2,1044.3 1941.6,1093.0 1941.9,1035.6 1942.3,1110.9 1942.7,1027.2 1943.1,1032.5 1943.4,1116.0 1943.8,1085.0 1944.2,1041.9 1944.6,1024.5 1944.9,1092.5 1945.3,1035.0 1945.7,1108.5 1946.0,1091.3 1946.4,1025.1 1946.8,1093.2 1947.1,1036.6 1947.5,1091.9 1947.9,1040.1 1948.2,1045.1 1948.6,1104.3 1949.0,1090.1 1949.3,1016.3 1949.7,1038.9 1950.0,1094.0 1950.4,1039.1 1950.7,1112.8 1951.1,1010.8 1951.5,1098.8 1951.8,1039.9 1952.2,1093.7 1952.5,1122.2 1952.9,1036.3 1953.2,1089.7 1953.6,1036.7 1953.9,1050.2 1954.3,1111.1 1954.7,1033.3 1955.0,1102.6 1955.4,1114.1 1955.7,1037.0 1956.1,1095.4 1956.5,1036.1 1956.9,1038.1 1957.2,1113.4 1957.6,1103.7 1958.0,1045.7 1958.4,1033.1 1958.7,1079.5 1959.1,1047.5 1959.4,1087.9 1959.8,1043.1 1960.2,1087.1 1960.5,1046.9 1960.9,1099.1 1961.3,1046.7 1961.6,1080.6 1962.0,1041.3 1962.3,1102.2 1962.7,1051.1 1963.0,1095.8 1963.4,1037.8 1963.8,1093.6 1964.1,1082.3 1964.5,1046.1 1964.8,1049.9 1965.2,1096.3 1965.5,1048.4 1965.9,1097.5 1966.2,1105.2 1966.6,1050.0 1966.9,1083.9 1967.3,1038.2 1967.7,1095.3 1968.0,1038.9 1968.4,1094.5 1968.8,1033.7 1969.2,1038.1 1969.5,1104.5 1969.9,1051.0 1970.2,1091.5 1970.6,1038.2 1971.0,1097.1 1971.4,1115.8 1971.7,1040.6 1972.1,1054.0 1972.4,1108.9 1972.8,1037.4 1973.2,1107.7 1973.5,1044.6 1973.9,1097.8 1974.2,1097.1 1974.6,1030.5 1975.0,1091.3 1975.3,1039.9 1975.7,1040.6 1976.0,1113.5 1976.4,1045.7 1976.7,1090.8 1977.1,1026.9 1977.4,1088.3 1977.8,1037.2 1978.1,1103.6 1978.5,1096.8 1978.8,1048.1 1979.2,1029.9 1979.6,1093.1 1980.0,1036.7 1980.3,1103.1 1980.7,1089.6 1981.0,1040.0 1981.4,1051.9 1981.8,1081.2 1982.1,1104.5 1982.5,1034.4 1982.9,1067.7 1983.2,1092.5 1983.6,1043.0 1983.9,1099.9 1984.3,1094.7 1984.7,1032.0 1985.0,1015.2 1985.4,1101.5 1985.7,1051.8 1986.1,1107.6 1986.5,1092.8 1986.8,1033.2 1987.2,1049.1 1987.5,1099.1 1987.9,1091.8 1988.2,1045.5 1988.6,1092.9 1988.9,1044.3 1989.3,1045.6 1989.6,1106.6 1990.0,1033.7 1990.4,1098.9 1990.7,1102.2 1991.1,1041.3 1991.5,1041.7 1991.8,1104.5 1992.2,1053.1 1992.6,1097.4 1992.9,1102.8 1993.3,1048.3 1993.7,1033.3 1994.0,1102.7 1994.4,1103.8 1994.7,1032.7 1995.1,1046.5 1995.4,1104.1 1995.8,1018.4 1996.2,1100.9 1996.5,1031.5 1996.9,1105.2 1997.2,1030.2 1997.6,1098.2 1997.9,1041.5 1998.3,1102.6 1998.6,1030.3 1999.0,1087.8 1999.3,1108.9 1999.7,1018.9 2000.1,1106.0 2000.4,1029.4 2000.8,1097.2 2001.1,1048.9 2001.5,1041.6 2001.9,1102.5 2002.3,1047.9 2002.6,1090.6 2003.0,1087.0 2003.3,1052.9 2003.7,1093.9 2004.0,1035.1 2004.4,1036.2 2004.8,1102.8 2005.1,1094.3 2005.5,1040.9 2005.8,1043.7 2006.2,1113.2 2006.6,1031.1 2006.9,1100.1 2007.3,1103.8 2007.6,1047.9 2008.0,1030.9 2008.3,1107.7 2008.7,1035.2 2009.0,1094.0 2009.4,1115.4 2009.8,1047.3 2010.1,1111.3 2010.5,1041.6 2010.9,1107.2 2011.2,1052.7 2011.6,1048.6 2011.9,1103.7 2012.3,1106.6 2012.7,1040.0 2013.0,1049.1 2013.4,1114.4 2013.7,1104.5 2014.1,1048.8 2014.5,1105.3 2014.8,1046.4 2015.2,1031.0 2015.5,1100.5 2015.9,1039.0 2016.2,1101.8 2016.6,1043.9 2016.9,1098.0 2017.3,1043.3 2017.6,1108.5 2018.0,1028.7 2018.3,1102.9 2018.7,1101.2 2019.1,1018.8 2019.5,1054.3 2019.8,1104.1 2020.2,1097.0 2020.5,1037.0 2020.9,1101.2 2021.3,1043.7 2021.6,1117.0 2022.0,1023.8 2022.3,1031.4 2022.7,1105.2 2023.1,1052.6 2023.4,1106.6 2023.8,1040.2 2024.1,1109.8 2024.5,1122.6 2024.8,1027.9 2025.2,1042.7 2025.5,1100.2 2025.9,1056.0 2026.2,1094.9 2026.6,1089.3 2026.9,1027.0 2027.3,1102.2 2027.7,1017.1 2028.1,1045.7 2028.4,1096.7 2028.8,1047.8 2029.1,1098.0 2029.5,1049.5 2029.9,1104.7 2030.2,1048.8 2030.6,1090.6 2030.9,1038.6 2031.3,1101.1 2031.7,1112.3 2032.0,1047.5 2032.4,1101.5 2032.7,1048.9 2033.1,1106.2 2033.4,1046.3 2033.8,1042.5 2034.1,1105.3 2034.5,1046.8 2034.8,1101.3 2035.2,1038.5 2035.5,1091.8 2035.9,1019.9 2036.3,1108.5 2036.6,1044.4 2037.0,1103.5 2037.4,1115.9 2037.7,1051.1 2038.1,1115.4 2038.4,1025.6 2038.8,1112.6 2039.2,1033.5 2039.5,1038.8 2039.9,1102.0 2040.2,1038.7 2040.6,1087.5 2040.9,1048.2 2041.3,1099.1 2041.6,1059.6 2042.0,1119.1 2042.3,1019.4 2042.7,1100.0 2043.1,1043.8 2043.4,1098.5 2043.8,1038.0 2044.1,1100.4 2044.5,1041.8 2044.9,1111.9 2045.2,1103.3 2045.6,1031.7 2045.9,1104.1 2046.3,1032.1 2046.7,1040.2 2047.0,1113.3 2047.4,1047.7 2047.7,1110.2 2048.1,1040.5 2048.4,1127.8 2048.8,1104.1 2049.1,1031.9 2049.5,1051.2 2049.9,1101.3 2050.2,1039.7 2050.6,1117.0 2050.9,1104.5 2051.3,1041.1 2051.6,1096.7 2052.0,1044.6 2052.4,1093.1 2052.7,1044.3 2053.1,1046.5 2053.4,1101.4 2053.8,1038.7 2054.1,1120.9 2054.5,1040.6 2054.9,1095.0 2055.2,1034.9 2055.6,1089.3 2055.9,1093.0 2056.3,1035.2 2056.6,1127.8 2057.0,1043.3 2057.3,1105.6 2057.7,1038.9 2058.0,1096.1 2058.4,1048.2 2058.8,1103.8 2059.1,1021.1 2059.5,1046.4 2059.8,1110.2 2060.2,1108.2 2060.6,1033.7 2060.9,1031.4 2061.3,1097.8 2061.6,1113.7 2062.0,1031.4 2062.4,1019.1 2062.7,1113.4 2063.1,1094.1 2063.4,1032.4 2063.8,1043.0 2064.1,1100.3 2064.5,1095.8 2064.8,1040.5 2065.2,1013.8 2065.5,1113.8 2065.9,1110.6 2066.3,1031.2 2066.6,1041.1 2067.0,1101.0 2067.3,1019.6 2067.7,1108.5 2068.1,1105.9 2068.4,1044.3 2068.8,1039.7 2069.1,1103.3 2069.5,1023.9 2069.8,1117.8 2070.2,1040.8 2070.5,1099.4 2070.9,1013.5 2071.2,1104.1 2071.6,1116.6 2072.0,1057.4 2072.3,1110.9 2072.7,1051.9 2073.0,1096.8 2073.4,1035.0 2073.7,1041.8 2074.1,1093.0 2074.5,1039.2 2074.8,1108.8 2075.2,1114.2 2075.5,1049.5 2075.9,1108.4 2076.2,1039.9 2076.6,1046.5 2076.9,1096.2 2077.3,1116.7 2077.7,1038.8 2078.0,1102.2 2078.4,1035.1 2078.7,1055.0 2079.1,1104.0 2079.4,1030.7 2079.8,1107.4 2080.2,1107.2 2080.5,1044.3 2080.9,1022.0 2081.2,1106.1 2081.6,1098.0 2081.9,1024.7 2082.3,1094.2 2082.6,1047.3 2083.0,1013.0 2083.4,1098.8 2083.7,1103.6 2084.1,1045.3 2084.4,1047.1 2084.8,1105.9 2085.1,1103.9 2085.5,1034.3 2085.8,1038.2 2086.2,1092.0 2086.6,1118.0 2086.9,1046.8 2087.3,1098.7 2087.6,1032.2 2088.0,1036.6 2088.3,1108.8 2088.7,1113.5 2089.0,1030.9 2089.4,1025.9 2089.8,1106.3 2090.1,1040.0 2090.5,1103.6 2090.8,1032.2 2091.2,1118.5 2091.5,1099.9 2091.9,1030.0 2092.3,1030.8 2092.6,1113.2 2093.0,1041.2 2093.3,1099.5 2093.7,1091.7 2094.0,1012.4 2094.4,1097.7 2094.7,1025.4 2095.1,1089.0 2095.5,1029.1 2095.8,1027.1 2096.2,1111.4 2096.5,1110.6 2096.9,1041.0 2097.2,1033.9 2097.6,1110.0 2097.9,1024.9 2098.3,1099.2 2098.7,1024.2 2099.0,1096.6 2099.4,1046.3 2099.7,1102.6 2100.1,1102.6 2100.4,1035.2 2100.8,1112.2 2101.1,1030.1 2101.5,1107.5 2101.8,1036.5 2102.2,1012.0 2102.5,1096.0 2102.9,1091.8 2103.2,1034.4 2103.6,1101.0 2104.0,1023.8 2104.3,1104.5 2104.7,1039.1 2105.0,1040.8 2105.4,1106.7 2105.8,1033.7 2106.1,1115.8 2106.5,1036.8 2106.8,1097.8 2107.2,1033.4 2107.5,1098.8 2107.9,1115.9 2108.2,1043.9 2108.6,1045.3 2108.9,1108.1 2109.3,1105.3 2109.6,1035.8 2110.0,1109.9 2110.4,1033.1 2110.7,1095.1 2111.1,1045.1 2111.4,1046.5 2111.8,1097.4 2112.1,1105.5 2112.5,1026.7 2112.9,1032.7 2113.2,1095.4 2113.6,1044.6 2113.9,1097.1 2114.3,1111.4 2114.6,1029.4 2115.0,1104.7 2115.3,1036.8 2115.7,1014.5 2116.0,1101.7 2116.4,1036.7 2116.8,1106.0 2117.1,1034.0 2117.5,1093.2 2117.8,1033.1 2118.2,1107.4 2118.5,1097.8 2118.9,1019.4 2119.2,1111.3 2119.6,1023.0 2119.9,1089.1 2120.3,1040.1 2120.7,1046.2 2121.0,1095.5 2121.4,1038.9 2121.7,1093.0 2122.1,1047.2 2122.4,1105.8 2122.8,1020.8 2123.1,1097.4 2123.5,1110.1 2123.8,1027.6 2124.2,1038.4 2124.5,1091.8 2124.9,1126.3 2125.3,1031.2 2125.6,1030.1 2126.0,1114.5 2126.3,1047.5 2126.7,1098.1 2127.0,1099.4 2127.4,1034.4 2127.8,1109.1 2128.1,1048.5 2128.5,1100.4 2128.8,1030.0 2129.2,1012.9 2129.5,1099.7 2129.9,1126.1 2130.2,1023.4 2130.6,1111.4 2130.9,1010.6 2131.3,1103.3 2131.7,1037.8 2132.0,1099.3 2132.4,1037.6 2132.7,1092.1 2133.1,1030.0 2133.4,1093.3 2133.8,1023.2 2134.1,1100.9 2134.5,1030.9 2134.8,1022.6 2135.2,1099.2 2135.6,1106.5 2135.9,1042.7 2136.3,1033.4 2136.6,1097.3 2137.0,1032.9 2137.3,1117.5 2137.7,1033.8 2138.0,1105.3 2138.4,1095.6 2138.7,1022.0 2139.1,1022.7 2139.4,1103.9 2139.8,1108.2 2140.2,1032.8 2140.5,1099.7 2140.9,1019.8 2141.2,1038.1 2141.6,1105.2 2141.9,1089.6 2142.3,1027.0 2142.6,1112.2 2143.0,1025.6 2143.4,1105.7 2143.7,1041.6 2144.1,1088.6 2144.4,1027.8 2144.8,1009.9 2145.1,1107.9 2145.5,1042.1 2145.8,1103.4 2146.2,1100.3 2146.6,1026.8 2146.9,1099.6 2147.3,1032.9 2147.6,1039.9 2148.0,1115.2 2148.3,1032.3 2148.7,1094.7 2149.0,1046.8 2149.4,1099.1 2149.7,1111.8 2150.1,1030.0 2150.4,1040.0 2150.8,1096.4 2151.2,1093.1 2151.5,1044.7 2151.9,1031.5 2152.2,1095.7 2152.6,1099.4 2152.9,1034.2 2153.3,1029.2 2153.6,1089.8 2154.0,1034.8 2154.3,1097.3 2154.7,1111.7 2155.0,1031.3 2155.4,1034.9 2155.8,1100.5 2156.1,1110.4 2156.5,1039.7 2156.8,1030.0 2157.2,1096.6 2157.5,1043.3 2157.9,1110.6 2158.2,1019.6 2158.6,1113.3 2158.9,1116.0 2159.3,1020.4 2159.7,1044.3 2160.0,1111.7 M1643.1,557.1 L1643.6,382.0 L1644.1,557.1 M1647.7,557.5 L1648.2,494.5 L1648.7,557.5 M1650.7,578.5 L1651.2,524.0 L1651.7,578.5 M1654.5,619.3 L1655.0,562.7 L1655.5,619.3 M1658.4,597.5 L1658.9,504.0 L1659.4,597.5 M1668.1,778.6 L1668.6,697.7 L1669.1,778.6 M1691.1,885.7 L1691.6,735.8 L1692.1,885.7 M1695.7,893.4 L1696.2,671.0 L1696.7,893.4 M1709.8,872.3 L1710.3,724.8 L1710.8,872.3 M1737.1,1028.9 L1737.6,881.7 L1738.1,1028.9 M1743.7,1046.6 L1745.2,977.0 L1746.7,1046.6 M1761.3,1051.5 L1761.8,863.0 L1762.3,1051.5 M1769.8,1055.9 L1770.3,887.7 L1770.8,1055.9 M1887.5,1065.9 L1890.0,979.0 L1892.5,1065.9 M1900.3,1066.7 L1900.8,1004.5 L1901.3,1066.7 M1932.2,1065.7 L1932.7,974.0 L1933.2,1065.7"/>
<path stroke="#bfbf00" d="M395.9,778.9 526.1,787.8 602.3,699.0 656.3,644.9 698.2,623.8 732.5,574.0 761.4,471.3 786.5,375.0 808.6,382.7 828.4,372.1 846.3,330.4 862.6,304.9 877.7,304.2 891.6,317.6 904.5,320.8 916.7,415.8 928.1,456.7 938.8,473.2 948.9,512.5 958.6,529.7 967.7,524.0 976.5,529.1 984.8,571.1 992.8,568.6 1000.5,575.0 1007.9,601.7 1014.9,620.8 1021.8,678.2 1028.4,701.8 1034.7,659.7 1040.9,663.5 1046.8,707.6 1052.6,748.4 1058.2,737.5 1063.7,736.9 1069.0,742.0 1074.1,761.1 1079.1,750.9 1084.0,743.3 1088.8,738.8 1093.4,767.5 1097.9,763.7 1102.3,744.5 1106.7,740.7 1110.9,763.7 1115.0,766.9 1119.0,764.9 1123.0,763.0 1126.9,773.9 1130.7,780.0 1134.4,761.1 1138.0,756.7 1141.6,762.4 1145.1,768.8 1148.6,756.7 1152.0,757.9 1155.3,734.3 1158.5,749.6 1161.8,762.4 1164.9,770.1 1168.0,761.6 1171.1,753.2 1174.1,755.2 1177.0,765.5 1179.9,778.1 1182.8,764.8 1185.6,758.7 1188.4,752.3 1191.2,736.3 1193.9,717.6 1196.5,698.3 1199.2,697.2 1201.7,713.0 1204.3,724.0 1206.8,702.2 1209.3,692.8 1211.8,693.0 1214.2,690.3 1216.6,682.6 1218.9,685.5 1221.3,705.1 1223.6,721.9 1225.9,753.0 1228.1,779.2 1230.3,747.7 1232.5,719.3 1234.7,740.6 1236.8,753.5 1239.0,756.1 1241.1,753.3 1243.1,742.6 1245.2,763.5 1247.2,780.3 1249.2,807.6 1251.2,829.1 1253.2,823.7 1255.1,802.9 1257.1,782.5 1259.0,799.3 1260.8,819.3 1262.7,826.4 1264.6,817.0 1266.4,804.6 1268.2,806.2 1270.0,807.7 1271.8,811.8 1273.6,835.3 1275.3,844.3 1277.0,844.3 1278.7,847.2 1280.4,835.6 1282.1,836.5 1283.8,838.0 1285.5,811.1 1287.1,815.2 1288.7,813.7 1290.3,800.5 1291.9,787.2 1293.5,795.8 1295.1,818.6 1296.6,811.4 1298.2,825.2 1299.7,847.2 1301.2,852.1 1302.8,861.1 1304.3,845.7 1305.7,827.4 1307.2,801.2 1308.7,793.3 1310.1,809.7 1311.6,845.9 1313.0,837.7 1314.4,813.3 1315.8,805.0 1317.2,787.9 1318.6,774.7 1320.0,786.2 1321.3,805.3 1322.7,803.7 1324.0,794.0 1325.4,782.6 1326.7,758.2 1328.0,750.2 1329.3,723.9 1330.6,723.1 1331.9,717.8 1333.2,709.8 1334.5,695.1 1335.7,686.9 1337.0,671.0 1338.2,669.5 1339.5,641.9 1340.7,635.0 1341.9,634.9 1343.2,631.9 1344.4,660.9 1345.6,668.6 1346.8,694.0 1347.9,714.6 1349.1,733.4 1350.3,750.3 1351.5,754.5 1352.6,754.9 1353.8,753.9 1354.9,746.4 1356.0,742.3 1357.2,738.7 1358.3,727.2 1359.4,725.1 1360.5,713.5 1361.6,736.3 1362.7,744.4 1363.8,737.0 1364.9,711.6 1366.0,698.2 1367.0,731.2 1368.1,749.7 1369.1,778.3 1370.2,797.4 1371.2,810.0 1372.3,823.7 1373.3,833.7 1374.3,805.9 1375.4,792.8 1376.4,807.4 1377.4,822.7 1378.4,827.1 1379.4,824.7 1380.4,823.2 1381.4,794.0 1382.4,797.4 1383.4,791.3 1384.3,801.4 1385.3,800.1 1386.3,810.0 1387.2,828.0 1388.2,845.6 1389.1,817.8 1390.1,816.3 1391.0,792.4 1392.0,789.0 1392.9,776.6 1393.8,791.5 1394.7,796.9 1395.7,792.1 1396.6,832.4 1397.5,821.8 1398.4,831.4 1399.3,811.7 1400.2,778.8 1401.1,784.2 1402.0,747.0 1402.9,747.0 1403.7,735.4 1404.6,728.1 1405.5,747.4 1406.4,713.6 1407.2,735.6 1408.1,703.7 1408.9,699.4 1409.8,686.6 1410.6,692.4 1411.5,695.5 1412.3,663.0 1413.2,708.2 1414.0,713.5 1414.8,683.8 1415.6,678.9 1416.5,641.5 1417.3,627.2 1418.1,625.7 1418.9,615.8 1419.7,618.0 1420.5,612.2 1421.3,625.2 1422.1,627.0 1422.9,636.8 1423.7,640.9 1424.5,654.9 1425.3,654.2 1426.1,655.6 1426.8,689.2 1427.6,713.7 1428.4,694.2 1429.1,697.4 1429.9,695.9 1430.7,666.4 1431.4,682.8 1432.2,678.8 1432.9,659.6 1433.7,685.6 1434.4,687.1 1435.2,703.3 1435.9,707.6 1436.7,733.8 1437.4,730.1 1438.1,718.7 1438.9,735.1 1439.6,712.7 1440.3,717.5 1441.0,716.8 1441.7,717.4 1442.5,725.5 1443.2,753.7 1443.9,744.9 1444.6,756.3 1445.3,761.1 1446.0,762.2 1446.7,753.9 1447.4,722.5 1448.1,744.7 1448.8,768.8 1449.5,738.1 1450.2,689.4 1450.8,677.0 1451.5,701.6 1452.2,683.2 1452.9,738.2 1453.6,738.5 1454.2,704.1 1454.9,684.9 1455.6,708.5 1456.2,705.3 1456.9,700.1 1457.5,733.8 1458.2,712.1 1458.9,737.0 1459.5,705.2 1460.2,717.1 1460.8,719.8 1461.5,715.4 1462.1,738.3 1462.7,722.6 1463.4,707.1 1464.0,707.3 1464.7,707.9 1465.3,698.7 1465.9,711.2 1466.6,686.7 1467.2,682.9 1467.8,708.0 1468.4,695.1 1469.1,696.7 1469.7,711.9 1470.3,686.1 1470.9,682.8 1471.5,696.8 1472.1,697.8 1472.7,705.7 1473.3,722.8 1473.9,690.8 1474.5,673.5 1475.1,717.0 1475.7,724.4 1476.3,709.2 1476.9,736.3 1477.5,721.7 1478.1,710.6 1478.7,733.1 1479.3,727.4 1479.9,728.9 1480.5,726.9 1481.1,742.1 1481.6,739.4 1482.2,705.5 1482.8,750.1 1483.4,770.3 1483.9,726.5 1484.5,697.7 1485.1,767.6 1485.7,704.6 1486.2,707.1 1486.8,732.3 1487.3,748.8 1487.9,719.0 1488.5,731.5 1489.0,720.0 1489.6,709.1 1490.1,733.3 1490.7,727.1 1491.2,761.0 1491.8,754.0 1492.3,717.5 1492.9,749.9 1493.4,733.2 1494.0,762.5 1494.5,734.4 1495.1,740.9 1495.6,722.9 1496.1,741.4 1496.7,766.1 1497.2,728.3 1497.7,756.8 1498.3,726.9 1498.8,740.4 1499.3,719.3 1499.9,718.9 1500.4,723.2 1500.9,722.3 1501.4,736.4 1501.9,725.5 1502.5,731.2 1503.0,725.3 1503.5,750.2 1504.0,740.1 1504.5,749.6 1505.0,736.7 1505.6,731.9 1506.1,742.5 1506.6,759.0 1507.1,729.7 1507.6,740.9 1508.1,766.1 1508.6,771.5 1509.1,753.0 1509.6,753.3 1510.1,745.4 1510.6,768.4 1511.1,745.7 1511.6,746.1 1512.1,752.8 1512.6,747.1 1513.1,766.8 1513.5,780.4 1514.0,796.8 1514.5,782.2 1515.0,753.4 1515.5,758.0 1516.0,734.7 1516.5,744.7 1516.9,755.8 1517.4,755.0 1517.9,771.9 1518.4,766.1 1518.8,766.0 1519.3,738.6 1519.8,753.1 1520.3,753.4 1520.7,746.8 1521.2,741.4 1521.7,762.7 1522.1,762.7 1522.6,748.0 1523.1,754.0 1523.5,761.9 1524.0,773.7 1524.5,724.8 1524.9,755.0 1525.4,702.5 1525.8,771.7 1526.3,748.4 1526.8,755.6 1527.2,750.1 1527.7,763.4 1528.1,754.7 1528.6,748.1 1529.0,791.2 1529.5,744.2 1529.9,748.0 1530.4,737.3 1530.8,774.4 1531.3,742.5 1531.7,741.0 1532.2,763.0 1532.6,748.7 1533.0,754.2 1533.5,758.3 1533.9,753.1 1534.4,773.9 1534.8,767.1 1535.2,750.1 1535.7,740.5 1536.1,771.4 1536.5,763.6 1537.0,769.2 1537.4,754.9 1537.8,765.4 1538.3,772.6 1538.7,769.5 1539.1,755.7 1539.5,765.0 1540.0,782.1 1540.4,748.0 1540.8,760.2 1541.2,780.8 1541.7,768.5 1542.1,800.1 1542.5,766.1 1542.9,746.7 1543.3,731.1 1543.8,739.6 1544.2,730.7 1544.6,772.3 1545.0,733.7 1545.4,748.3 1545.8,731.7 1546.2,720.3 1546.6,758.3 1547.1,741.7 1547.5,731.3 1547.9,712.6 1548.3,698.8 1548.7,730.6 1549.1,755.2 1549.5,708.0 1549.9,711.8 1550.3,723.2 1550.7,752.2 1551.1,739.2 1551.5,706.3 1551.9,753.9 1552.3,757.5 1552.7,736.9 1553.1,738.9 1553.5,736.0 1553.9,762.5 1554.3,735.0 1554.7,742.9 1555.1,736.6 1555.5,735.8 1555.8,753.6 1556.2,716.2 1556.6,749.4 1557.0,744.3 1557.4,743.8 1557.8,757.3 1558.2,745.8 1558.6,738.3 1558.9,752.4 1559.3,737.9 1559.7,759.5 1560.1,766.0 1560.5,761.3 1560.9,705.1 1561.2,751.6 1561.6,745.6 1562.0,722.1 1562.4,736.5 1562.7,736.1 1563.1,715.0 1563.5,725.0 1563.9,751.5 1564.2,719.5 1564.6,706.3 1565.0,733.5 1565.4,750.0 1565.7,758.0 1566.1,716.0 1566.5,722.1 1566.8,766.0 1567.2,762.4 1567.6,741.9 1567.9,762.5 1568.3,709.0 1568.7,741.5 1569.0,727.4 1569.4,760.7 1569.8,730.5 1570.1,730.6 1570.5,720.9 1570.8,744.3 1571.2,711.9 1571.6,746.7 1571.9,722.5 1572.3,728.1 1572.6,744.6 1573.0,729.8 1573.4,736.0 1573.7,739.6 1574.1,737.5 1574.4,711.1 1574.8,736.4 1575.1,726.0 1575.5,737.4 1575.8,730.7 1576.2,734.7 1576.5,723.9 1577.2,701.1 1577.6,738.4 1578.3,749.2 1578.6,726.0 1579.3,741.8 1579.7,759.1 1580.3,781.3 1580.7,747.6 1581.4,761.1 1581.7,778.7 1582.4,733.8 1582.7,752.5 1583.4,777.7 1583.7,742.0 1584.4,746.5 1584.8,774.9 1585.4,748.2 1585.8,759.3 1586.4,721.6 1586.8,781.7 1587.4,740.5 1587.8,754.1 1588.4,723.2 1588.7,752.6 1589.4,735.0 1589.7,769.0 1590.3,737.0 1590.7,685.4 1591.3,709.7 1591.7,749.4 1592.3,723.5 1592.6,754.3 1593.2,718.6 1593.6,727.5 1594.2,741.7 1594.6,710.8 1595.2,726.1 1595.5,736.8 1596.1,727.1 1596.5,764.0 1597.1,709.0 1597.4,757.8 1598.0,715.4 1598.3,761.2 1598.9,763.5 1599.3,720.0 1599.9,737.1 1600.2,766.5 1600.8,698.0 1601.1,740.9 1601.7,744.2 1602.0,772.1 1602.6,764.3 1603.0,734.9 1603.5,781.9 1603.9,737.9 1604.4,748.9 1604.8,742.4 1605.3,784.2 1605.7,767.9 1606.2,746.2 1606.6,757.0 1607.1,790.7 1607.5,769.4 1608.0,716.0 1608.4,753.8 1608.9,755.1 1609.2,740.5 1609.8,771.3 1610.1,734.7 1610.7,790.4 1611.0,734.5 1611.5,756.8 1611.9,738.4 1612.4,781.5 1612.7,737.5 1613.3,719.4 1613.6,749.6 1614.1,747.9 1614.5,735.2 1615.0,710.5 1615.3,741.0 1615.8,718.3 1616.2,703.9 1616.7,741.7 1617.0,718.8 1617.5,725.9 1617.9,740.7 1618.4,702.4 1618.7,740.2 1619.2,721.1 1619.6,709.2 1620.0,695.8 1620.4,712.7 1620.9,742.2 1621.2,691.0 1621.7,725.2 1622.0,706.0 1622.5,708.4 1622.9,678.5 1623.3,688.7 1623.7,685.1 1624.2,686.4 1624.5,718.8 1625.0,688.3 1625.3,700.9 1625.8,719.1 1626.1,700.4 1626.6,695.2 1626.9,676.6 1627.4,684.1 1627.7,676.4 1628.2,641.2 1628.5,683.8 1629.0,662.8 1629.3,642.0 1629.8,661.9 1630.1,640.3 1630.6,657.0 1630.9,662.9 1631.3,657.4 1631.7,638.9 1632.1,639.9 1632.5,660.5 1632.9,633.7 1633.3,624.1 1633.7,626.7 1634.0,645.5 1634.5,657.0 1634.8,626.3 1635.2,641.8 1635.6,589.1 1636.0,590.3 1636.3,648.5 1636.8,625.1 1637.1,600.3 1637.5,593.1 1637.9,635.5 1638.3,634.3 1638.6,591.6 1639.0,565.6 1639.4,645.1 1639.8,539.5 1640.1,615.9 1640.5,600.3 1640.9,615.4 1641.3,606.3 1641.6,547.9 1642.0,581.1 1642.4,566.2 1642.7,580.8 1643.1,448.1 1643.5,533.4 1643.8,608.1 1644.2,616.1 1644.6,556.0 1644.9,480.4 1645.3,564.3 1645.7,528.4 1646.0,588.9 1646.4,614.0 1646.7,563.2 1647.1,551.9 1647.5,615.0 1647.8,585.7 1648.2,517.0 1648.6,603.8 1648.9,537.4 1649.3,568.7 1649.6,539.1 1650.0,556.6 1650.3,563.4 1650.7,566.8 1651.0,600.2 1651.4,567.2 1651.7,519.5 1652.1,572.9 1652.4,606.1 1652.8,602.3 1653.1,633.9 1653.7,571.5 1654.1,626.0 1654.7,610.1 1655.0,652.2 1655.6,616.1 1655.9,639.1 1656.5,670.3 1656.8,594.7 1657.4,653.8 1657.8,558.1 1658.3,635.7 1658.7,554.1 1659.2,661.3 1659.6,588.7 1660.1,681.9 1660.5,651.8 1661.0,697.8 1661.4,753.9 1661.9,750.5 1662.2,656.3 1662.8,762.7 1663.1,752.3 1663.7,711.0 1664.0,747.2 1664.5,794.8 1664.9,729.5 1665.4,765.2 1665.8,749.7 1666.3,782.1 1666.6,713.8 1667.1,769.2 1667.5,756.8 1668.0,730.6 1668.4,762.8 1668.9,770.3 1669.2,794.8 1669.7,799.9 1670.1,762.2 1670.6,759.8 1670.9,795.7 1671.4,792.2 1671.8,764.8 1672.3,807.6 1672.6,749.5 1673.1,775.2 1673.4,837.6 1673.9,831.3 1674.3,798.7 1674.8,794.1 1675.1,837.5 1675.6,792.7 1675.9,843.3 1676.4,808.5 1676.8,849.9 1677.2,819.9 1677.6,846.6 1678.1,859.9 1678.4,811.5 1678.9,864.8 1679.2,775.4 1679.7,864.7 1680.0,801.9 1680.5,840.8 1680.8,904.4 1681.3,866.1 1681.6,788.5 1682.1,835.9 1682.4,861.5 1682.9,868.5 1683.2,908.9 1683.7,889.0 1684.0,820.9 1684.5,841.2 1684.8,913.8 1685.2,911.1 1685.6,823.3 1686.0,818.1 1686.4,921.0 1686.8,839.0 1687.2,891.2 1687.6,839.8 1687.9,883.2 1688.4,928.8 1688.7,873.3 1689.1,868.3 1689.5,811.6 1689.9,900.8 1690.2,831.0 1690.7,943.7 1691.0,879.7 1691.4,855.4 1691.8,953.9 1692.2,846.6 1692.5,954.7 1692.9,895.5 1693.3,858.2 1693.7,888.7 1694.0,934.1 1694.4,917.0 1694.8,856.8 1695.2,788.7 1695.5,997.0 1695.9,973.0 1696.3,881.1 1696.7,957.7 1697.0,886.0 1697.4,848.1 1697.7,904.9 1698.1,846.4 1698.5,891.3 1698.9,866.7 1699.2,941.0 1699.6,939.5 1699.9,872.9 1700.3,929.8 1700.7,864.5 1701.0,881.3 1701.4,950.1 1701.7,871.0 1702.1,1028.0 1702.5,970.6 1702.8,895.3 1703.2,859.9 1703.5,928.5 1703.9,868.0 1704.2,978.1 1704.6,966.1 1705.0,930.9 1705.3,871.9 1705.7,943.8 1706.0,831.2 1706.4,960.8 1706.7,986.4 1707.1,881.4 1707.6,944.0 1707.9,872.4 1708.5,878.3 1708.8,949.2 1709.3,849.6 1709.7,957.7 1710.2,913.2 1710.5,948.3 1711.0,874.8 1711.4,985.8 1711.9,860.3 1712.2,973.8 1712.7,912.9 1713.1,961.1 1713.6,864.6 1713.9,1010.1 1714.4,948.4 1714.8,869.2 1715.3,968.1 1715.6,878.9 1716.1,1032.8 1716.4,870.1 1716.9,919.5 1717.3,990.0 1717.7,935.4 1718.1,891.5 1718.6,911.6 1718.9,984.8 1719.4,998.7 1719.7,922.4 1720.2,900.8 1720.6,949.4 1721.0,926.7 1721.4,980.6 1721.8,1021.9 1722.2,968.5 1722.6,910.7 1723.0,1035.8 1723.4,982.4 1723.8,958.0 1724.2,968.8 1724.6,1027.6 1725.0,947.3 1725.4,1025.4 1725.8,979.9 1726.2,1007.4 1726.6,955.5 1727.0,998.9 1727.4,970.3 1727.7,1017.1 1728.2,1013.4 1728.5,988.1 1728.9,981.2 1729.3,1022.6 1729.7,978.4 1730.1,1025.6 1730.5,1033.7 1730.8,994.3 1731.3,1037.2 1731.6,976.2 1732.0,1043.2 1732.4,1004.9 1732.8,1036.9 1733.1,982.6 1733.6,1034.7 1733.9,1007.4 1734.3,994.6 1734.7,1023.0 1735.1,1028.6 1735.4,993.7 1735.8,1041.5 1736.2,1000.9 1736.6,1012.9 1736.9,1041.6 1737.3,1023.9 1737.7,1047.0 1738.0,1007.1 1738.4,1056.8 1738.8,1011.5 1739.1,1076.6 1739.5,1050.5 1739.9,1015.3 1740.3,1037.9 1740.6,1015.1 1741.0,1026.2 1741.3,1067.1 1741.7,1055.4 1742.1,1019.1 1742.4,1076.0 1742.8,1030.3 1743.2,1056.7 1743.5,1030.4 1743.9,1011.3 1744.2,1052.3 1744.6,1049.2 1744.9,1021.5 1745.3,1053.4 1745.7,1029.0 1746.0,1027.9 1746.4,1072.5 1746.7,1043.4 1747.1,1066.7 1747.4,1050.5 1747.8,1031.2 1748.1,1020.7 1748.5,1058.9 1748.8,1073.6 1749.2,1026.4 1749.7,1083.7 1750.0,1026.7 1750.5,1066.5 1750.8,1040.8 1751.3,1062.0 1751.7,1030.9 1752.2,1038.5 1752.5,1061.0 1753.0,1028.8 1753.3,1060.7 1753.8,1071.3 1754.1,1032.0 1754.6,1067.3 1755.0,1032.1 1755.4,1021.4 1755.8,1052.7 1756.2,1028.3 1756.6,1070.0 1757.0,1058.4 1757.4,1045.6 1757.8,1064.1 1758.2,1032.7 1758.6,1065.8 1759.0,1031.6 1759.4,1038.3 1759.8,1033.3 1760.2,1021.9 1760.6,1063.6 1761.0,1060.7 1761.4,1039.0 1761.8,1039.7 1762.1,1062.8 1762.6,1095.5 1762.9,1037.1 1763.3,1053.2 1763.7,1037.9 1764.1,1044.0 1764.5,1068.3 1764.9,1061.8 1765.2,1036.3 1765.7,1062.0 1766.0,1032.4 1766.4,1022.4 1766.8,1075.9 1767.2,1068.3 1767.5,1037.5 1767.9,1072.9 1768.3,1034.4 1768.7,1083.4 1769.1,1042.5 1769.5,1080.1 1769.8,1020.1 1770.2,1031.1 1770.6,1069.6 1771.0,1062.1 1771.3,1083.0 1771.7,1081.0 1772.0,1032.9 1772.4,1035.0 1772.8,1071.9 1773.2,1075.8 1773.5,1028.5 1773.9,1077.2 1774.3,1045.1 1774.6,1030.3 1775.0,1078.5 1775.4,1022.2 1775.7,1068.4 1776.1,1030.2 1776.4,1070.5 1776.8,1055.2 1777.2,1071.7 1777.5,1049.5 1777.9,1107.2 1778.3,1024.7 1778.6,1085.2 1779.0,1090.4 1779.3,1034.3 1779.7,1083.3 1780.0,1034.1 1780.4,1066.9 1780.7,1038.1 1781.1,1075.0 1781.5,1044.0 1781.8,1042.9 1782.2,1075.7 1782.5,1039.5 1782.9,1082.2 1783.3,1088.9 1783.7,1039.9 1784.1,1077.7 1784.5,1023.1 1784.9,1048.3 1785.3,1084.4 1785.8,1034.2 1786.1,1075.4 1786.6,1080.6 1786.9,1043.9 1787.4,1071.1 1787.7,1028.5 1788.2,1033.6 1788.5,1076.6 1788.9,1092.1 1789.3,1034.8 1789.7,1031.9 1790.1,1065.9 1790.5,1075.1 1790.9,1022.1 1791.3,1009.9 1791.6,1071.8 1792.1,1014.5 1792.4,1062.1 1792.9,1062.6 1793.2,946.5 1793.6,1060.9 1794.0,889.9 1794.4,1056.5 1794.7,838.7 1795.2,1050.9 1795.5,792.0 1795.9,1050.3 1796.3,774.3 1796.7,1051.7 1797.0,748.1 1797.4,1050.0 1797.8,727.9 1798.2,1048.3 1798.5,704.3 1798.9,1051.3 1799.3,673.3 1799.7,1047.5 1800.0,641.1 1800.4,1049.7 1800.8,614.3 1801.2,621.8 1801.5,1049.2 1801.9,657.3 1802.3,1049.5 1802.7,678.4 1803.0,1050.8 1803.4,710.0 1803.7,1046.1 1804.1,741.8 1804.5,1048.8 1804.8,784.3 1805.2,1049.5 1805.6,807.3 1805.9,1049.0 1806.3,847.5 1806.6,1048.9 1807.0,860.9 1807.4,1044.2 1807.7,872.0 1808.1,1050.0 1808.4,886.2 1808.8,1050.0 1809.1,897.5 1809.5,1049.3 1809.9,910.3 1810.2,1049.0 1810.6,920.3 1810.9,1049.1 1811.3,1050.6 1811.6,927.1 1812.0,1046.5 1812.3,980.0 1812.8,955.5 1813.1,1015.2 1813.6,961.1 1813.9,1021.8 1814.3,1017.5 1814.7,959.8 1815.1,975.3 1815.5,1020.3 1815.9,1032.0 1816.3,960.5 1816.7,1040.8 1817.0,990.9 1817.5,988.7 1817.8,1045.8 1818.2,986.7 1818.6,1034.7 1819.0,1027.1 1819.4,982.0 1819.8,1035.1 1820.1,990.9 1820.6,1000.9 1820.9,1032.7 1821.3,1043.3 1821.7,999.6 1822.1,1067.3 1822.4,995.9 1822.8,1063.1 1823.2,1018.0 1823.6,1027.0 1823.9,1074.0 1824.3,1029.3 1824.7,1070.5 1825.1,1042.0 1825.4,1093.5 1825.8,1041.5 1826.2,1100.3 1826.6,1045.5 1826.9,1085.2 1827.3,1046.6 1827.6,1085.1 1828.0,1095.4 1828.4,1042.8 1828.8,1042.5 1829.1,1101.1 1829.5,1089.3 1829.8,1053.4 1830.2,1016.0 1830.6,1086.1 1830.9,1027.0 1831.3,1115.0 1831.7,1042.6 1832.0,1103.0 1832.4,1078.6 1832.7,1041.1 1833.1,1059.2 1833.4,1090.2 1833.8,1083.5 1834.2,1016.7 1834.5,1092.9 1834.9,1042.7 1835.2,1042.2 1835.6,1114.3 1835.9,1089.1 1836.3,1058.0 1836.6,1049.2 1837.0,1079.2 1837.4,1092.1 1837.8,1040.3 1838.2,1035.8 1838.5,1072.9 1839.0,1031.9 1839.3,1084.3 1839.8,1044.7 1840.1,1084.1 1840.5,1084.8 1840.9,1055.3 1841.3,1102.0 1841.7,1041.4 1842.1,1048.3 1842.4,1094.2 1842.8,1031.8 1843.2,1090.5 1843.6,1103.7 1843.9,1047.0 1844.3,1077.4 1844.7,1040.8 1845.1,1083.7 1845.5,1050.7 1845.9,1044.4 1846.2,1095.9 1846.6,1040.5 1847.0,1125.1 1847.4,1085.9 1847.7,1029.6 1848.1,1040.0 1848.4,1096.4 1848.8,1043.0 1849.2,1092.3 1849.6,1078.0 1849.9,1036.0 1850.3,1030.9 1850.7,1087.8 1851.0,1059.6 1851.4,1097.0 1851.8,1054.0 1852.1,1102.0 1852.5,1095.7 1852.8,1023.3 1853.2,1104.7 1853.6,1034.8 1853.9,1029.3 1854.3,1062.7 1854.7,1076.6 1855.0,1050.0 1855.4,1047.4 1855.7,1098.8 1856.1,1034.9 1856.4,1080.2 1856.8,1099.9 1857.1,1045.1 1857.5,1056.3 1857.8,1099.1 1858.2,1049.9 1858.5,1100.4 1858.9,1079.3 1859.2,1034.4 1859.7,1097.0 1860.0,1044.4 1860.4,1091.9 1860.8,1025.9 1861.2,1058.8 1861.6,1109.5 1862.0,1043.5 1862.3,1093.2 1862.7,1035.0 1863.1,1091.5 1863.5,1043.0 1863.9,1091.3 1864.3,1095.1 1864.6,1043.7 1865.0,1112.6 1865.4,1051.5 1865.8,1104.6 1866.1,1039.8 1866.5,1083.9 1866.9,1039.0 1867.3,1085.0 1867.6,1035.1 1868.0,1102.1 1868.4,1039.0 1868.7,1027.6 1869.1,1092.8 1869.5,1042.1 1869.8,1077.9 1870.2,1050.3 1870.6,1098.6 1870.9,1034.1 1871.3,1081.4 1871.7,1090.2 1872.0,1047.7 1872.4,1096.0 1872.7,1043.6 1873.1,1041.7 1873.5,1095.2 1873.8,1038.0 1874.2,1081.5 1874.6,1093.1 1874.9,1033.6 1875.3,1082.4 1875.6,1036.2 1876.0,1078.1 1876.3,1034.1 1876.7,1049.9 1877.0,1108.5 1877.4,1101.3 1877.7,1043.8 1878.1,1045.0 1878.5,1090.3 1878.8,1033.8 1879.2,1082.6 1879.6,1095.7 1879.9,1032.7 1880.3,1054.7 1880.7,1089.8 1881.1,1033.5 1881.4,1083.0 1881.9,1046.3 1882.2,1089.4 1882.6,1074.9 1883.0,1041.3 1883.4,1042.5 1883.7,1096.9 1884.1,1081.2 1884.5,1031.6 1884.9,1089.2 1885.2,1048.1 1885.6,1096.1 1886.0,1021.6 1886.3,1089.3 1886.7,1039.9 1887.1,1034.1 1887.4,1090.5 1887.8,1038.7 1888.2,1083.3 1888.5,1051.1 1888.9,1090.3 1889.3,1084.4 1889.6,1040.8 1890.0,1079.6 1890.4,1036.0 1890.7,1089.9 1891.1,1040.4 1891.4,1039.9 1891.8,1088.9 1892.2,1072.8 1892.5,1021.6 1892.9,1011.5 1893.2,1068.1 1893.6,1083.5 1893.9,1017.6 1894.3,1044.0 1894.7,1107.6 1895.0,1040.6 1895.4,1089.7 1895.7,1043.9 1896.1,1101.0 1896.4,1047.6 1896.8,1099.6 1897.2,1089.5 1897.5,1032.3 1897.9,1079.9 1898.3,1023.9 1898.7,1100.9 1899.0,1042.4 1899.4,1087.9 1899.8,1038.0 1900.2,1046.1 1900.5,1089.6 1900.9,1089.7 1901.3,1028.2 1901.7,1041.4 1902.0,1094.8 1902.4,1111.2 1902.8,1045.3 1903.2,1041.3 1903.5,1075.8 1903.9,1032.5 1904.3,1097.5 1904.6,1046.4 1905.0,1096.5 1905.4,1041.0 1905.7,1091.3 1906.1,1044.6 1906.4,1093.8 1906.8,1090.4 1907.2,1040.7 1907.5,1090.9 1907.9,1033.9 1908.3,1036.8 1908.6,1083.4 1909.0,1108.5 1909.3,1041.0 1909.7,1045.8 1910.0,1112.1 1910.4,1017.8 1910.8,1097.8 1911.1,1087.8 1911.5,1043.7 1911.8,1044.1 1912.2,1092.2 1912.5,1059.1 1912.9,1089.0 1913.2,1049.3 1913.6,1097.0 1914.0,1096.6 1914.3,1043.4 1914.7,1100.8 1915.1,1042.8 1915.5,1103.6 1915.8,1031.2 1916.2,1046.3 1916.6,1105.7 1917.0,1041.9 1917.3,1093.8 1917.7,1091.4 1918.1,1044.8 1918.4,1108.5 1918.8,1042.8 1919.2,1036.5 1919.5,1100.9 1919.9,1084.3 1920.3,1037.6 1920.6,1085.8 1921.0,1034.7 1921.4,1090.9 1921.7,1044.2 1922.1,1089.6 1922.4,1052.1 1922.8,1082.1 1923.2,1048.3 1923.5,1103.1 1923.9,1044.8 1924.2,1082.3 1924.6,1022.5 1925.0,1035.6 1925.3,1083.1 1925.7,1052.9 1926.0,1081.6 1926.4,1043.4 1926.7,1093.7 1927.1,1039.4 1927.4,1076.7 1927.8,1089.9 1928.1,1039.1 1928.5,1019.6 1928.9,1097.7 1929.3,1085.3 1929.6,1030.4 1930.0,1087.9 1930.4,1038.8 1930.8,1095.2 1931.1,1042.0 1931.5,1094.5 1931.9,1040.4 1932.3,1051.9 1932.6,1100.2 1933.0,1027.6 1933.3,1093.1 1933.7,1093.0 1934.1,1028.9 1934.5,1096.6 1934.8,1043.9 1935.2,1079.6 1935.5,1039.7 1935.9,1018.2 1936.3,1085.4 1936.6,1025.2 1937.0,1094.1 1937.3,1079.9 1937.7,1042.6 1938.1,1026.5 1938.4,1082.5 1938.8,1032.2 1939.1,1096.9 1939.5,1091.8 1939.8,1036.7 1940.2,1022.4 1940.5,1096.1 1940.9,1092.9 1941.2,1037.5 1941.6,1029.0 1941.9,1090.0 1942.3,1037.4 1942.7,1090.1 1943.1,1039.7 1943.4,1097.5 1943.8,1033.3 1944.2,1101.3 1944.6,1089.3 1944.9,1051.2 1945.3,1100.5 1945.7,1045.3 1946.0,1034.0 1946.4,1084.9 1946.8,1094.1 1947.1,1043.2 1947.5,1096.9 1947.9,1046.7 1948.2,1105.6 1948.6,1045.0 1949.0,1078.5 1949.3,1039.3 1949.7,1037.6 1950.0,1089.2 1950.4,1036.5 1950.7,1087.9 1951.1,1033.5 1951.5,1110.7 1951.8,1096.4 1952.2,1043.9 1952.5,1015.9 1952.9,1101.4 1953.2,1037.5 1953.6,1085.0 1953.9,1103.2 1954.3,1037.1 1954.7,1103.5 1955.0,1040.7 1955.4,1093.9 1955.7,1034.6 1956.1,1039.0 1956.5,1094.4 1956.9,1053.7 1957.2,1095.7 1957.6,1029.6 1958.0,1095.0 1958.4,1045.4 1958.7,1095.0 1959.1,1023.8 1959.4,1084.2 1959.8,1025.5 1960.2,1088.2 1960.5,1044.4 1960.9,1081.0 1961.3,1048.8 1961.6,1103.2 1962.0,1089.4 1962.3,1043.1 1962.7,1095.5 1963.0,1047.7 1963.4,1090.7 1963.8,1041.5 1964.1,1097.1 1964.5,1039.6 1964.8,1031.5 1965.2,1088.9 1965.5,1036.7 1965.9,1087.0 1966.2,1097.9 1966.6,1035.3 1966.9,1093.4 1967.3,1034.7 1967.7,1033.6 1968.0,1097.0 1968.4,1104.0 1968.8,1041.9 1969.2,1039.8 1969.5,1098.6 1969.9,1044.6 1970.2,1100.9 1970.6,1122.6 1971.0,1041.5 1971.4,1087.4 1971.7,1038.6 1972.1,1090.6 1972.4,1048.7 1972.8,1048.7 1973.2,1107.5 1973.5,1086.1 1973.9,1020.3 1974.2,1085.1 1974.6,1036.5 1975.0,1035.5 1975.3,1092.8 1975.7,1046.4 1976.0,1082.7 1976.4,1041.5 1976.7,1091.2 1977.1,1099.4 1977.4,1041.0 1977.8,1040.2 1978.1,1087.5 1978.5,1084.4 1978.8,1052.9 1979.2,1044.7 1979.6,1090.0 1980.0,1047.0 1980.3,1104.6 1980.7,1098.8 1981.0,1042.9 1981.4,1037.6 1981.8,1119.0 1982.1,1094.2 1982.5,1047.7 1982.9,1092.3 1983.2,1038.7 1983.6,1097.2 1983.9,1035.8 1984.3,1057.2 1984.7,1092.4 1985.0,1045.7 1985.4,1093.3 1985.7,1052.6 1986.1,1096.9 1986.5,1040.2 1986.8,1098.5 1987.2,1041.2 1987.5,1086.7 1987.9,1038.1 1988.2,1085.1 1988.6,1101.0 1988.9,1045.3 1989.3,1050.1 1989.6,1111.5 1990.0,1095.5 1990.4,1043.3 1990.7,1116.6 1991.1,1035.7 1991.5,1099.0 1991.8,1044.2 1992.2,1044.2 1992.6,1083.0 1992.9,1039.0 1993.3,1084.1 1993.7,1108.5 1994.0,1036.9 1994.4,1090.5 1994.7,1041.0 1995.1,1043.4 1995.4,1096.9 1995.8,1052.3 1996.2,1108.8 1996.5,1045.7 1996.9,1089.5 1997.2,1111.6 1997.6,1023.8 1997.9,1094.6 1998.3,1033.0 1998.6,1041.0 1999.0,1097.8 1999.3,1033.9 1999.7,1097.9 2000.1,1105.5 2000.4,1040.1 2000.8,1096.4 2001.1,1039.0 2001.5,1104.5 2001.9,1040.4 2002.3,1034.8 2002.6,1084.8 2003.0,1089.7 2003.3,1037.1 2003.7,1037.0 2004.0,1087.3 2004.4,1043.2 2004.8,1089.8 2005.1,1029.6 2005.5,1103.3 2005.8,1047.5 2006.2,1090.6 2006.6,1044.3 2006.9,1092.7 2007.3,1110.5 2007.6,1035.8 2008.0,1036.8 2008.3,1093.7 2008.7,1091.2 2009.0,1036.5 2009.4,1087.7 2009.8,1040.4 2010.1,1035.7 2010.5,1090.6 2010.9,1098.6 2011.2,1039.3 2011.6,1039.5 2011.9,1094.5 2012.3,1041.0 2012.7,1081.9 2013.0,1033.2 2013.4,1085.6 2013.7,1036.3 2014.1,1094.3 2014.5,1106.6 2014.8,1043.8 2015.2,1042.3 2015.5,1096.1 2015.9,1025.5 2016.2,1115.1 2016.6,1107.0 2016.9,1024.5 2017.3,1044.1 2017.6,1103.8 2018.0,1108.1 2018.3,1031.6 2018.7,1098.2 2019.1,1046.3 2019.5,1033.5 2019.8,1101.2 2020.2,1040.4 2020.5,1086.1 2020.9,1056.7 2021.3,1105.5 2021.6,1096.2 2022.0,1043.0 2022.3,1096.3 2022.7,1041.0 2023.1,1098.2 2023.4,1036.3 2023.8,1097.0 2024.1,1048.7 2024.5,1093.5 2024.8,1040.6 2025.2,1035.2 2025.5,1098.0 2025.9,1101.7 2026.2,1046.9 2026.6,1038.3 2026.9,1108.4 2027.3,1111.6 2027.7,1045.6 2028.1,1048.4 2028.4,1091.7 2028.8,1043.8 2029.1,1101.1 2029.5,1044.8 2029.9,1105.3 2030.2,1049.0 2030.6,1094.6 2030.9,1103.1 2031.3,1039.7 2031.7,1093.0 2032.0,1038.6 2032.4,1035.2 2032.7,1087.9 2033.1,1034.6 2033.4,1091.5 2033.8,1098.5 2034.1,1045.6 2034.5,1037.8 2034.8,1089.0 2035.2,1031.1 2035.5,1097.0 2035.9,1099.1 2036.3,1050.9 2036.6,1047.4 2037.0,1102.6 2037.4,1039.5 2037.7,1102.2 2038.1,1040.2 2038.4,1096.9 2038.8,1045.9 2039.2,1094.1 2039.5,1107.7 2039.9,1053.5 2040.2,1092.7 2040.6,1048.8 2040.9,1104.6 2041.3,1044.7 2041.6,1103.1 2042.0,1052.7 2042.3,1039.9 2042.7,1092.1 2043.1,1104.1 2043.4,1046.3 2043.8,1110.5 2044.1,1028.2 2044.5,1016.6 2044.9,1100.4 2045.2,1042.8 2045.6,1102.5 2045.9,1045.7 2046.3,1104.1 2046.7,1097.4 2047.0,1057.2 2047.4,1035.5 2047.7,1108.8 2048.1,1044.8 2048.4,1089.2 2048.8,1041.6 2049.1,1085.1 2049.5,1114.8 2049.9,1048.2 2050.2,1108.0 2050.6,1040.8 2050.9,1042.7 2051.3,1079.3 2051.6,1043.2 2052.0,1103.8 2052.4,1103.8 2052.7,1035.3 2053.1,1099.6 2053.4,1037.1 2053.8,1104.8 2054.1,1050.1 2054.5,1041.1 2054.9,1095.8 2055.2,1088.4 2055.6,1041.1 2055.9,1045.7 2056.3,1110.0 2056.6,1044.9 2057.0,1103.4 2057.3,1035.1 2057.7,1104.0 2058.0,1102.5 2058.4,1049.4 2058.8,1040.6 2059.1,1106.8 2059.5,1106.5 2059.8,1039.3 2060.2,1043.9 2060.6,1094.7 2060.9,1038.7 2061.3,1097.2 2061.6,1112.5 2062.0,1027.6 2062.4,1047.6 2062.7,1103.2 2063.1,1111.0 2063.4,1041.0 2063.8,1042.8 2064.1,1099.0 2064.5,1033.9 2064.8,1101.0 2065.2,1032.1 2065.5,1103.1 2065.9,1044.0 2066.3,1098.3 2066.6,1116.3 2067.0,1030.7 2067.3,1044.1 2067.7,1100.6 2068.1,1029.7 2068.4,1102.2 2068.8,1097.2 2069.1,1017.0 2069.5,1107.3 2069.8,1046.9 2070.2,1044.1 2070.5,1104.4 2070.9,1106.9 2071.2,1034.1 2071.6,1035.9 2072.0,1110.6 2072.3,1038.6 2072.7,1096.0 2073.0,1053.2 2073.4,1094.5 2073.7,1022.7 2074.1,1100.2 2074.5,1044.4 2074.8,1100.6 2075.2,1047.6 2075.5,1103.5 2075.9,1102.7 2076.2,1046.6 2076.6,1097.8 2076.9,1031.6 2077.3,1100.1 2077.7,1031.8 2078.0,1035.6 2078.4,1091.0 2078.7,1044.9 2079.1,1101.4 2079.4,1107.4 2079.8,1050.4 2080.2,1102.7 2080.5,1035.3 2080.9,1094.3 2081.2,1039.0 2081.6,1104.5 2081.9,1032.7 2082.3,1095.9 2082.6,1049.2 2083.0,1047.1 2083.4,1109.5 2083.7,1031.3 2084.1,1104.5 2084.4,1111.2 2084.8,1035.4 2085.1,1098.0 2085.5,1036.9 2085.8,1037.7 2086.2,1093.4 2086.6,1116.6 2086.9,1053.5 2087.3,1035.0 2087.6,1096.9 2088.0,1099.7 2088.3,1038.0 2088.7,1038.8 2089.0,1098.9 2089.4,1039.9 2089.8,1093.2 2090.1,1046.6 2090.5,1088.7 2090.8,1101.7 2091.2,1039.8 2091.5,1027.3 2091.9,1106.0 2092.3,1090.9 2092.6,1031.0 2093.0,1034.0 2093.3,1106.6 2093.7,1043.8 2094.0,1103.2 2094.4,1041.1 2094.7,1093.1 2095.1,1020.2 2095.5,1091.0 2095.8,1037.9 2096.2,1092.4 2096.5,1109.4 2096.9,1027.8 2097.2,1116.6 2097.6,1044.0 2097.9,1098.1 2098.3,1040.8 2098.7,1101.9 2099.0,1043.0 2099.4,1041.5 2099.7,1107.4 2100.1,1100.2 2100.4,1033.2 2100.8,1045.4 2101.1,1115.0 2101.5,1115.9 2101.8,1033.2 2102.2,1093.9 2102.5,1027.8 2102.9,1101.0 2103.2,1042.4 2103.6,1125.9 2104.0,1041.3 2104.3,1041.4 2104.7,1092.4 2105.0,1037.4 2105.4,1097.3 2105.8,1100.9 2106.1,1034.9 2106.5,1106.4 2106.8,1015.9 2107.2,1039.8 2107.5,1101.6 2107.9,1030.4 2108.2,1104.0 2108.6,1089.7 2108.9,1036.6 2109.3,1039.2 2109.6,1103.8 2110.0,1038.7 2110.4,1102.8 2110.7,1036.5 2111.1,1105.5 2111.4,1037.6 2111.8,1091.8 2112.1,1027.6 2112.5,1100.9 2112.9,1028.6 2113.2,1107.5 2113.6,1101.6 2113.9,1043.5 2114.3,1032.5 2114.6,1092.8 2115.0,1100.8 2115.3,1046.9 2115.7,1037.7 2116.0,1107.2 2116.4,1101.4 2116.8,1027.0 2117.1,1107.0 2117.5,1040.6 2117.8,1100.6 2118.2,1029.5 2118.5,1104.0 2118.9,1043.0 2119.2,1037.3 2119.6,1097.6 2119.9,1028.1 2120.3,1077.8 2120.7,1035.7 2121.0,1099.0 2121.4,1026.3 2121.7,1098.7 2122.1,1042.9 2122.4,1095.0 2122.8,1032.4 2123.1,1095.1 2123.5,1095.9 2123.8,1032.6 2124.2,1044.2 2124.5,1101.8 2124.9,1097.0 2125.3,1029.5 2125.6,1044.6 2126.0,1116.9 2126.3,1039.5 2126.7,1086.3 2127.0,1036.4 2127.4,1100.2 2127.8,1088.7 2128.1,1025.7 2128.5,1039.3 2128.8,1105.6 2129.2,1036.2 2129.5,1119.2 2129.9,1047.4 2130.2,1098.0 2130.6,1109.0 2130.9,1040.6 2131.3,1094.2 2131.7,1044.5 2132.0,1102.6 2132.4,1031.0 2132.7,1091.6 2133.1,1043.4 2133.4,1105.8 2133.8,1029.8 2134.1,1112.9 2134.5,1035.9 2134.8,1104.3 2135.2,1024.8 2135.6,1095.6 2135.9,1027.6 2136.3,1042.7 2136.6,1092.7 2137.0,1042.7 2137.3,1098.3 2137.7,1096.3 2138.0,1026.5 2138.4,1035.0 2138.7,1114.8 2139.1,1091.3 2139.4,1035.5 2139.8,1116.2 2140.2,1048.7 2140.5,1037.9 2140.9,1094.7 2141.2,1040.2 2141.6,1093.6 2141.9,1033.7 2142.3,1101.5 2142.6,1043.7 2143.0,1095.4 2143.4,1039.2 2143.7,1109.4 2144.1,1097.7 2144.4,1044.1 2144.8,1092.7 2145.1,1025.7 2145.5,1107.8 2145.8,1042.8 2146.2,1036.0 2146.6,1099.8 2146.9,1091.4 2147.3,1042.7 2147.6,1028.9 2148.0,1104.2 2148.3,1032.5 2148.7,1114.2 2149.0,1109.8 2149.4,1027.7 2149.7,1096.7 2150.1,1030.4 2150.4,1108.4 2150.8,1037.2 2151.2,1032.1 2151.5,1100.7 2151.9,1103.5 2152.2,1034.1 2152.6,1095.8 2152.9,1041.4 2153.3,1109.0 2153.6,1017.4 2154.0,1090.5 2154.3,1040.9 2154.7,1100.3 2155.0,1033.1 2155.4,1030.6 2155.8,1091.4 2156.1,1029.4 2156.5,1092.7 2156.8,1096.5 2157.2,1043.4 2157.5,1109.9 2157.9,1035.9 2158.2,1092.7 2158.6,1019.1 2158.9,1097.4 2159.3,1036.7 2159.7,1096.4 2160.0,1038.8 M1484.6,704.7 L1485.1,637.0 L1485.6,704.7 M1547.7,737.2 L1548.2,634.5 L1548.7,737.2 M1588.1,751.2 L1588.6,492.0 L1589.1,751.2 M1643.1,556.1 L1643.6,388.0 L1644.1,556.1 M1658.4,596.5 L1658.9,521.8 L1659.4,596.5 M1668.1,777.6 L1668.6,730.0 L1669.1,777.6 M1695.7,899.5 L1696.2,733.0 L1696.7,899.5 M1715.0,922.8 L1715.5,801.0 L1716.0,922.8 M1737.1,1027.9 L1737.6,907.0 L1738.1,1027.9 M1769.8,1055.3 L1770.3,992.0 L1770.8,1055.3 M1784.4,1059.5 L1784.9,781.0 L1785.4,1059.5 M1795.0,926.0 L1795.5,749.5 L1796.0,926.0 M1800.5,831.6 L1801.0,603.8 L1801.5,831.6 M1808.5,970.0 L1809.0,873.0 L1809.5,970.0 M1833.3,1065.0 L1833.8,897.0 L1834.3,1065.0 M1854.2,1067.0 L1854.7,973.7 L1855.2,1067.0 M1876.3,1063.9 L1876.8,984.0 L1877.3,1063.9 M1932.2,1064.5 L1932.7,989.0 L1933.2,1064.5 M1977.4,1067.7 L1977.9,939.4 L1978.4,1067.7 M2006.2,1068.9 L2006.7,929.2 L2007.2,1068.9 M2063.6,1070.9 L2064.1,854.0 L2064.6,1070.9 M2060.0,1070.8 L2060.5,966.0 L2061.0,1070.8 M2098.5,1069.3 L2099.0,1157.6 L2099.5,1069.3"/>
<path stroke="#000" d="M300.0,672.7 732.5,896.3 1097.9,1023.7 2029.8,1023.7"/>
</g>
<g stroke="#000" stroke-width="0.75" stroke-dasharray="1.39 4.17" fill="none">
<path d="M430.5,1440.5V160.5"/>
<path d="M506.5,1440.5V160.5"/>
<path d="M560.5,1440.5V160.5"/>
<path d="M602.5,1440.5V160.5"/>
<path d="M637.5,1440.5V160.5"/>
<path d="M665.5,1440.5V160.5"/>
<path d="M691.5,1440.5V160.5"/>
<path d="M713.5,1440.5V160.5"/>
<path d="M732.5,1440.5V160.5"/>
<path d="M863.5,1440.5V160.5"/>
<path d="M939.5,1440.5V160.5"/>
<path d="M993.5,1440.5V160.5"/>
<path d="M1035.5,1440.5V160.5"/>
<path d="M1069.5,1440.5V160.5"/>
<path d="M1098.5,1440.5V160.5"/>
<path d="M1123.5,1440.5V160.5"/>
<path d="M1145.5,1440.5V160.5"/>
<path d="M1165.5,1440.5V160.5"/>
<path d="M1295.5,1440.5V160.5"/>
<path d="M1371.5,1440.5V160.5"/>
<path d="M1425.5,1440.5V160.5"/>
<path d="M1467.5,1440.5V160.5"/>
<path d="M1501.5,1440.5V160.5"/>
<path d="M1530.5,1440.5V160.5"/>
<path d="M1555.5,1440.5V160.5"/>
<path d="M1578.5,1440.5V160.5"/>
<path d="M1597.5,1440.5V160.5"/>
<path d="M1728.5,1440.5V160.5"/>
<path d="M1804.5,1440.5V160.5"/>
<path d="M1858.5,1440.5V160.5"/>
<path d="M1900.5,1440.5V160.5"/>
<path d="M1934.5,1440.5V160.5"/>
<path d="M1963.5,1440.5V160.5"/>
<path d="M1988.5,1440.5V160.5"/>
<path d="M2010.5,1440.5V160.5"/>
<path d="M2030.5,1440.5V160.5"/>
<path d="M300.5,1344.5H2160.5"/>
<path d="M300.5,1287.5H2160.5"/>
<path d="M300.5,1247.5H2160.5"/>
<path d="M300.5,1216.5H2160.5"/>
<path d="M300.5,1191.5H2160.5"/>
<path d="M300.5,1170.5H2160.5"/>
<path d="M300.5,1151.5H2160.5"/>
<path d="M300.5,1135.5H2160.5"/>
<path d="M300.5,1120.5H2160.5"/>
<path d="M300.5,1024.5H2160.5"/>
<path d="M300.5,967.5H2160.5"/>
<path d="M300.5,927.5H2160.5"/>
<path d="M300.5,896.5H2160.5"/>
<path d="M300.5,871.5H2160.5"/>
<path d="M300.5,850.5H2160.5"/>
<path d="M300.5,831.5H2160.5"/>
<path d="M300.5,815.5H2160.5"/>
<path d="M300.5,800.5H2160.5"/>
<path d="M300.5,704.5H2160.5"/>
<path d="M300.5,647.5H2160.5"/>
<path d="M300.5,607.5H2160.5"/>
<path d="M300.5,576.5H2160.5"/>
<path d="M300.5,551.5H2160.5"/>
<path d="M300.5,530.5H2160.5"/>
<path d="M300.5,511.5H2160.5"/>
<path d="M300.5,495.5H2160.5"/>
<path d="M300.5,480.5H2160.5"/>
<path d="M300.5,384.5H2160.5"/>
<path d="M300.5,327.5H2160.5"/>
<path d="M300.5,287.5H2160.5"/>
<path d="M300.5,256.5H2160.5"/>
<path d="M300.5,231.5H2160.5"/>
<path d="M300.5,210.5H2160.5"/>
<path d="M300.5,191.5H2160.5"/>
<path d="M300.5,175.5H2160.5"/>
</g>
<g stroke="#000" stroke-width="0.75" fill="none">
<path d="M300.5,1440.5v-5.56M300.5,160.5v5.56"/>
<path d="M430.5,1440.5v-2.78M430.5,160.5v2.78"/>
<path d="M506.5,1440.5v-2.78M506.5,160.5v2.78"/>
<path d="M560.5,1440.5v-2.78M560.5,160.5v2.78"/>
<path d="M602.5,1440.5v-2.78M602.5,160.5v2.78"/>
<path d="M637.5,1440.5v-2.78M637.5,160.5v2.78"/>
<path d="M665.5,1440.5v-2.78M665.5,160.5v2.78"/>
<path d="M691.5,1440.5v-2.78M691.5,160.5v2.78"/>
<path d="M713.5,1440.5v-2.78M713.5,160.5v2.78"/>
<path d="M732.5,1440.5v-5.56M732.5,160.5v5.56"/>
<path d="M863.5,1440.5v-2.78M863.5,160.5v2.78"/>
<path d="M939.5,1440.5v-2.78M939.5,160.5v2.78"/>
<path d="M993.5,1440.5v-2.78M993.5,160.5v2.78"/>
<path d="M1035.5,1440.5v-2.78M1035.5,160.5v2.78"/>
<path d="M1069.5,1440.5v-2.78M1069.5,160.5v2.78"/>
<path d="M1098.5,1440.5v-2.78M1098.5,160.5v2.78"/>
<path d="M1123.5,1440.5v-2.78M1123.5,160.5v2.78"/>
<path d="M1145.5,1440.5v-2.78M1145.5,160.5v2.78"/>
<path d="M1165.5,1440.5v-5.56M1165.5,160.5v5.56"/>
<path d="M1295.5,1440.5v-2.78M1295.5,160.5v2.78"/>
<path d="M1371.5,1440.5v-2.78M1371.5,160.5v2.78"/>
<path d="M1425.5,1440.5v-2.78M1425.5,160.5v2.78"/>
<path d="M1467.5,1440.5v-2.78M1467.5,160.5v2.78"/>
<path d="M1501.5,1440.5v-2.78M1501.5,160.5v2.78"/>
<path d="M1530.5,1440.5v-2.78M1530.5,160.5v2.78"/>
<path d="M1555.5,1440.5v-2.78M1555.5,160.5v2.78"/>
<path d="M1578.5,1440.5v-2.78M1578.5,160.5v2.78"/>
<path d="M1597.5,1440.5v-5.56M1597.5,160.5v5.56"/>
<path d="M1728.5,1440.5v-2.78M1728.5,160.5v2.78"/>
<path d="M1804.5,1440.5v-2.78M1804.5,160.5v2.78"/>
<path d="M1858.5,1440.5v-2.78M1858.5,160.5v2.78"/>
<path d="M1900.5,1440.5v-2.78M1900.5,160.5v2.78"/>
<path d="M1934.5,1440.5v-2.78M1934.5,160.5v2.78"/>
<path d="M1963.5,1440.5v-2.78M1963.5,160.5v2.78"/>
<path d="M1988.5,1440.5v-2.78M1988.5,160.5v2.78"/>
<path d="M2010.5,1440.5v-2.78M2010.5,160.5v2.78"/>
<path d="M2030.5,1440.5v-5.56M2030.5,160.5v5.56"/>
<path d="M2160.5,1440.5v-2.78M2160.5,160.5v2.78"/>
<path d="M300.5,1440.5h5.56M2160.5,1440.5h-5.56"/>
<path d="M300.5,1344.5h2.78M2160.5,1344.5h-2.78"/>
<path d="M300.5,1287.5h2.78M2160.5,1287.5h-2.78"/>
<path d="M300.5,1247.5h2.78M2160.5,1247.5h-2.78"/>
<path d="M300.5,1216.5h2.78M2160.5,1216.5h-2.78"/>
<path d="M300.5,1191.5h2.78M2160.5,1191.5h-2.78"/>
<path d="M300.5,1170.5h2.78M2160.5,1170.5h-2.78"/>
<path d="M300.5,1151.5h2.78M2160.5,1151.5h-2.78"/>
<path d="M300.5,1135.5h2.78M2160.5,1135.5h-2.78"/>
<path d="M300.5,1120.5h5.56M2160.5,1120.5h-5.56"/>
<path d="M300.5,1024.5h2.78M2160.5,1024.5h-2.78"/>
<path d="M300.5,967.5h2.78M2160.5,967.5h-2.78"/>
<path d="M300.5,927.5h2.78M2160.5,927.5h-2.78"/>
<path d="M300.5,896.5h2.78M2160.5,896.5h-2.78"/>
<path d="M300.5,871.5h2.78M2160.5,871.5h-2.78"/>
<path d="M300.5,850.5h2.78M2160.5,850.5h-2.78"/>
<path d="M300.5,831.5h2.78M2160.5,831.5h-2.78"/>
<path d="M300.5,815.5h2.78M2160.5,815.5h-2.78"/>
<path d="M300.5,800.5h5.56M2160.5,800.5h-5.56"/>
<path d="M300.5,704.5h2.78M2160.5,704.5h-2.78"/>
<path d="M300.5,647.5h2.78M2160.5,647.5h-2.78"/>
<path d="M300.5,607.5h2.78M2160.5,607.5h-2.78"/>
<path d="M300.5,576.5h2.78M2160.5,576.5h-2.78"/>
<path d="M300.5,551.5h2.78M2160.5,551.5h-2.78"/>
<path d="M300.5,530.5h2.78M2160.5,530.5h-2.78"/>
<path d="M300.5,511.5h2.78M2160.5,511.5h-2.78"/>
<path d="M300.5,495.5h2.78M2160.5,495.5h-2.78"/>
<path d="M300.5,480.5h5.56M2160.5,480.5h-5.56"/>
<path d="M300.5,384.5h2.78M2160.5,384.5h-2.78"/>
<path d="M300.5,327.5h2.78M2160.5,327.5h-2.78"/>
<path d="M300.5,287.5h2.78M2160.5,287.5h-2.78"/>
<path d="M300.5,256.5h2.78M2160.5,256.5h-2.78"/>
<path d="M300.5,231.5h2.78M2160.5,231.5h-2.78"/>
<path d="M300.5,210.5h2.78M2160.5,210.5h-2.78"/>
<path d="M300.5,191.5h2.78M2160.5,191.5h-2.78"/>
<path d="M300.5,175.5h2.78M2160.5,175.5h-2.78"/>
<path d="M300.5,160.5h5.56M2160.5,160.5h-5.56"/>
</g>
<rect x="300.5" y="160.5" width="1860" height="1280" fill="none" stroke="#000" stroke-width="1.1"/>
<g style="will-change:opacity;opacity:0.999">
<text x="300.7" y="1463.5" font-size="16.67" text-anchor="middle">10<tspan dx="-0.5" dy="-9.4" font-size="11.5">-2</tspan></text>
<text x="733.2" y="1463.5" font-size="16.67" text-anchor="middle">10<tspan dx="-0.5" dy="-9.4" font-size="11.5">-1</tspan></text>
<text x="1165.6" y="1463.5" font-size="16.67" text-anchor="middle">10<tspan dx="-0.5" dy="-9.4" font-size="11.5">0</tspan></text>
<text x="1598.1" y="1463.5" font-size="16.67" text-anchor="middle">10<tspan dx="-0.5" dy="-9.4" font-size="11.5">1</tspan></text>
<text x="2030.5" y="1463.5" font-size="16.67" text-anchor="middle">10<tspan dx="-0.5" dy="-9.4" font-size="11.5">2</tspan></text>
<text x="293.3" y="1446.8" font-size="16.67" text-anchor="end">10<tspan dx="-0.5" dy="-9.4" font-size="11.5">-11</tspan></text>
<text x="293.3" y="1126.8" font-size="16.67" text-anchor="end">10<tspan dx="-0.5" dy="-9.4" font-size="11.5">-10</tspan></text>
<text x="293.3" y="806.8" font-size="16.67" text-anchor="end">10<tspan dx="-0.5" dy="-9.4" font-size="11.5">-9</tspan></text>
<text x="293.3" y="486.8" font-size="16.67" text-anchor="end">10<tspan dx="-0.5" dy="-9.4" font-size="11.5">-8</tspan></text>
<text x="293.3" y="166.8" font-size="16.67" text-anchor="end">10<tspan dx="-0.5" dy="-9.4" font-size="11.5">-7</tspan></text>
<text x="1231.4" y="1494.8" font-size="25" letter-spacing="0.27" text-anchor="middle">Freq (hz)</text>
<text transform="translate(241.1,802) rotate(-90)" font-size="25" letter-spacing="0" text-anchor="middle">m/rthz</text>
<text x="1202" y="58.8" font-size="36.10" letter-spacing="0.25" text-anchor="middle">HAM4 CPS Spectra</text>
<text x="1207.7" y="98.8" font-size="36.10" letter-spacing="0.2" text-anchor="middle">1179671820 to 1179672420</text>
</g>
<rect x="1804.5" y="174.5" width="342" height="306.5" fill="#fff" stroke="#000" stroke-width="1.1"/>
<path d="M1824,197.0H1863" stroke="#0000ff" stroke-width="4.17" stroke-linecap="square"/>
<text style="will-change:opacity;opacity:0.999" x="1890.4" y="207.0" font-size="27.78">HAM4_CPSINF_H1</text>
<path d="M1824,240.0H1863" stroke="#008000" stroke-width="4.17" stroke-linecap="square"/>
<text style="will-change:opacity;opacity:0.999" x="1890.4" y="250.0" font-size="27.78">HAM4_CPSINF_H2</text>
<path d="M1824,283.0H1863" stroke="#ff0000" stroke-width="4.17" stroke-linecap="square"/>
<text style="will-change:opacity;opacity:0.999" x="1890.4" y="293.0" font-size="27.78">HAM4_CPSINF_H3</text>
<path d="M1824,326.0H1863" stroke="#00bfbf" stroke-width="4.17" stroke-linecap="square"/>
<text style="will-change:opacity;opacity:0.999" x="1890.4" y="336.0" font-size="27.78">HAM4_CPSINF_V1</text>
<path d="M1824,369.0H1863" stroke="#bf00bf" stroke-width="4.17" stroke-linecap="square"/>
<text style="will-change:opacity;opacity:0.999" x="1890.4" y="379.0" font-size="27.78">HAM4_CPSINF_V2</text>
<path d="M1824,412.0H1863" stroke="#bfbf00" stroke-width="4.17" stroke-linecap="square"/>
<text style="will-change:opacity;opacity:0.999" x="1890.4" y="422.0" font-size="27.78">HAM4_CPSINF_V3</text>
<path d="M1824,455.0H1863" stroke="#000" stroke-width="4.17" stroke-linecap="square"/>
<text style="will-change:opacity;opacity:0.999" x="1893.6" y="465.0" font-size="27.78">ADE 1mm noise</text>
</svg></body></html>
